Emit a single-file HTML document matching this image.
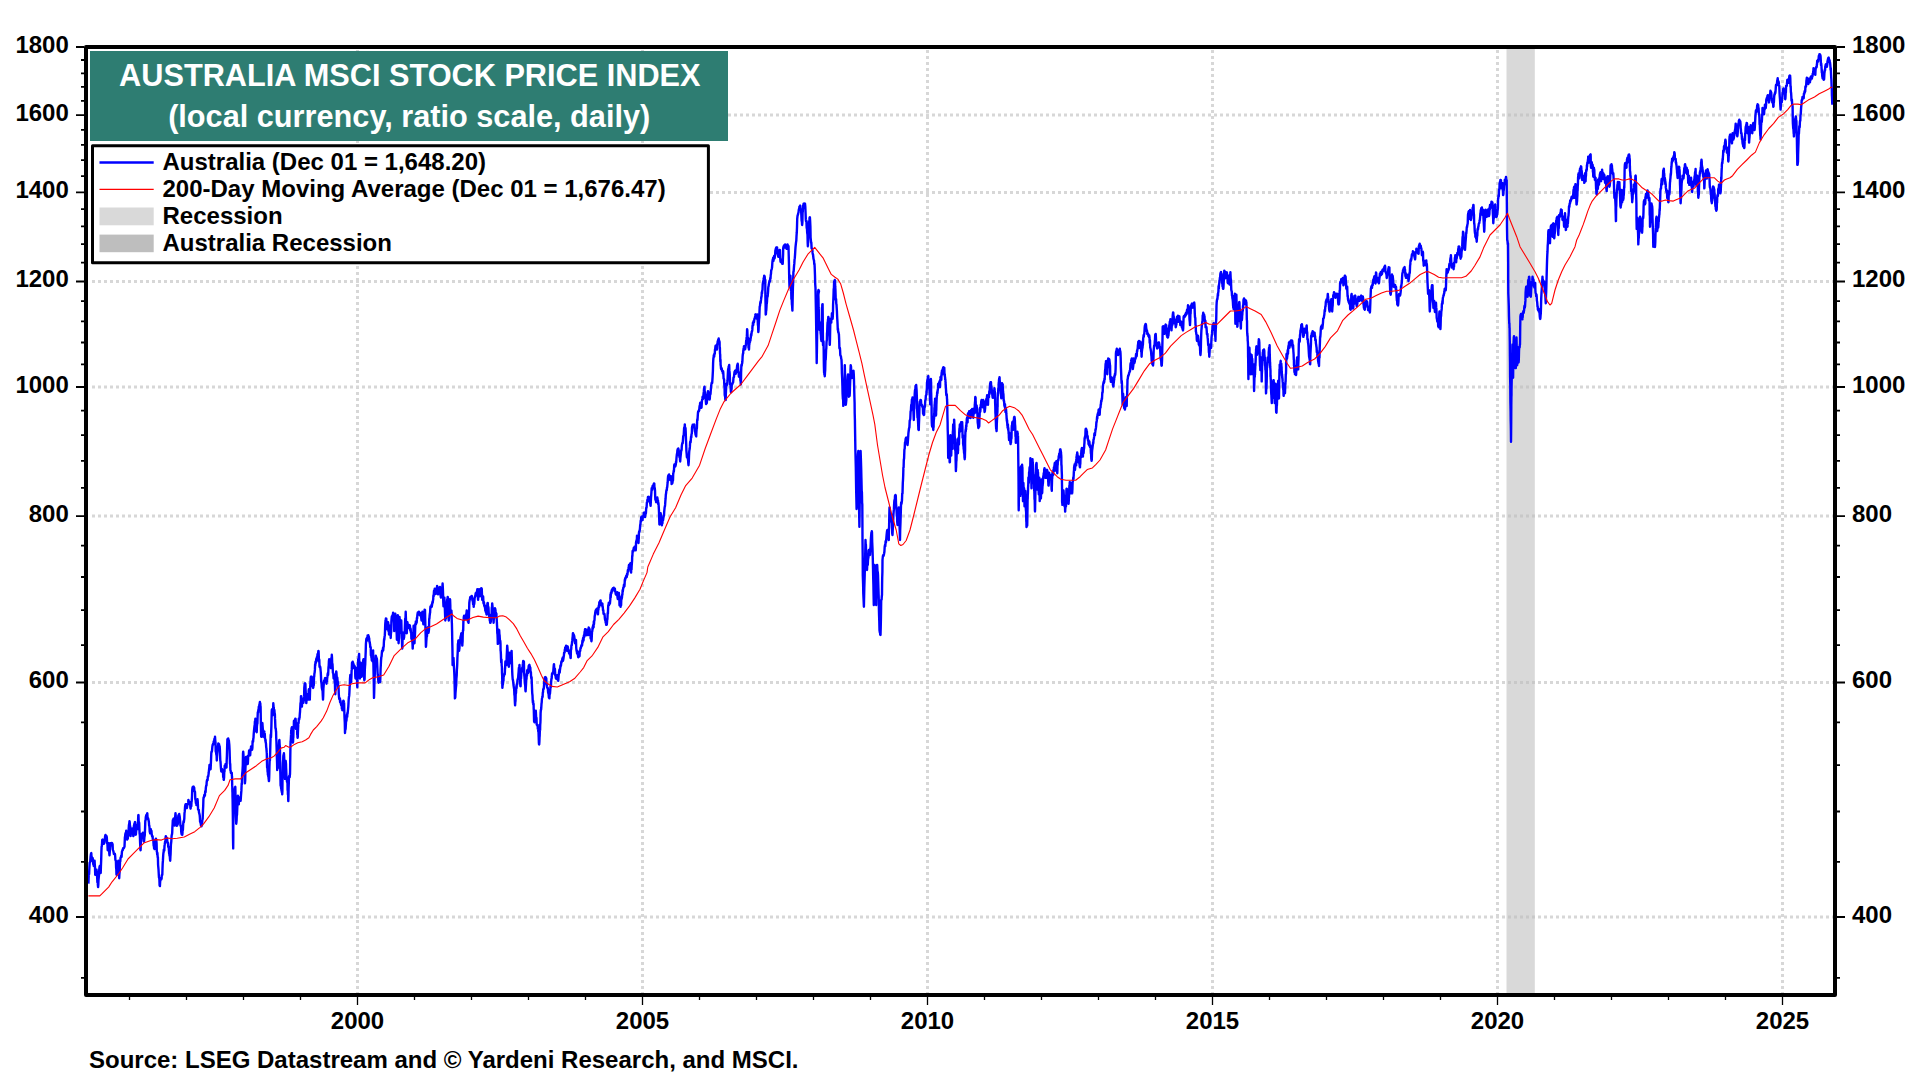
<!DOCTYPE html>
<html><head><meta charset="utf-8"><title>Australia MSCI Stock Price Index</title><style>html,body{margin:0;padding:0;background:#fff;}svg{display:block;}</style></head><body>
<svg width="1920" height="1080" viewBox="0 0 1920 1080">
<rect x="0" y="0" width="1920" height="1080" fill="#fff"/>
<rect x="1506.5" y="49" width="28.3" height="944" fill="#d9d9d9"/>
<path d="M92 115.1H1833 M92 192.4H1833 M92 281.5H1833 M92 387.0H1833 M92 516.1H1833 M92 682.5H1833 M92 917.0H1833 M357.5 50V993 M642.5 50V993 M927.5 50V993 M1212.5 50V993 M1497.5 50V993 M1782.5 50V993" stroke="#d7d7d7" stroke-width="3" stroke-dasharray="3 3" fill="none"/>
<clipPath id="bc"><rect x="1506.5" y="49" width="28.3" height="944"/></clipPath>
<path d="M92 115.1H1833 M92 192.4H1833 M92 281.5H1833 M92 387.0H1833 M92 516.1H1833 M92 682.5H1833 M92 917.0H1833 M357.5 50V993 M642.5 50V993 M927.5 50V993 M1212.5 50V993 M1497.5 50V993 M1782.5 50V993" stroke="#c8c8c8" stroke-width="3" stroke-dasharray="3 3" fill="none" clip-path="url(#bc)"/>
<path d="M88.4 883.6 L88.6 878.8 L88.8 874.1 L89.1 874.1 L89.3 869.5 L89.7 862.6 L90.2 861.9 L90.6 856.7 L91.0 853.7 L91.3 853.1 L91.5 857.2 L91.7 856.5 L91.9 860.7 L92.1 860.0 L92.4 858.2 L92.6 857.9 L92.8 859.0 L93.0 860.3 L93.2 864.2 L93.5 862.2 L93.7 866.0 L93.9 863.4 L94.1 864.0 L94.3 864.2 L94.6 860.7 L94.8 864.8 L95.0 867.0 L95.2 874.6 L95.4 874.8 L95.7 871.3 L95.9 873.9 L96.1 869.8 L96.3 869.5 L96.5 869.6 L96.8 871.7 L97.0 875.0 L97.2 878.3 L97.4 882.4 L97.6 880.8 L97.9 885.4 L98.1 887.1 L98.3 885.0 L98.5 880.1 L98.7 878.2 L99.0 874.8 L99.2 870.0 L99.4 867.8 L99.6 866.5 L99.8 866.0 L100.1 868.7 L100.3 869.1 L100.5 870.3 L100.7 873.0 L100.9 867.0 L101.2 859.5 L101.4 851.8 L101.6 846.6 L101.8 846.5 L102.0 844.2 L102.2 840.0 L102.5 839.6 L102.9 840.8 L103.3 841.5 L103.8 843.8 L104.2 843.1 L104.4 842.6 L104.7 838.5 L104.9 840.4 L105.1 836.1 L105.5 834.9 L105.8 835.8 L106.2 836.9 L106.5 836.1 L106.8 837.2 L107.1 843.1 L107.4 843.4 L107.7 850.2 L108.0 849.3 L108.2 848.1 L108.4 845.3 L108.6 843.1 L108.8 848.8 L109.1 848.0 L109.3 853.7 L109.5 855.4 L109.7 853.0 L109.9 849.8 L110.2 845.9 L110.4 843.1 L110.8 844.2 L111.3 844.6 L111.7 843.0 L112.1 843.1 L112.4 845.8 L112.6 844.3 L112.8 849.5 L113.0 850.2 L113.5 851.7 L113.9 854.0 L114.3 854.2 L114.8 853.7 L115.0 854.3 L115.2 856.6 L115.4 859.9 L115.7 860.7 L115.9 860.9 L116.1 867.5 L116.3 869.0 L116.5 874.8 L116.8 870.4 L117.0 867.8 L117.2 869.8 L117.4 866.0 L117.6 862.9 L117.9 862.2 L118.1 861.5 L118.3 860.7 L118.5 867.7 L118.7 866.6 L119.0 873.6 L119.2 878.3 L119.4 874.3 L119.6 872.2 L119.8 867.4 L120.1 860.7 L120.3 861.4 L120.5 858.0 L120.7 857.7 L120.9 857.2 L121.2 855.7 L121.4 857.1 L121.6 856.5 L121.8 853.7 L122.0 851.3 L122.3 850.5 L122.5 849.9 L122.7 850.2 L123.1 848.2 L123.6 848.3 L124.0 847.9 L124.5 846.6 L124.7 841.9 L124.9 837.1 L125.1 836.9 L125.3 834.3 L125.6 832.9 L125.8 832.9 L126.0 833.6 L126.2 830.8 L126.4 834.1 L126.7 835.3 L126.9 838.1 L127.1 839.6 L127.3 839.5 L127.5 836.0 L127.8 838.7 L128.0 836.1 L128.2 835.2 L128.4 833.2 L128.6 830.1 L128.9 825.5 L129.1 824.2 L129.3 823.4 L129.5 821.2 L129.7 822.0 L130.0 826.5 L130.2 826.0 L130.4 829.5 L130.6 836.1 L130.8 834.0 L131.1 832.9 L131.3 832.8 L131.5 832.6 L131.7 829.8 L131.9 828.7 L132.2 828.5 L132.4 829.1 L132.6 828.7 L132.8 831.9 L133.0 831.8 L133.3 836.1 L133.5 835.8 L133.7 831.5 L133.9 825.9 L134.1 825.5 L134.4 823.6 L134.6 823.1 L134.8 822.3 L135.0 822.0 L135.2 822.5 L135.5 830.6 L135.7 834.7 L135.9 834.3 L136.1 831.9 L136.3 829.8 L136.6 825.3 L136.8 825.5 L137.0 824.7 L137.2 826.6 L137.4 827.2 L137.6 829.1 L137.9 827.8 L138.1 819.7 L138.3 815.2 L138.5 815.0 L138.7 821.7 L139.0 822.2 L139.2 823.1 L139.4 829.1 L139.6 833.8 L139.8 834.5 L140.1 842.4 L140.3 846.6 L140.4 849.6 L140.5 850.0 L140.6 850.1 L140.6 850.2 L140.8 844.5 L140.9 841.3 L141.0 836.0 L141.2 834.3 L141.4 835.8 L141.6 835.3 L141.8 836.7 L142.0 836.1 L142.3 834.5 L142.5 833.2 L142.7 834.8 L142.9 832.6 L143.1 837.6 L143.4 839.0 L143.6 841.0 L143.8 841.4 L144.0 841.6 L144.2 839.9 L144.5 836.1 L144.7 836.1 L144.9 832.3 L145.1 827.2 L145.3 820.9 L145.6 820.3 L145.8 816.7 L146.0 816.6 L146.2 815.2 L146.4 815.0 L146.7 815.3 L146.9 815.8 L147.1 813.5 L147.3 813.2 L147.5 816.6 L147.8 818.2 L148.0 819.4 L148.2 818.5 L148.4 819.5 L148.6 820.5 L148.9 822.3 L149.1 825.5 L149.3 825.7 L149.5 827.5 L149.7 831.5 L150.0 832.6 L150.2 833.4 L150.4 832.3 L150.6 829.9 L150.8 829.1 L151.1 831.1 L151.3 833.1 L151.5 831.0 L151.7 834.3 L151.9 835.4 L152.2 836.7 L152.4 836.7 L152.6 836.1 L152.8 839.2 L153.0 839.5 L153.3 839.7 L153.5 843.1 L153.7 845.8 L153.9 845.0 L154.1 848.5 L154.4 848.4 L154.6 849.0 L154.8 843.4 L155.0 841.2 L155.2 839.6 L155.5 841.0 L155.7 840.3 L155.9 838.6 L156.1 839.6 L156.3 840.1 L156.6 843.4 L156.8 851.6 L157.0 851.9 L157.2 854.7 L157.4 852.9 L157.7 857.4 L157.9 857.2 L158.1 865.0 L158.3 867.1 L158.5 869.3 L158.8 874.8 L159.0 877.7 L159.2 877.7 L159.4 879.6 L159.6 885.3 L159.9 886.1 L160.1 882.6 L160.3 880.2 L160.5 878.3 L160.7 879.7 L161.0 878.1 L161.2 879.5 L161.4 878.3 L161.6 878.8 L161.8 875.3 L162.1 874.6 L162.3 874.8 L162.5 868.5 L162.7 863.3 L162.9 860.9 L163.2 855.4 L163.4 853.0 L163.6 852.4 L163.8 849.7 L164.0 850.2 L164.3 850.6 L164.5 845.9 L164.7 844.7 L164.9 843.1 L165.1 841.8 L165.4 841.8 L165.6 837.4 L165.8 836.1 L166.0 838.1 L166.2 837.0 L166.5 837.5 L166.7 837.9 L166.9 839.3 L167.1 838.2 L167.3 841.5 L167.6 843.1 L167.8 842.7 L168.0 842.8 L168.2 847.0 L168.4 846.6 L168.7 846.7 L168.9 850.0 L169.1 853.1 L169.3 853.7 L169.5 855.7 L169.8 856.3 L170.0 859.1 L170.2 860.7 L170.4 856.7 L170.6 853.9 L170.9 844.8 L171.1 843.1 L171.3 841.3 L171.5 837.3 L171.7 835.2 L172.0 834.3 L172.2 832.7 L172.4 827.4 L172.6 824.2 L172.8 820.3 L173.1 820.8 L173.3 820.9 L173.5 818.7 L173.7 818.5 L173.9 820.9 L174.1 822.1 L174.4 823.8 L174.6 825.5 L174.8 823.8 L175.0 819.1 L175.2 816.5 L175.5 813.2 L175.7 815.3 L175.9 820.2 L176.1 821.0 L176.3 822.0 L176.6 824.5 L176.8 825.7 L177.0 823.6 L177.2 825.5 L177.4 824.1 L177.7 824.4 L177.9 822.1 L178.1 818.5 L178.3 816.1 L178.5 815.1 L178.8 815.6 L179.0 815.0 L179.2 814.0 L179.4 815.6 L179.6 815.8 L179.9 818.5 L180.1 821.2 L180.3 823.5 L180.5 825.9 L180.7 825.5 L181.0 825.7 L181.2 831.2 L181.4 833.1 L181.6 834.3 L181.8 832.6 L182.1 834.9 L182.3 834.8 L182.5 832.6 L182.7 828.2 L182.9 830.2 L183.2 824.0 L183.4 822.0 L183.6 821.1 L183.8 822.3 L184.0 820.8 L184.3 818.5 L184.5 813.1 L184.7 811.9 L184.9 809.4 L185.1 806.2 L185.4 805.2 L185.6 804.2 L185.8 804.2 L186.0 804.4 L186.2 806.3 L186.5 804.1 L186.7 807.3 L186.9 808.0 L187.1 806.8 L187.3 804.1 L187.6 804.6 L187.8 804.4 L188.0 804.1 L188.2 802.7 L188.4 799.9 L188.7 800.9 L188.9 803.2 L189.1 802.9 L189.3 804.0 L189.5 802.7 L189.8 802.1 L190.0 804.2 L190.2 804.4 L190.4 808.0 L190.6 808.6 L190.9 806.2 L191.1 805.3 L191.3 806.2 L191.5 801.7 L191.7 801.2 L192.0 796.6 L192.2 790.4 L192.4 788.5 L192.6 787.1 L192.8 789.5 L193.1 786.8 L193.3 787.5 L193.5 788.5 L193.7 786.6 L193.9 788.6 L194.2 787.6 L194.4 791.2 L194.6 790.9 L194.8 792.1 L195.0 791.8 L195.3 799.1 L195.5 799.5 L195.7 800.9 L195.9 803.1 L196.1 800.9 L196.4 805.1 L196.6 804.4 L196.8 801.0 L197.0 803.5 L197.2 800.3 L197.5 799.2 L197.7 800.8 L197.9 804.8 L198.1 809.8 L198.3 809.7 L198.6 809.6 L198.8 809.9 L199.0 812.5 L199.2 813.2 L199.4 813.9 L199.7 815.3 L199.9 817.8 L200.1 822.0 L200.3 821.0 L200.5 822.5 L200.8 823.9 L201.0 825.5 L201.2 824.9 L201.4 826.4 L201.6 824.9 L201.9 825.5 L202.1 823.8 L202.3 820.3 L202.5 819.5 L202.7 818.5 L203.0 809.9 L203.2 806.2 L203.4 799.3 L203.6 797.4 L203.8 797.8 L204.1 796.7 L204.3 794.9 L204.5 795.6 L204.7 794.7 L204.9 795.7 L205.2 791.3 L205.4 792.1 L205.6 792.1 L205.8 788.2 L206.0 786.8 L206.3 785.1 L206.5 785.4 L206.7 781.9 L206.9 781.2 L207.1 779.8 L207.4 779.7 L207.6 780.1 L207.8 776.5 L208.0 776.3 L208.2 776.6 L208.5 774.6 L208.7 773.0 L208.9 771.0 L209.1 769.2 L209.3 767.6 L209.5 764.9 L209.8 765.7 L210.0 765.0 L210.2 765.7 L210.4 769.4 L210.6 769.3 L210.9 763.1 L211.1 758.1 L211.3 753.2 L211.5 751.7 L211.7 752.0 L212.0 750.8 L212.2 748.5 L212.4 746.4 L212.6 745.1 L212.8 744.5 L213.1 744.3 L213.3 744.6 L213.5 743.6 L213.7 741.4 L213.9 741.8 L214.2 741.1 L214.4 738.9 L214.6 741.0 L214.8 739.9 L215.0 736.7 L215.3 740.8 L215.5 742.4 L215.7 751.2 L215.9 751.7 L216.1 752.7 L216.4 755.2 L216.6 755.3 L216.8 760.5 L217.0 756.6 L217.2 754.1 L217.5 751.2 L217.7 748.1 L217.9 746.0 L218.1 746.4 L218.3 743.4 L218.6 744.6 L218.8 744.2 L219.0 744.0 L219.2 745.6 L219.4 746.4 L219.7 746.7 L219.9 750.1 L220.1 755.6 L220.3 760.5 L220.5 761.4 L220.8 766.3 L221.0 768.6 L221.2 771.0 L221.4 771.5 L221.6 770.7 L221.9 770.5 L222.1 769.3 L222.3 771.7 L222.5 770.5 L222.7 771.2 L223.0 772.8 L223.2 777.1 L223.4 774.4 L223.6 779.2 L223.8 779.8 L224.1 777.3 L224.3 769.6 L224.5 771.6 L224.7 765.7 L224.9 766.8 L225.2 765.3 L225.4 765.3 L225.6 764.0 L225.8 766.2 L226.0 764.2 L226.3 766.7 L226.5 767.5 L226.7 760.5 L226.9 755.8 L227.1 748.5 L227.4 739.3 L227.6 740.3 L227.8 739.2 L228.0 740.1 L228.2 738.5 L228.5 740.4 L228.7 741.5 L228.9 740.5 L229.1 742.9 L229.3 744.9 L229.6 750.9 L229.8 757.7 L230.0 764.0 L230.2 763.9 L230.4 770.3 L230.7 770.9 L230.9 772.8 L231.1 773.2 L231.3 773.2 L231.5 773.3 L231.8 772.8 L231.9 776.2 L232.0 776.3 L232.2 785.4 L232.3 786.8 L232.4 791.6 L232.5 793.0 L232.5 796.3 L232.6 799.2 L232.8 812.6 L232.9 820.7 L233.0 837.8 L233.2 848.4 L233.3 836.6 L233.3 825.2 L233.4 816.4 L233.5 808.0 L233.7 805.2 L234.0 797.1 L234.2 796.4 L234.4 790.4 L234.6 791.5 L234.8 788.6 L235.1 787.2 L235.3 786.8 L235.5 795.9 L235.7 806.6 L235.9 816.4 L236.2 823.8 L236.4 822.3 L236.6 820.2 L236.8 814.7 L237.0 815.0 L237.3 807.7 L237.5 803.6 L237.7 802.2 L237.9 795.6 L238.1 796.7 L238.4 800.4 L238.6 799.4 L238.8 804.4 L239.0 800.3 L239.2 799.7 L239.5 800.1 L239.7 797.4 L239.9 799.1 L240.1 799.9 L240.3 799.1 L240.6 800.9 L240.8 798.4 L241.0 795.4 L241.2 792.8 L241.4 790.4 L241.7 783.3 L241.9 784.3 L242.1 775.1 L242.3 772.8 L242.5 770.8 L242.8 765.3 L243.0 753.6 L243.2 751.7 L243.4 753.6 L243.6 757.9 L243.9 761.0 L244.1 760.5 L244.3 765.8 L244.5 770.3 L244.7 775.6 L244.9 783.3 L245.2 780.3 L245.4 769.0 L245.6 765.4 L245.8 758.7 L246.0 756.9 L246.3 757.9 L246.5 759.1 L246.7 756.9 L246.9 756.7 L247.1 762.2 L247.4 762.3 L247.6 764.0 L247.8 764.0 L248.0 760.8 L248.2 755.8 L248.5 755.2 L248.7 756.0 L248.9 753.4 L249.1 750.5 L249.3 751.7 L249.6 750.4 L249.8 753.4 L250.0 754.1 L250.2 755.2 L250.4 751.8 L250.7 748.7 L250.9 747.7 L251.1 746.4 L251.3 746.5 L251.5 749.6 L251.8 746.9 L252.0 749.9 L252.2 749.2 L252.4 747.5 L252.6 741.1 L252.9 741.1 L253.1 741.6 L253.3 738.7 L253.5 738.0 L253.7 734.1 L254.0 730.6 L254.2 728.9 L254.4 726.9 L254.6 725.3 L254.7 726.5 L254.8 723.6 L254.9 721.5 L255.0 721.1 L255.1 720.6 L255.3 719.8 L255.4 718.7 L255.6 720.0 L255.7 719.9 L255.8 726.4 L256.0 725.4 L256.1 728.9 L256.2 731.6 L256.4 729.5 L256.5 730.4 L256.7 732.2 L256.8 730.1 L256.9 726.0 L257.1 724.8 L257.2 723.3 L257.4 723.5 L257.5 720.3 L257.6 717.0 L257.8 712.2 L257.9 712.2 L258.1 712.7 L258.2 712.3 L258.3 710.0 L258.5 709.6 L258.6 709.7 L258.8 706.6 L258.9 707.8 L259.0 707.9 L259.2 705.9 L259.3 706.3 L259.4 704.4 L259.6 704.7 L259.7 703.1 L259.9 702.0 L260.0 703.3 L260.1 706.0 L260.3 703.4 L260.4 705.7 L260.6 706.7 L260.7 712.5 L260.8 719.1 L261.0 729.2 L261.1 734.4 L261.2 736.8 L261.4 734.6 L261.5 736.7 L261.7 736.7 L261.8 731.9 L261.9 730.4 L262.1 725.9 L262.2 723.3 L262.4 723.1 L262.5 724.5 L262.6 726.1 L262.8 728.9 L262.9 731.4 L263.1 730.5 L263.2 730.2 L263.3 732.2 L263.5 735.2 L263.6 736.7 L263.8 735.3 L263.9 736.7 L264.0 733.9 L264.2 733.1 L264.3 731.5 L264.4 732.2 L264.6 733.1 L264.7 733.4 L264.9 735.9 L265.0 738.9 L265.1 738.3 L265.3 739.7 L265.4 741.1 L265.6 740.0 L265.7 742.6 L265.8 742.4 L266.0 743.7 L266.1 745.6 L266.2 747.3 L266.4 748.2 L266.5 749.7 L266.7 752.2 L266.8 753.0 L266.9 758.4 L267.1 767.2 L267.2 767.8 L267.4 767.2 L267.5 770.0 L267.6 771.7 L267.8 772.2 L267.9 775.0 L268.1 773.2 L268.2 774.5 L268.3 776.7 L268.5 776.6 L268.6 778.4 L268.8 779.8 L268.9 781.1 L269.0 781.0 L269.2 776.9 L269.3 773.7 L269.4 767.8 L269.6 761.9 L269.7 759.2 L269.9 760.8 L270.0 756.7 L270.1 754.7 L270.3 747.0 L270.4 743.1 L270.6 737.8 L270.7 734.8 L270.8 735.7 L271.0 737.1 L271.1 734.4 L271.2 731.2 L271.4 725.8 L271.5 721.1 L271.7 712.2 L271.8 710.7 L271.9 709.6 L272.1 709.2 L272.2 710.0 L272.4 711.2 L272.5 713.0 L272.6 715.3 L272.8 714.4 L272.9 713.1 L273.1 709.9 L273.2 707.8 L273.3 703.3 L273.5 705.3 L273.6 708.1 L273.8 707.3 L273.9 712.2 L274.0 712.8 L274.2 710.1 L274.3 712.2 L274.4 710.0 L274.6 713.1 L274.7 713.3 L274.9 714.5 L275.0 718.9 L275.1 719.9 L275.3 724.7 L275.4 727.6 L275.6 728.9 L275.7 728.1 L275.8 728.8 L276.0 731.5 L276.1 732.2 L276.2 737.5 L276.4 740.9 L276.5 744.5 L276.7 751.1 L276.8 756.5 L276.9 757.1 L277.1 763.9 L277.2 770.0 L277.4 766.4 L277.5 766.5 L277.6 761.0 L277.8 756.7 L277.9 762.0 L278.1 762.1 L278.2 763.3 L278.3 767.8 L278.5 760.5 L278.6 759.9 L278.8 752.5 L278.9 745.6 L279.0 743.2 L279.2 740.5 L279.3 741.4 L279.4 740.0 L279.6 744.3 L279.7 745.6 L279.9 747.5 L280.0 752.2 L280.1 761.7 L280.3 771.9 L280.4 775.3 L280.6 785.6 L280.7 784.3 L280.8 786.0 L281.0 786.9 L281.1 787.8 L281.2 789.0 L281.4 787.7 L281.5 790.6 L281.7 790.0 L281.8 792.2 L281.9 792.2 L282.1 792.0 L282.2 794.4 L282.4 791.1 L282.5 779.8 L282.6 776.7 L282.8 767.8 L282.9 763.2 L283.1 760.4 L283.2 761.1 L283.3 756.7 L283.5 755.0 L283.6 756.9 L283.8 754.1 L283.9 753.3 L284.0 754.2 L284.2 757.5 L284.3 761.9 L284.4 765.6 L284.6 770.0 L284.7 775.4 L284.9 773.1 L285.0 778.9 L285.1 773.7 L285.3 768.0 L285.4 768.9 L285.6 761.1 L285.7 760.9 L285.8 762.1 L286.0 763.8 L286.1 767.8 L286.2 769.4 L286.4 774.6 L286.5 776.7 L286.7 776.7 L286.8 778.8 L286.9 781.1 L287.1 782.0 L287.2 781.1 L287.4 782.3 L287.5 783.7 L287.6 790.3 L287.8 790.0 L287.9 794.4 L288.1 792.5 L288.2 799.4 L288.3 801.1 L288.5 794.7 L288.6 789.1 L288.8 783.3 L288.9 778.9 L289.0 777.1 L289.2 775.9 L289.3 776.4 L289.4 776.7 L289.6 775.5 L289.7 777.3 L289.9 773.5 L290.0 774.4 L290.1 769.4 L290.3 755.7 L290.4 748.4 L290.6 741.1 L290.7 741.1 L290.8 739.5 L291.0 735.8 L291.1 734.4 L291.2 730.4 L291.4 731.0 L291.5 728.8 L291.7 727.8 L291.8 729.5 L291.9 727.2 L292.1 728.1 L292.2 728.9 L292.4 735.0 L292.5 732.3 L292.6 738.3 L292.8 742.2 L292.9 742.5 L293.1 741.2 L293.2 736.8 L293.3 737.8 L293.5 730.4 L293.6 726.4 L293.8 728.2 L293.9 721.1 L294.0 720.7 L294.2 723.2 L294.3 724.3 L294.4 723.3 L294.6 721.8 L294.7 720.7 L294.9 722.8 L295.0 720.0 L295.1 720.1 L295.3 718.6 L295.4 719.9 L295.6 718.9 L295.7 720.3 L295.8 722.5 L296.0 723.3 L296.1 728.9 L296.2 728.7 L296.4 728.1 L296.5 725.4 L296.7 723.3 L296.8 729.0 L296.9 725.8 L297.1 729.9 L297.2 734.4 L297.4 734.9 L297.5 737.3 L297.6 737.9 L297.8 736.7 L297.9 732.5 L298.1 728.3 L298.2 726.2 L298.3 723.3 L298.5 722.2 L298.6 723.1 L298.8 718.6 L298.9 718.9 L299.0 719.7 L299.2 719.2 L299.3 719.2 L299.4 717.8 L299.6 717.7 L299.7 715.5 L299.9 712.8 L300.0 712.2 L300.3 706.9 L300.5 703.2 L300.8 702.1 L301.0 696.1 L301.2 696.1 L301.5 699.4 L301.7 705.6 L301.9 706.6 L302.1 703.5 L302.3 700.8 L302.6 698.9 L302.8 699.6 L303.0 700.2 L303.2 699.8 L303.4 702.7 L303.6 701.4 L303.9 700.1 L304.1 696.9 L304.3 687.9 L304.5 685.5 L304.7 683.6 L305.0 683.2 L305.2 684.2 L305.4 683.8 L305.6 690.1 L305.8 693.1 L306.1 696.4 L306.3 703.1 L306.5 700.4 L306.7 699.4 L306.9 697.6 L307.2 694.3 L307.4 696.8 L307.6 698.6 L307.8 699.1 L308.0 699.6 L308.3 694.6 L308.5 696.5 L308.7 690.4 L308.9 689.1 L309.1 692.1 L309.4 693.5 L309.6 698.5 L309.8 699.6 L310.0 692.2 L310.2 687.3 L310.5 682.0 L310.7 678.5 L310.9 676.8 L311.1 679.1 L311.3 677.5 L311.6 676.7 L311.8 677.9 L312.0 680.5 L312.2 686.2 L312.4 685.5 L312.7 686.0 L312.9 685.4 L313.1 688.0 L313.3 687.3 L313.5 685.6 L313.8 685.1 L314.0 676.9 L314.2 676.7 L314.4 673.5 L314.6 672.8 L314.9 669.9 L315.1 664.4 L315.3 665.5 L315.5 661.8 L315.7 662.3 L316.0 662.7 L316.2 659.5 L316.4 658.6 L316.6 661.0 L316.8 657.4 L317.1 656.9 L317.3 657.5 L317.5 654.2 L317.7 653.9 L317.9 654.7 L318.2 652.4 L318.4 650.9 L318.6 651.2 L318.8 656.9 L319.0 661.8 L319.3 659.7 L319.5 666.2 L319.7 667.0 L319.9 667.5 L320.1 666.5 L320.4 668.0 L320.6 670.5 L320.8 672.5 L321.0 676.4 L321.2 682.0 L321.5 682.5 L321.7 686.1 L321.9 688.1 L322.1 689.1 L322.3 689.8 L322.6 691.2 L322.8 695.9 L323.0 699.6 L323.2 696.5 L323.4 688.6 L323.7 685.1 L323.9 682.0 L324.1 680.5 L324.3 682.2 L324.5 680.9 L324.8 680.3 L325.0 678.2 L325.2 677.9 L325.4 678.6 L325.6 678.5 L325.9 680.1 L326.1 681.8 L326.3 680.5 L326.5 683.8 L326.7 680.2 L327.0 681.3 L327.2 678.0 L327.4 676.7 L327.6 674.4 L327.8 673.2 L328.1 675.0 L328.3 671.5 L328.5 667.1 L328.7 665.8 L328.9 661.2 L329.2 659.2 L329.4 659.3 L329.6 661.4 L329.8 662.3 L330.0 660.9 L330.3 662.0 L330.5 662.8 L330.7 667.4 L330.9 668.0 L331.1 662.6 L331.4 657.9 L331.6 660.9 L331.8 654.8 L332.0 657.5 L332.2 663.6 L332.5 664.0 L332.7 668.0 L332.9 673.0 L333.1 673.0 L333.3 673.7 L333.6 678.5 L333.8 675.6 L334.0 677.0 L334.2 676.5 L334.4 675.0 L334.7 682.7 L334.9 681.8 L335.1 690.4 L335.3 694.3 L335.5 687.7 L335.8 682.9 L336.0 674.7 L336.2 671.5 L336.4 672.1 L336.6 675.1 L336.9 679.0 L337.1 678.5 L337.3 677.7 L337.5 680.2 L337.7 682.4 L338.0 682.0 L338.2 688.3 L338.4 686.1 L338.6 688.7 L338.8 694.3 L339.1 697.8 L339.3 699.2 L339.5 698.2 L339.7 699.6 L339.9 698.4 L340.1 702.1 L340.4 700.5 L340.6 701.4 L340.8 704.0 L341.0 703.6 L341.2 705.4 L341.5 704.9 L341.7 704.6 L341.9 708.9 L342.1 707.5 L342.3 710.2 L342.6 707.4 L342.8 707.8 L343.0 705.5 L343.2 701.4 L343.4 700.6 L343.7 701.2 L343.9 702.3 L344.1 703.1 L344.3 710.7 L344.5 717.3 L344.8 722.9 L345.0 733.0 L345.2 729.4 L345.4 729.9 L345.6 728.8 L345.9 724.2 L346.1 720.0 L346.3 721.1 L346.5 720.3 L346.7 717.2 L347.0 714.4 L347.2 716.9 L347.4 712.9 L347.6 713.7 L347.8 711.7 L348.1 708.7 L348.3 706.6 L348.5 703.1 L348.7 699.3 L348.9 697.3 L349.2 695.7 L349.4 692.6 L349.6 687.7 L349.8 684.9 L350.0 679.0 L350.3 675.0 L350.5 676.4 L350.7 676.0 L350.9 680.9 L351.1 682.0 L351.4 677.1 L351.6 670.5 L351.8 669.4 L352.0 662.7 L352.2 663.6 L352.5 662.5 L352.7 661.6 L352.9 662.7 L353.1 663.9 L353.3 663.4 L353.6 664.9 L353.8 668.0 L354.0 667.3 L354.2 665.5 L354.4 666.4 L354.7 666.2 L354.9 669.3 L355.1 669.2 L355.3 676.4 L355.5 678.5 L355.8 673.2 L356.0 674.7 L356.2 672.4 L356.4 668.0 L356.6 672.9 L356.9 674.5 L357.1 682.5 L357.3 687.3 L357.5 679.4 L357.7 676.4 L358.0 663.6 L358.2 659.2 L358.4 659.5 L358.6 658.9 L358.8 656.3 L359.1 653.9 L359.3 662.2 L359.5 664.0 L359.7 675.7 L359.9 678.5 L360.2 674.5 L360.4 673.8 L360.6 669.5 L360.8 662.7 L361.0 663.8 L361.3 671.7 L361.5 676.2 L361.7 676.7 L361.9 672.7 L362.1 672.4 L362.4 672.8 L362.6 669.7 L362.8 664.9 L363.0 667.0 L363.2 660.4 L363.5 659.2 L363.7 666.6 L363.9 667.2 L364.1 675.0 L364.3 680.3 L364.6 679.2 L364.8 670.3 L365.0 666.7 L365.2 664.4 L365.4 658.8 L365.7 651.7 L365.9 644.0 L366.1 641.6 L366.3 639.3 L366.5 638.4 L366.8 640.8 L367.0 638.0 L367.2 638.3 L367.4 638.6 L367.6 635.5 L367.9 636.3 L368.1 637.2 L368.3 635.1 L368.5 636.4 L368.7 636.3 L369.0 638.3 L369.2 638.3 L369.4 642.0 L369.6 641.6 L369.8 643.1 L370.1 644.6 L370.3 647.4 L370.5 646.8 L370.7 647.0 L370.9 655.3 L371.2 655.6 L371.4 657.4 L371.6 657.8 L371.8 660.4 L372.0 659.0 L372.3 660.9 L372.5 661.4 L372.7 656.1 L372.9 652.1 L373.1 650.4 L373.4 664.1 L373.6 673.7 L373.8 683.7 L374.0 697.9 L374.2 692.1 L374.5 679.7 L374.7 677.7 L374.9 668.0 L375.1 663.2 L375.3 662.8 L375.5 662.1 L375.8 655.6 L376.0 656.9 L376.2 658.1 L376.4 657.5 L376.6 659.2 L376.9 658.8 L377.1 662.1 L377.3 666.0 L377.5 671.5 L377.7 674.8 L378.0 676.3 L378.2 679.5 L378.4 682.0 L378.6 682.8 L378.8 678.7 L379.1 678.2 L379.3 678.5 L379.5 680.0 L379.7 678.2 L379.9 679.0 L380.2 682.0 L380.4 675.7 L380.6 668.7 L380.8 665.2 L381.0 660.9 L381.3 657.1 L381.5 657.0 L381.7 654.8 L381.9 652.1 L382.1 650.6 L382.4 651.7 L382.6 650.7 L382.8 650.4 L383.0 647.9 L383.2 650.5 L383.5 646.6 L383.7 646.8 L383.9 642.0 L384.1 639.0 L384.3 639.8 L384.6 636.3 L384.8 635.4 L385.0 631.2 L385.2 625.0 L385.4 622.2 L385.7 620.3 L385.9 618.4 L386.1 620.2 L386.3 618.7 L386.5 621.7 L386.8 623.0 L387.0 627.5 L387.2 629.3 L387.4 627.2 L387.6 628.1 L387.9 625.2 L388.1 622.2 L388.3 623.6 L388.5 631.2 L388.7 628.3 L389.0 634.5 L389.2 632.5 L389.4 629.6 L389.6 626.4 L389.8 625.7 L390.1 625.8 L390.3 633.8 L390.5 631.6 L390.7 638.0 L390.9 633.6 L391.2 631.5 L391.4 621.0 L391.6 618.7 L391.8 616.5 L392.0 617.4 L392.3 616.1 L392.5 615.2 L392.7 615.3 L392.9 615.5 L393.1 612.6 L393.4 613.4 L393.6 616.5 L393.8 620.8 L394.0 623.5 L394.2 631.0 L394.5 629.8 L394.7 625.1 L394.9 620.6 L395.1 615.2 L395.3 613.8 L395.6 617.3 L395.8 617.4 L396.0 616.9 L396.2 622.4 L396.4 630.1 L396.7 633.8 L396.9 639.8 L397.1 631.7 L397.3 624.7 L397.5 619.5 L397.8 615.2 L398.0 619.0 L398.2 628.1 L398.4 638.0 L398.6 643.3 L398.9 638.1 L399.1 632.5 L399.3 625.0 L399.5 616.9 L399.7 619.3 L400.0 625.2 L400.2 628.4 L400.4 632.8 L400.6 631.7 L400.8 626.8 L401.1 621.9 L401.3 620.5 L401.5 628.5 L401.7 637.8 L401.9 639.6 L402.2 648.6 L402.4 647.3 L402.6 637.3 L402.8 635.1 L403.0 632.8 L403.3 632.8 L403.5 636.6 L403.7 638.9 L403.9 638.0 L404.1 637.3 L404.4 632.6 L404.6 633.7 L404.8 629.3 L405.0 623.7 L405.2 618.6 L405.5 618.9 L405.7 611.7 L405.9 617.9 L406.1 623.6 L406.3 628.7 L406.6 632.8 L406.8 633.2 L407.0 627.3 L407.2 627.0 L407.4 622.2 L407.7 624.5 L407.9 626.6 L408.1 625.9 L408.3 627.5 L408.5 627.9 L408.8 626.9 L409.0 625.5 L409.2 625.7 L409.4 625.1 L409.6 627.1 L409.9 625.5 L410.1 627.5 L410.3 630.8 L410.5 628.4 L410.7 629.2 L410.9 632.8 L411.2 632.4 L411.4 638.6 L411.6 637.2 L411.8 639.8 L412.0 639.9 L412.3 641.5 L412.5 643.7 L412.7 648.6 L412.9 644.2 L413.1 638.1 L413.4 632.8 L413.6 625.7 L413.8 631.8 L414.0 631.5 L414.2 639.6 L414.5 643.3 L414.7 637.5 L414.9 635.9 L415.1 631.0 L415.3 624.0 L415.6 625.0 L415.8 621.5 L416.0 624.0 L416.2 622.2 L416.4 623.1 L416.7 622.3 L416.9 617.9 L417.1 618.7 L417.3 616.0 L417.5 614.2 L417.8 612.5 L418.0 613.4 L418.2 614.3 L418.4 613.7 L418.6 612.6 L418.9 611.7 L419.1 613.9 L419.3 614.0 L419.5 613.4 L419.7 615.2 L420.0 613.2 L420.2 612.8 L420.4 614.8 L420.6 613.4 L420.8 613.6 L421.1 616.0 L421.3 618.3 L421.5 620.5 L421.7 615.5 L421.9 614.6 L422.2 612.6 L422.4 611.7 L422.6 616.2 L422.8 616.9 L423.0 619.7 L423.3 624.0 L423.5 624.3 L423.7 618.7 L423.9 618.3 L424.1 613.4 L424.4 613.0 L424.6 609.7 L424.8 610.4 L425.0 609.9 L425.2 618.7 L425.5 630.3 L425.7 636.5 L425.9 646.8 L426.1 645.5 L426.3 641.8 L426.6 637.1 L426.8 636.3 L427.0 636.2 L427.2 629.5 L427.4 631.6 L427.7 627.5 L427.9 627.2 L428.1 627.7 L428.3 630.0 L428.5 632.8 L428.8 631.1 L429.0 629.1 L429.2 618.7 L429.4 618.7 L429.6 616.0 L429.9 613.4 L430.1 612.7 L430.3 608.1 L430.5 606.5 L430.7 607.2 L431.0 606.3 L431.2 606.4 L431.4 607.2 L431.6 604.6 L431.8 606.7 L432.1 604.6 L432.3 602.8 L432.5 601.7 L432.7 602.8 L432.9 601.1 L433.2 599.3 L433.4 595.5 L433.6 596.6 L433.8 594.1 L434.0 590.7 L434.3 592.8 L434.5 591.1 L434.7 588.8 L434.9 591.5 L435.1 592.0 L435.4 592.1 L435.6 594.1 L435.8 592.8 L436.0 591.9 L436.2 593.1 L436.5 590.6 L436.7 587.9 L436.9 590.4 L437.1 585.9 L437.3 587.0 L437.6 587.2 L437.8 589.3 L438.0 594.4 L438.2 594.1 L438.4 592.8 L438.7 590.9 L438.9 592.0 L439.1 588.8 L439.3 587.4 L439.5 587.8 L439.8 587.6 L440.0 587.0 L440.2 591.3 L440.4 593.9 L440.6 595.9 L440.9 597.6 L441.1 595.0 L441.3 593.2 L441.5 590.5 L441.7 590.6 L442.0 590.6 L442.2 587.9 L442.4 586.6 L442.6 583.5 L442.8 586.9 L443.1 594.5 L443.3 602.6 L443.5 606.4 L443.7 604.6 L443.9 599.8 L444.2 599.6 L444.4 597.6 L444.6 606.0 L444.8 607.2 L445.0 612.6 L445.3 620.5 L445.5 618.2 L445.7 618.8 L445.9 618.1 L446.1 615.2 L446.4 609.2 L446.6 605.7 L446.8 602.9 L447.0 601.1 L447.2 599.5 L447.4 599.4 L447.7 597.0 L447.9 597.6 L448.1 602.1 L448.3 606.8 L448.5 618.1 L448.8 620.5 L449.1 616.8 L449.4 607.1 L449.7 607.9 L450.0 599.3 L450.1 599.8 L450.3 605.0 L450.4 612.4 L450.5 612.2 L450.7 612.9 L451.0 612.2 L451.2 610.7 L451.4 610.5 L451.6 613.6 L451.8 622.0 L451.9 623.5 L452.1 631.6 L452.2 637.9 L452.4 647.5 L452.5 653.4 L452.6 665.0 L452.9 662.7 L453.1 663.0 L453.3 660.7 L453.5 658.0 L453.7 662.4 L454.0 667.7 L454.2 670.9 L454.4 675.5 L454.5 678.8 L454.7 687.7 L454.8 692.0 L454.9 698.4 L455.1 697.9 L455.3 697.1 L455.5 692.8 L455.6 691.4 L455.9 687.9 L456.2 685.2 L456.4 678.9 L456.7 675.5 L456.9 669.2 L457.0 668.3 L457.2 665.0 L457.4 658.0 L457.5 656.4 L457.7 652.3 L457.8 649.9 L457.9 643.9 L458.0 643.8 L458.2 642.7 L458.3 641.0 L458.4 640.4 L458.6 641.8 L458.8 646.5 L459.0 645.7 L459.1 650.9 L459.3 648.7 L459.4 648.9 L459.5 646.8 L459.7 643.9 L459.9 642.8 L460.1 639.0 L460.3 638.2 L460.6 636.8 L460.8 635.8 L461.0 635.6 L461.2 633.8 L461.4 633.3 L461.7 637.6 L461.9 642.4 L462.1 640.4 L462.3 645.6 L462.4 643.6 L462.6 641.4 L462.7 635.6 L462.8 633.3 L463.0 630.2 L463.2 630.4 L463.4 620.9 L463.5 621.0 L463.7 619.9 L463.8 616.8 L463.9 618.4 L464.1 615.7 L464.3 618.5 L464.5 617.6 L464.7 616.7 L465.0 619.3 L465.2 618.7 L465.4 617.7 L465.6 617.5 L465.8 615.7 L466.1 614.5 L466.3 613.8 L466.5 613.4 L466.7 610.5 L466.9 612.8 L467.2 614.3 L467.4 619.7 L467.6 619.3 L467.8 618.9 L468.0 621.8 L468.2 621.4 L468.5 622.8 L468.6 621.8 L468.7 615.1 L468.9 617.9 L469.0 612.2 L469.2 608.1 L469.3 603.0 L469.5 601.4 L469.7 599.9 L470.0 599.1 L470.2 597.2 L470.5 598.3 L470.8 598.1 L470.9 597.4 L471.1 598.0 L471.3 596.3 L471.5 596.4 L471.7 595.9 L471.9 596.2 L472.1 598.6 L472.3 598.1 L472.5 600.9 L472.6 600.0 L472.7 599.6 L472.9 601.7 L473.1 604.4 L473.3 603.8 L473.5 604.2 L473.7 606.9 L474.0 602.6 L474.2 604.2 L474.4 602.2 L474.6 598.1 L474.8 597.8 L475.1 596.3 L475.3 595.8 L475.5 594.6 L475.7 593.2 L475.9 595.5 L476.2 592.8 L476.4 592.9 L476.6 592.6 L476.8 592.5 L477.0 591.6 L477.3 589.3 L477.5 591.8 L477.7 593.3 L477.9 597.6 L478.1 599.9 L478.4 594.9 L478.6 596.8 L478.8 591.1 L479.0 589.3 L479.2 593.0 L479.5 591.6 L479.7 594.0 L479.9 596.4 L480.1 593.9 L480.3 593.4 L480.6 590.9 L480.8 591.1 L481.0 588.5 L481.2 590.7 L481.4 588.3 L481.7 588.5 L481.8 589.6 L481.9 592.9 L482.1 596.9 L482.2 599.9 L482.4 598.7 L482.6 598.7 L482.8 597.9 L483.1 596.4 L483.2 597.4 L483.4 602.2 L483.6 603.5 L483.8 603.4 L484.0 602.2 L484.2 605.5 L484.4 606.3 L484.7 605.2 L484.9 607.9 L485.1 606.1 L485.3 610.7 L485.5 610.5 L485.8 611.9 L486.0 610.2 L486.2 611.0 L486.4 614.0 L486.6 614.4 L486.9 610.5 L487.1 605.9 L487.3 605.2 L487.4 603.3 L487.6 603.0 L487.7 602.9 L487.8 603.4 L488.0 607.2 L488.3 606.9 L488.5 608.0 L488.7 612.2 L488.9 615.5 L489.1 616.2 L489.4 614.6 L489.6 617.5 L489.8 620.7 L490.0 620.7 L490.2 622.8 L490.5 622.8 L490.7 621.9 L490.9 621.3 L491.1 619.0 L491.3 615.7 L491.6 615.0 L491.8 607.5 L492.0 607.8 L492.2 603.4 L492.4 605.3 L492.7 608.2 L492.9 608.4 L493.1 610.5 L493.2 616.2 L493.4 617.0 L493.5 618.1 L493.6 622.8 L493.8 619.0 L494.0 616.3 L494.2 616.1 L494.3 614.0 L494.5 610.5 L494.8 611.2 L495.0 608.3 L495.2 608.7 L495.4 610.0 L495.6 611.3 L495.9 612.8 L496.1 614.0 L496.2 616.4 L496.4 613.6 L496.5 618.1 L496.6 617.5 L496.7 619.5 L496.9 622.3 L497.0 625.1 L497.1 626.3 L497.3 633.1 L497.5 634.2 L497.7 638.9 L497.8 643.9 L498.1 643.6 L498.3 633.9 L498.5 634.3 L498.7 629.8 L498.9 631.8 L499.2 630.2 L499.4 634.3 L499.6 635.1 L499.8 638.3 L500.0 642.0 L500.3 640.7 L500.5 643.9 L500.6 650.8 L500.7 651.0 L500.9 654.3 L501.0 658.0 L501.2 662.5 L501.5 659.6 L501.7 665.8 L501.9 666.7 L502.0 672.9 L502.2 676.2 L502.3 685.1 L502.4 687.9 L502.6 685.4 L502.9 684.2 L503.1 682.7 L503.3 680.8 L503.5 680.8 L503.6 676.8 L503.8 676.6 L504.0 675.5 L504.2 674.3 L504.4 674.0 L504.7 674.3 L504.9 672.0 L505.0 668.1 L505.1 668.8 L505.3 663.5 L505.4 661.5 L505.6 662.4 L505.8 662.3 L506.1 664.1 L506.3 665.0 L506.5 663.5 L506.7 656.4 L506.9 652.5 L507.2 645.6 L507.4 647.6 L507.6 650.5 L507.8 653.5 L508.0 658.0 L508.3 660.7 L508.5 663.1 L508.7 666.2 L508.9 666.7 L509.1 660.0 L509.4 661.3 L509.6 658.9 L509.8 652.7 L510.0 655.6 L510.2 655.1 L510.5 659.3 L510.7 663.2 L510.9 656.7 L511.1 654.9 L511.3 656.9 L511.6 650.9 L511.8 657.8 L512.0 664.3 L512.2 671.4 L512.4 675.5 L512.7 679.5 L512.9 679.7 L513.1 681.4 L513.3 682.6 L513.5 685.0 L513.8 687.1 L514.0 688.4 L514.2 689.6 L514.4 694.8 L514.6 695.5 L514.9 702.7 L515.1 705.4 L515.3 702.1 L515.5 701.1 L515.7 693.5 L516.0 693.1 L516.2 689.1 L516.4 686.0 L516.6 688.1 L516.8 684.3 L517.1 685.0 L517.3 682.4 L517.5 679.8 L517.7 679.1 L517.9 679.0 L518.2 677.1 L518.4 674.1 L518.6 672.0 L518.8 669.0 L519.0 667.5 L519.3 666.3 L519.5 665.0 L519.7 669.0 L519.9 675.1 L520.1 681.8 L520.4 686.1 L520.6 686.2 L520.8 678.0 L521.0 678.6 L521.2 675.5 L521.5 671.3 L521.7 670.0 L521.9 671.9 L522.1 668.5 L522.3 667.5 L522.6 667.9 L522.8 664.3 L523.0 663.2 L523.2 661.0 L523.4 661.9 L523.7 662.3 L523.9 661.5 L524.1 669.8 L524.3 675.4 L524.5 677.1 L524.8 682.6 L525.0 684.3 L525.2 684.7 L525.4 690.0 L525.6 691.4 L525.9 686.3 L526.1 682.8 L526.3 678.8 L526.5 679.1 L526.7 674.0 L527.0 675.7 L527.2 670.3 L527.4 670.3 L527.6 672.4 L527.8 669.6 L528.1 673.0 L528.3 672.0 L528.5 668.3 L528.7 665.9 L528.9 667.9 L529.2 665.0 L529.4 664.8 L529.6 667.7 L529.8 666.3 L530.0 668.5 L530.3 667.5 L530.5 671.4 L530.7 672.1 L530.9 672.0 L531.1 676.9 L531.4 678.8 L531.6 677.3 L531.8 682.6 L532.0 687.9 L532.2 692.8 L532.5 695.5 L532.7 700.2 L532.9 702.9 L533.1 700.9 L533.3 704.8 L533.6 703.7 L533.7 709.6 L533.8 709.1 L533.9 713.5 L534.1 721.3 L534.3 721.8 L534.5 722.3 L534.7 719.9 L535.0 721.3 L535.2 717.4 L535.4 717.5 L535.6 711.2 L535.8 710.7 L536.1 716.8 L536.3 717.7 L536.5 718.2 L536.7 724.8 L536.9 724.4 L537.1 725.0 L537.2 724.6 L537.4 724.8 L537.6 726.4 L537.7 725.0 L537.8 728.7 L538.0 728.3 L538.1 728.6 L538.2 730.7 L538.3 731.5 L538.5 731.8 L538.6 734.3 L538.7 737.2 L538.9 743.0 L539.0 744.1 L539.2 744.5 L539.4 741.4 L539.5 737.9 L539.7 735.3 L539.8 731.4 L540.0 727.3 L540.1 730.4 L540.2 724.8 L540.4 722.7 L540.5 720.0 L540.6 713.1 L540.8 710.7 L540.9 709.5 L541.1 709.7 L541.3 707.2 L541.5 703.7 L541.7 702.5 L541.9 699.2 L542.1 698.0 L542.3 696.6 L542.6 697.0 L542.8 692.5 L543.0 692.4 L543.2 689.6 L543.4 688.8 L543.7 688.9 L543.9 687.1 L544.1 684.3 L544.3 681.4 L544.5 678.2 L544.8 677.8 L545.0 677.3 L545.2 677.1 L545.4 677.6 L545.6 678.3 L545.9 677.3 L546.1 681.1 L546.3 678.4 L546.5 684.3 L546.7 684.3 L547.0 686.5 L547.2 687.7 L547.4 687.3 L547.6 687.9 L547.8 688.1 L548.1 692.2 L548.3 693.3 L548.5 693.1 L548.7 695.3 L548.9 697.7 L549.2 696.4 L549.4 698.4 L549.6 693.8 L549.8 694.3 L550.0 693.5 L550.3 689.6 L550.5 686.3 L550.7 687.4 L550.9 686.6 L551.1 682.6 L551.4 678.8 L551.6 678.8 L551.8 677.0 L552.0 673.8 L552.2 673.7 L552.5 672.8 L552.7 673.0 L552.9 673.8 L553.1 673.0 L553.3 671.1 L553.6 667.0 L553.8 665.0 L554.0 664.1 L554.2 668.1 L554.4 668.8 L554.7 668.5 L554.9 668.8 L555.1 672.4 L555.3 675.9 L555.5 675.5 L555.8 678.1 L556.0 677.4 L556.2 678.1 L556.4 679.1 L556.6 678.6 L556.9 676.0 L557.1 675.1 L557.3 675.5 L557.5 675.3 L557.7 679.1 L558.0 678.8 L558.2 680.8 L558.4 679.0 L558.6 675.9 L558.8 674.3 L559.1 672.0 L559.3 670.3 L559.5 669.4 L559.7 672.6 L559.9 670.3 L560.2 668.3 L560.4 665.7 L560.6 666.9 L560.8 665.0 L561.0 665.3 L561.3 661.8 L561.5 662.8 L561.7 661.5 L561.9 660.5 L562.1 660.7 L562.4 658.4 L562.6 659.7 L562.8 657.5 L563.0 660.7 L563.2 659.8 L563.5 658.0 L563.7 656.6 L563.9 655.6 L564.1 652.9 L564.3 652.7 L564.6 652.7 L564.8 649.7 L565.0 650.9 L565.2 647.4 L565.4 648.0 L565.7 647.7 L565.9 647.8 L566.1 645.6 L566.3 645.8 L566.5 646.1 L566.8 648.2 L567.0 650.9 L567.2 648.7 L567.4 647.4 L567.6 646.4 L567.9 647.4 L568.1 648.5 L568.3 650.7 L568.5 649.9 L568.7 650.9 L569.0 653.0 L569.2 653.3 L569.4 650.6 L569.6 652.7 L569.8 654.5 L570.1 654.8 L570.3 654.8 L570.5 658.0 L570.7 658.0 L570.9 650.1 L571.2 649.2 L571.4 645.6 L571.6 645.0 L571.8 645.2 L572.0 642.5 L572.3 640.4 L572.5 638.0 L572.7 636.6 L572.9 633.3 L573.1 633.3 L573.4 636.2 L573.6 637.2 L573.8 634.8 L574.0 636.8 L574.2 636.0 L574.5 638.3 L574.7 640.1 L574.9 642.1 L575.1 643.2 L575.3 642.7 L575.5 642.1 L575.8 640.4 L576.0 640.1 L576.2 647.5 L576.4 649.6 L576.6 650.9 L576.9 651.9 L577.1 653.6 L577.3 650.6 L577.5 652.7 L577.7 652.0 L578.0 655.5 L578.2 657.2 L578.4 656.2 L578.6 656.8 L578.8 655.5 L579.1 656.5 L579.3 656.2 L579.5 656.1 L579.7 651.7 L579.9 651.4 L580.2 650.9 L580.4 649.0 L580.6 647.6 L580.8 648.2 L581.0 647.4 L581.3 645.7 L581.5 645.5 L581.7 644.7 L581.9 645.6 L582.1 645.2 L582.4 640.7 L582.6 642.7 L582.8 640.4 L583.0 638.8 L583.2 637.8 L583.5 640.6 L583.7 638.6 L583.9 635.4 L584.1 637.4 L584.3 635.3 L584.6 631.6 L584.8 632.6 L585.0 629.3 L585.2 630.0 L585.4 629.8 L585.7 629.2 L585.9 634.5 L586.1 635.4 L586.3 635.1 L586.5 634.4 L586.8 632.2 L587.0 630.4 L587.2 629.8 L587.4 632.7 L587.6 632.3 L587.9 634.4 L588.1 635.1 L588.3 631.4 L588.5 630.1 L588.7 627.5 L589.0 628.0 L589.2 629.8 L589.4 630.0 L589.6 629.2 L589.8 631.6 L590.1 635.3 L590.3 633.8 L590.5 636.4 L590.7 638.6 L590.9 637.8 L591.2 638.6 L591.4 641.2 L591.6 640.4 L591.8 636.1 L592.0 631.9 L592.3 631.1 L592.5 628.0 L592.7 626.9 L592.9 628.7 L593.1 625.3 L593.4 626.3 L593.6 627.3 L593.8 621.5 L594.0 624.2 L594.2 621.0 L594.5 620.1 L594.7 616.0 L594.9 615.6 L595.1 614.0 L595.3 612.2 L595.6 611.2 L595.8 610.1 L596.0 610.5 L596.2 609.5 L596.4 611.4 L596.7 611.0 L596.9 608.7 L597.1 612.1 L597.3 609.4 L597.5 611.6 L597.8 614.0 L598.0 614.3 L598.2 608.1 L598.4 609.9 L598.6 606.9 L598.9 605.2 L599.1 607.2 L599.3 602.2 L599.5 603.4 L599.7 604.1 L600.0 601.9 L600.2 600.8 L600.4 601.7 L600.6 600.4 L600.8 604.8 L601.1 604.4 L601.3 605.2 L601.5 603.6 L601.7 604.1 L601.9 605.4 L602.2 603.4 L602.4 603.7 L602.6 607.3 L602.8 606.8 L603.0 610.5 L603.3 610.0 L603.5 613.4 L603.7 614.0 L603.9 614.0 L604.1 613.6 L604.4 613.9 L604.6 614.9 L604.8 617.5 L605.0 619.3 L605.2 620.1 L605.5 620.4 L605.7 622.8 L605.9 622.1 L606.1 624.1 L606.3 624.9 L606.6 624.5 L606.8 624.7 L607.0 622.3 L607.2 619.1 L607.4 619.3 L607.7 612.7 L607.9 613.8 L608.1 608.1 L608.3 605.2 L608.5 605.6 L608.8 602.6 L609.0 605.0 L609.2 603.4 L609.4 602.4 L609.6 603.8 L609.9 603.5 L610.1 601.7 L610.3 599.4 L610.5 594.4 L610.7 597.5 L610.9 592.9 L611.2 592.3 L611.4 593.4 L611.6 590.7 L611.8 591.1 L612.0 589.5 L612.3 591.5 L612.5 589.3 L612.7 589.3 L612.9 588.3 L613.1 588.9 L613.4 589.7 L613.6 589.3 L613.8 587.8 L614.0 589.4 L614.2 589.2 L614.5 589.3 L614.7 589.8 L614.9 588.8 L615.1 591.5 L615.3 591.1 L615.6 593.3 L615.8 594.4 L616.0 593.0 L616.2 594.6 L616.4 595.0 L616.7 593.3 L616.9 594.2 L617.1 592.9 L617.3 592.1 L617.5 597.3 L617.8 599.0 L618.0 598.1 L618.2 596.8 L618.4 595.6 L618.6 594.3 L618.9 592.9 L619.1 596.2 L619.3 595.7 L619.5 605.3 L619.7 605.2 L620.0 604.6 L620.2 604.9 L620.4 605.0 L620.6 606.9 L620.8 603.9 L621.1 605.1 L621.3 599.2 L621.5 599.9 L621.7 596.7 L621.9 598.2 L622.2 594.5 L622.4 594.6 L622.6 590.3 L622.8 591.6 L623.0 589.8 L623.3 587.6 L623.5 587.2 L623.7 587.5 L623.9 584.8 L624.1 585.8 L624.4 586.3 L624.6 584.2 L624.8 579.7 L625.0 580.6 L625.2 578.1 L625.5 578.8 L625.7 577.9 L625.9 577.0 L626.1 576.3 L626.3 575.8 L626.6 576.7 L626.8 577.0 L627.0 574.0 L627.2 574.8 L627.4 574.8 L627.7 571.8 L627.9 570.0 L628.1 571.2 L628.3 571.4 L628.5 570.0 L628.6 567.2 L628.7 569.1 L628.8 568.4 L628.9 565.2 L629.1 564.8 L629.3 564.9 L629.4 566.3 L629.6 565.2 L629.8 564.8 L630.0 563.9 L630.2 565.5 L630.4 563.3 L630.6 567.3 L630.7 567.0 L630.9 568.7 L631.1 572.6 L631.2 569.8 L631.4 568.5 L631.5 569.6 L631.7 565.2 L631.8 564.7 L631.9 563.0 L632.1 560.1 L632.2 555.9 L632.4 556.2 L632.6 551.0 L632.8 551.8 L633.0 550.4 L633.2 551.6 L633.4 551.1 L633.7 548.0 L633.9 548.5 L634.1 547.8 L634.4 548.1 L634.6 546.6 L634.8 546.7 L635.0 547.7 L635.3 546.7 L635.5 549.2 L635.7 550.4 L635.9 548.1 L636.0 542.9 L636.2 541.3 L636.3 541.1 L636.5 542.0 L636.7 539.7 L636.9 539.1 L637.0 535.6 L637.3 536.5 L637.5 537.6 L637.7 538.4 L638.0 537.4 L638.1 540.7 L638.2 537.9 L638.4 542.3 L638.5 543.0 L638.7 538.7 L638.8 538.6 L638.9 533.1 L639.1 531.9 L639.3 531.1 L639.5 531.8 L639.8 529.6 L640.0 528.1 L640.2 524.9 L640.4 524.6 L640.6 522.2 L640.7 520.7 L640.9 521.8 L641.1 518.0 L641.3 517.1 L641.5 517.0 L641.7 518.1 L641.9 516.5 L642.0 518.8 L642.2 518.9 L642.5 520.1 L642.7 518.0 L642.9 516.6 L643.1 517.0 L643.4 516.0 L643.6 515.3 L643.8 512.7 L644.1 513.3 L644.3 512.6 L644.5 513.6 L644.8 515.2 L645.0 517.0 L645.2 515.7 L645.5 514.3 L645.7 513.2 L645.9 513.3 L646.2 507.9 L646.4 508.1 L646.6 507.2 L646.9 502.2 L647.1 501.8 L647.3 500.7 L647.5 500.1 L647.8 498.5 L648.0 496.9 L648.2 498.4 L648.5 497.0 L648.7 496.7 L648.9 498.3 L649.2 500.0 L649.4 500.7 L649.6 502.2 L649.9 502.3 L650.1 503.0 L650.3 503.8 L650.6 505.9 L650.8 502.3 L651.0 497.7 L651.2 495.4 L651.5 491.1 L651.7 488.1 L651.9 488.6 L652.2 489.9 L652.4 487.4 L652.6 486.0 L652.9 486.7 L653.1 486.0 L653.3 485.6 L653.6 484.3 L653.8 486.5 L654.0 483.4 L654.3 483.7 L654.5 488.8 L654.7 487.8 L655.0 490.4 L655.2 496.7 L655.4 499.9 L655.6 499.2 L655.9 498.7 L656.1 502.2 L656.3 500.8 L656.6 500.1 L656.8 500.5 L657.0 498.5 L657.3 497.5 L657.5 498.4 L657.7 501.6 L658.0 500.4 L658.2 504.1 L658.4 502.9 L658.7 506.3 L658.9 509.6 L659.0 512.3 L659.2 518.3 L659.3 521.6 L659.4 524.4 L659.6 524.5 L659.8 522.5 L660.0 519.0 L660.2 517.0 L660.3 517.1 L660.5 516.2 L660.6 515.4 L660.7 513.3 L661.0 515.9 L661.2 520.8 L661.4 523.0 L661.7 524.4 L661.9 525.3 L662.1 521.0 L662.4 523.3 L662.6 520.7 L662.8 517.7 L663.1 520.0 L663.3 518.3 L663.5 517.0 L663.8 515.2 L664.0 515.8 L664.2 511.9 L664.4 509.6 L664.7 506.8 L664.9 506.7 L665.1 504.9 L665.4 500.4 L665.6 498.7 L665.8 495.0 L666.1 493.1 L666.3 491.1 L666.5 490.0 L666.8 490.2 L667.0 487.4 L667.2 487.4 L667.5 483.9 L667.7 482.2 L667.9 478.3 L668.1 476.3 L668.4 475.2 L668.6 476.4 L668.8 476.2 L669.1 474.4 L669.3 475.8 L669.5 476.9 L669.8 477.1 L670.0 480.0 L670.2 478.2 L670.5 476.6 L670.7 477.5 L670.9 476.3 L671.2 478.6 L671.4 477.8 L671.6 484.1 L671.9 483.7 L672.1 482.0 L672.3 483.3 L672.5 482.4 L672.8 480.0 L673.0 480.4 L673.2 473.6 L673.5 472.6 L673.7 470.7 L673.9 471.3 L674.2 465.6 L674.4 464.4 L674.6 465.2 L674.9 465.4 L675.1 465.2 L675.3 466.5 L675.6 465.2 L675.8 464.8 L676.0 461.7 L676.2 462.3 L676.5 457.8 L676.7 456.0 L676.9 454.2 L677.2 453.2 L677.4 450.4 L677.6 449.5 L677.9 448.9 L678.1 449.3 L678.3 448.5 L678.6 449.6 L678.8 454.7 L679.0 455.0 L679.3 455.9 L679.5 457.4 L679.7 456.8 L680.0 459.5 L680.2 461.5 L680.4 458.1 L680.6 456.3 L680.9 453.6 L681.1 450.4 L681.3 450.8 L681.6 449.9 L681.8 446.1 L682.0 444.8 L682.3 443.1 L682.5 442.6 L682.7 443.1 L683.0 439.3 L683.2 436.6 L683.4 435.7 L683.7 435.4 L683.9 431.9 L684.1 428.2 L684.4 427.2 L684.6 428.9 L684.8 424.4 L685.0 428.1 L685.3 428.2 L685.5 427.9 L685.7 431.9 L686.0 440.2 L686.2 444.3 L686.4 450.8 L686.7 454.1 L686.9 457.1 L687.1 457.6 L687.4 456.5 L687.6 457.8 L687.8 457.8 L688.1 460.3 L688.3 463.4 L688.5 465.2 L688.8 461.5 L689.0 455.6 L689.2 451.9 L689.4 450.4 L689.7 448.8 L689.9 446.4 L690.1 442.5 L690.4 441.1 L690.6 442.3 L690.8 439.8 L691.1 436.4 L691.3 437.4 L691.5 434.1 L691.8 433.7 L692.0 427.8 L692.2 426.3 L692.5 426.9 L692.7 424.7 L692.9 425.7 L693.1 426.3 L693.4 427.1 L693.6 425.7 L693.8 425.5 L694.1 424.4 L694.3 424.7 L694.5 428.1 L694.8 430.3 L695.0 431.9 L695.2 431.8 L695.5 434.3 L695.7 434.8 L695.9 435.6 L696.2 436.4 L696.4 432.3 L696.6 429.5 L696.9 428.1 L697.1 422.3 L697.3 419.3 L697.5 420.2 L697.8 415.2 L698.0 412.6 L698.2 411.6 L698.5 411.0 L698.7 411.5 L698.9 410.2 L699.2 410.3 L699.4 407.9 L699.6 405.9 L699.9 406.6 L700.1 403.4 L700.3 402.7 L700.6 404.1 L700.8 406.2 L701.0 405.2 L701.2 407.8 L701.5 407.8 L701.7 404.6 L701.9 401.2 L702.2 399.4 L702.4 398.5 L702.6 396.6 L702.9 399.1 L703.1 397.4 L703.3 396.7 L703.6 393.4 L703.8 391.7 L704.0 389.0 L704.3 387.4 L704.5 386.6 L704.7 392.1 L705.0 392.0 L705.2 393.0 L705.4 398.7 L705.6 398.1 L705.9 402.1 L706.1 404.1 L706.3 402.1 L706.6 400.3 L706.8 403.2 L707.0 400.4 L707.3 400.2 L707.5 394.6 L707.7 395.8 L708.0 391.1 L708.2 393.4 L708.4 392.1 L708.7 394.3 L708.9 394.8 L709.1 397.7 L709.4 396.6 L709.6 399.5 L709.8 398.5 L710.0 395.3 L710.3 394.2 L710.5 394.1 L710.7 391.1 L711.2 385.6 L711.7 382.6 L712.2 382.9 L712.6 376.7 L712.8 372.7 L712.9 371.0 L713.1 363.2 L713.2 361.2 L713.4 358.1 L713.6 357.5 L713.8 355.2 L714.0 355.3 L714.2 356.6 L714.4 353.6 L714.6 354.1 L714.8 353.4 L715.0 349.3 L715.2 349.7 L715.4 346.9 L715.6 345.6 L715.8 346.1 L716.0 345.6 L716.3 346.9 L716.5 349.5 L716.8 349.6 L717.0 345.8 L717.3 343.8 L717.5 343.6 L717.7 341.3 L718.0 340.8 L718.2 339.6 L718.5 339.8 L718.7 338.5 L719.0 341.4 L719.2 340.6 L719.4 341.7 L719.6 342.3 L719.7 348.9 L719.9 347.7 L720.0 353.4 L720.2 354.7 L720.3 361.5 L720.5 359.6 L720.6 365.0 L720.8 365.8 L721.0 368.5 L721.2 369.3 L721.4 368.9 L721.6 368.1 L721.9 369.3 L722.1 371.2 L722.4 370.9 L722.6 370.9 L722.9 373.6 L723.1 371.2 L723.3 372.8 L723.6 378.8 L723.8 378.7 L724.1 379.7 L724.3 384.5 L724.5 387.1 L724.6 387.9 L724.7 394.6 L724.9 396.2 L725.1 396.1 L725.3 399.8 L725.5 399.5 L725.7 400.0 L725.8 395.2 L726.0 390.5 L726.1 389.1 L726.3 384.5 L726.5 383.6 L726.7 385.7 L727.0 383.3 L727.2 384.5 L727.5 380.7 L727.7 377.0 L728.0 371.2 L728.2 368.9 L728.4 369.1 L728.7 366.5 L728.9 366.7 L729.2 365.0 L729.4 370.4 L729.7 373.4 L729.9 378.9 L730.1 384.5 L730.4 384.1 L730.6 386.6 L730.9 392.3 L731.1 392.3 L731.4 389.3 L731.6 389.3 L731.8 384.3 L732.1 384.5 L732.3 384.2 L732.6 383.0 L732.8 383.0 L733.1 382.5 L733.3 380.1 L733.5 377.5 L733.8 377.2 L734.0 376.7 L734.3 373.9 L734.5 371.9 L734.8 373.4 L735.0 370.9 L735.3 370.5 L735.5 371.5 L735.7 373.9 L736.0 372.8 L736.2 372.7 L736.5 371.8 L736.7 370.2 L737.0 367.0 L737.2 365.1 L737.4 365.2 L737.7 363.7 L737.9 365.0 L738.2 369.2 L738.4 372.0 L738.7 372.8 L738.9 376.7 L739.1 375.4 L739.4 375.5 L739.6 374.7 L739.9 372.8 L740.1 374.1 L740.4 381.0 L740.6 380.6 L740.8 384.5 L741.0 380.5 L741.1 372.5 L741.3 367.2 L741.4 365.0 L741.7 365.9 L741.9 364.1 L742.2 363.1 L742.4 361.2 L742.6 356.7 L742.8 354.7 L743.0 353.4 L743.2 353.4 L743.3 350.4 L743.5 349.5 L743.6 348.4 L743.8 347.5 L744.0 346.3 L744.2 347.8 L744.5 349.5 L744.7 349.5 L745.0 347.1 L745.2 349.0 L745.5 346.9 L745.7 345.6 L745.9 344.8 L746.2 340.3 L746.4 339.4 L746.7 337.8 L746.8 336.9 L747.0 333.1 L747.1 329.2 L747.3 330.0 L747.5 335.2 L747.6 337.7 L747.8 337.4 L748.0 341.7 L748.3 341.1 L748.5 347.6 L748.8 348.1 L749.0 349.5 L749.2 345.0 L749.4 344.2 L749.6 341.5 L749.8 341.7 L750.0 342.0 L750.2 338.5 L750.4 340.6 L750.6 337.8 L750.8 337.9 L751.1 334.1 L751.3 335.7 L751.5 333.9 L751.8 331.4 L752.0 331.4 L752.3 329.9 L752.5 326.1 L752.8 324.2 L753.0 322.4 L753.2 325.2 L753.5 322.3 L753.7 320.9 L754.0 322.2 L754.2 320.2 L754.5 318.4 L754.7 318.4 L754.9 317.9 L755.2 316.0 L755.4 314.5 L755.7 315.2 L755.9 314.5 L756.2 318.3 L756.4 318.4 L756.6 317.1 L756.9 316.5 L757.1 317.3 L757.4 314.5 L757.6 316.2 L757.9 325.1 L758.1 324.4 L758.3 332.0 L758.5 330.8 L758.6 329.0 L758.8 323.2 L758.9 322.3 L759.1 318.7 L759.3 317.8 L759.5 311.5 L759.7 306.7 L760.0 305.9 L760.2 303.7 L760.4 301.9 L760.7 302.8 L760.9 300.6 L761.1 299.4 L761.3 296.9 L761.5 297.0 L761.7 294.6 L761.8 292.3 L762.0 293.6 L762.2 291.1 L762.5 289.7 L762.7 284.7 L763.0 282.3 L763.2 281.4 L763.5 280.0 L763.7 278.2 L763.9 279.2 L764.2 275.6 L764.4 275.9 L764.7 276.6 L764.9 280.2 L765.2 279.5 L765.3 285.7 L765.4 297.4 L765.6 304.6 L765.7 314.5 L765.9 314.3 L766.1 310.9 L766.3 310.1 L766.5 306.7 L766.7 302.9 L766.8 303.7 L767.0 301.4 L767.1 298.9 L767.3 296.8 L767.6 296.5 L767.8 294.9 L768.1 291.1 L768.3 287.1 L768.6 286.1 L768.8 284.5 L769.0 283.4 L769.3 281.8 L769.5 280.7 L769.8 281.1 L770.0 281.4 L770.3 277.8 L770.5 278.6 L770.7 275.3 L771.0 273.6 L771.2 270.3 L771.5 269.8 L771.7 269.1 L772.0 267.8 L772.2 265.1 L772.4 262.1 L772.7 259.6 L772.9 260.0 L773.2 257.7 L773.4 260.9 L773.7 259.5 L773.9 258.1 L774.1 256.0 L774.4 257.9 L774.6 258.4 L774.9 256.1 L775.1 254.5 L775.4 250.1 L775.6 250.2 L775.9 248.3 L776.1 248.1 L776.3 247.4 L776.6 248.5 L776.8 248.3 L777.1 247.4 L777.3 253.3 L777.6 253.4 L777.8 254.2 L778.0 255.2 L778.3 256.8 L778.5 256.2 L778.8 256.1 L779.0 253.4 L779.3 252.0 L779.5 250.0 L779.7 250.3 L780.0 250.0 L780.2 258.0 L780.5 261.3 L780.7 262.0 L781.0 260.7 L781.2 259.8 L781.4 261.0 L781.7 260.0 L781.9 262.5 L782.2 263.8 L782.4 261.5 L782.7 263.9 L782.8 262.0 L782.9 258.4 L783.1 253.9 L783.2 248.3 L783.4 247.2 L783.6 246.2 L783.8 248.1 L784.0 246.4 L784.3 245.2 L784.5 244.9 L784.7 245.1 L785.0 244.5 L785.1 244.4 L785.3 246.7 L785.4 244.9 L785.6 246.4 L785.8 245.2 L786.1 247.6 L786.3 248.3 L786.5 248.3 L786.8 248.8 L787.0 247.3 L787.3 247.2 L787.5 244.5 L787.8 246.6 L788.0 245.4 L788.2 245.9 L788.5 246.4 L788.7 254.2 L789.0 265.4 L789.2 277.6 L789.5 287.2 L789.7 281.5 L790.0 282.7 L790.2 276.2 L790.4 275.6 L790.7 281.0 L790.9 290.5 L791.2 290.2 L791.4 298.9 L791.7 298.7 L791.9 304.3 L792.1 305.6 L792.4 310.6 L792.6 302.4 L792.9 287.7 L793.1 283.8 L793.4 271.7 L793.6 271.7 L793.8 269.4 L794.1 265.4 L794.3 263.9 L794.6 259.0 L794.8 258.2 L795.1 253.8 L795.3 250.3 L795.5 247.4 L795.8 244.4 L796.0 242.6 L796.3 240.6 L796.5 236.4 L796.8 232.2 L797.0 227.3 L797.2 219.2 L797.5 216.1 L797.7 215.2 L798.0 214.5 L798.2 213.3 L798.5 212.6 L798.7 210.7 L798.9 209.1 L799.2 209.4 L799.4 206.7 L799.7 206.7 L799.9 206.4 L800.2 205.6 L800.4 208.6 L800.6 209.3 L800.9 210.1 L801.1 209.4 L801.4 216.7 L801.6 220.5 L801.9 222.0 L802.1 225.0 L802.4 222.3 L802.6 212.2 L802.8 211.7 L803.1 205.6 L803.3 205.5 L803.6 203.8 L803.8 204.4 L804.1 203.6 L804.3 205.1 L804.5 203.6 L804.8 204.1 L805.0 203.6 L805.3 206.6 L805.5 211.3 L805.8 219.4 L806.0 221.1 L806.2 220.5 L806.5 223.3 L806.7 227.9 L807.0 228.9 L807.2 232.9 L807.5 234.7 L807.7 243.1 L807.9 246.4 L808.2 239.2 L808.4 234.3 L808.7 226.9 L808.9 221.1 L809.2 220.3 L809.4 219.5 L809.6 217.7 L809.9 217.2 L810.1 220.4 L810.4 226.7 L810.6 237.5 L810.9 240.6 L811.1 242.8 L811.3 242.3 L811.6 248.4 L811.8 248.3 L812.1 248.6 L812.3 249.3 L812.6 252.9 L812.8 254.2 L813.0 254.4 L813.3 257.0 L813.5 258.8 L813.8 260.0 L814.0 260.4 L814.3 264.3 L814.5 263.7 L814.7 267.8 L815.0 275.7 L815.2 284.0 L815.5 288.2 L815.7 298.9 L816.0 314.3 L816.2 328.0 L816.5 346.6 L816.7 363.1 L816.8 356.4 L817.0 345.0 L817.1 336.9 L817.3 326.1 L817.5 319.2 L817.7 305.9 L817.9 303.3 L818.1 291.1 L818.3 291.8 L818.5 289.9 L818.8 292.2 L819.0 291.1 L818.9 291.2 L818.7 290.8 L818.5 294.2 L818.3 293.0 L818.5 299.9 L818.6 307.9 L818.8 309.9 L818.9 318.9 L819.1 323.5 L819.3 321.6 L819.4 325.5 L819.6 330.0 L819.8 327.5 L819.9 323.7 L820.0 325.0 L820.2 322.6 L820.3 323.5 L820.5 326.8 L820.6 332.3 L820.7 333.7 L820.9 335.2 L821.1 339.5 L821.3 339.9 L821.5 341.1 L821.6 335.4 L821.8 324.9 L821.9 319.0 L822.0 307.8 L822.2 308.5 L822.3 304.5 L822.5 306.1 L822.6 304.1 L822.7 313.1 L822.8 326.3 L822.9 335.9 L823.0 344.8 L823.1 345.3 L823.2 341.3 L823.4 341.5 L823.5 341.1 L823.7 350.6 L823.8 360.0 L823.9 366.3 L824.1 372.6 L824.3 371.6 L824.4 374.9 L824.6 373.6 L824.8 376.3 L825.0 372.5 L825.2 370.1 L825.4 361.1 L825.6 359.6 L825.7 359.6 L825.9 355.2 L826.1 349.7 L826.3 348.5 L826.5 342.7 L826.7 340.7 L826.9 339.8 L827.0 333.7 L827.2 331.5 L827.4 325.6 L827.6 322.2 L827.8 322.6 L828.0 319.3 L828.1 321.3 L828.3 316.9 L828.5 317.0 L828.7 321.6 L828.9 323.9 L829.1 330.8 L829.3 333.7 L829.4 335.7 L829.5 336.9 L829.7 344.5 L829.8 344.8 L830.0 338.6 L830.1 333.2 L830.2 327.5 L830.4 318.9 L830.6 321.7 L830.8 318.6 L831.1 321.0 L831.3 322.6 L831.4 318.2 L831.6 318.0 L831.7 317.9 L831.9 313.3 L832.0 316.2 L832.2 313.9 L832.4 316.0 L832.6 318.9 L832.8 316.5 L833.0 310.9 L833.1 304.2 L833.3 300.4 L833.5 295.6 L833.7 288.7 L833.9 288.9 L834.1 281.9 L834.3 281.0 L834.4 282.3 L834.6 280.9 L834.8 280.0 L835.0 280.7 L835.2 286.2 L835.4 289.1 L835.6 294.8 L835.7 299.5 L835.9 300.0 L836.1 299.0 L836.3 304.1 L836.5 304.4 L836.7 307.9 L836.9 310.8 L837.0 313.3 L837.2 318.0 L837.4 320.9 L837.6 324.8 L837.8 330.0 L838.0 328.8 L838.2 332.2 L838.5 332.1 L838.7 333.7 L838.9 334.1 L839.2 340.8 L839.4 348.2 L839.6 348.5 L839.9 347.9 L840.1 350.3 L840.3 355.0 L840.6 355.9 L840.8 355.9 L841.0 356.8 L841.2 358.7 L841.5 359.6 L841.7 364.4 L841.9 373.1 L842.2 379.3 L842.4 385.6 L842.6 393.8 L842.9 399.2 L843.1 397.6 L843.3 405.9 L843.6 404.0 L843.8 402.9 L844.0 401.2 L844.3 396.7 L844.4 390.7 L844.5 381.9 L844.7 374.0 L844.8 365.2 L845.0 373.9 L845.2 383.1 L845.4 396.4 L845.6 404.1 L845.7 404.8 L845.9 404.1 L846.1 402.1 L846.3 400.4 L846.5 395.3 L846.7 394.8 L846.9 390.9 L847.0 385.6 L847.3 382.8 L847.5 380.9 L847.7 376.2 L848.0 374.4 L848.2 380.4 L848.4 384.9 L848.7 388.0 L848.9 396.7 L849.1 395.0 L849.4 394.1 L849.6 396.0 L849.8 393.0 L850.0 385.9 L850.3 378.1 L850.5 370.3 L850.7 365.2 L851.0 366.6 L851.2 370.6 L851.4 372.4 L851.7 378.1 L851.9 375.1 L852.1 377.9 L852.4 375.2 L852.6 374.4 L852.8 373.3 L853.1 372.9 L853.3 370.8 L853.5 370.7 L853.8 374.9 L854.0 380.7 L854.2 388.8 L854.4 396.7 L854.6 402.8 L854.7 413.3 L854.9 419.6 L855.0 426.8 L855.4 450.4 L855.8 466.8 L856.2 491.4 L856.6 509.0 L856.8 499.6 L856.9 486.1 L857.1 476.8 L857.2 469.0 L857.5 465.1 L857.8 463.4 L858.0 454.5 L858.3 451.0 L858.6 471.9 L858.8 488.4 L859.1 510.4 L859.4 526.8 L859.7 504.8 L860.0 488.8 L860.3 472.7 L860.6 451.0 L860.9 459.4 L861.2 469.3 L861.4 477.7 L861.7 491.0 L861.9 492.0 L862.0 496.1 L862.1 502.6 L862.3 504.5 L862.4 520.3 L862.5 539.3 L862.7 555.7 L862.8 575.5 L863.1 584.0 L863.3 593.7 L863.6 600.0 L863.9 606.8 L864.3 587.9 L864.7 575.0 L865.1 559.9 L865.5 540.0 L865.7 544.5 L865.9 544.6 L866.1 553.4 L866.2 555.0 L866.4 561.4 L866.6 561.4 L866.8 563.7 L867.0 570.0 L867.2 565.6 L867.5 565.2 L867.8 564.8 L868.0 560.0 L868.2 558.4 L868.4 557.6 L868.6 550.7 L868.8 550.0 L869.1 550.4 L869.4 553.7 L869.7 554.4 L870.0 555.0 L870.3 549.3 L870.6 546.3 L870.9 538.9 L871.2 535.0 L871.4 532.6 L871.6 533.4 L871.8 531.3 L872.0 532.5 L872.2 542.1 L872.5 548.8 L872.8 558.7 L873.0 567.5 L873.2 577.6 L873.4 584.5 L873.6 595.4 L873.8 605.0 L873.9 591.6 L874.1 588.0 L874.3 575.4 L874.5 565.0 L874.8 568.5 L875.0 565.4 L875.2 569.3 L875.5 570.0 L875.7 580.3 L875.9 586.3 L876.1 593.4 L876.2 605.0 L876.4 592.6 L876.6 582.5 L876.8 576.9 L877.0 565.0 L877.2 565.0 L877.5 571.9 L877.8 572.0 L878.0 575.0 L878.2 581.5 L878.4 588.1 L878.6 594.1 L878.8 600.0 L878.9 608.6 L879.1 615.7 L879.3 621.3 L879.5 630.0 L879.8 632.4 L880.0 631.4 L880.2 634.7 L880.5 635.0 L880.7 628.1 L880.9 619.4 L881.1 607.4 L881.2 600.0 L881.4 600.0 L881.6 599.7 L881.8 596.0 L882.0 595.0 L882.1 584.7 L882.2 577.7 L882.4 571.8 L882.5 560.0 L882.8 557.0 L883.1 555.2 L883.4 556.1 L883.8 555.0 L884.1 553.5 L884.4 551.7 L884.7 546.6 L885.0 545.0 L885.3 546.1 L885.6 541.2 L885.9 542.5 L886.2 540.0 L886.6 535.0 L886.9 532.1 L887.2 530.2 L887.5 530.0 L887.8 529.8 L888.1 535.0 L888.4 537.8 L888.8 540.0 L888.9 529.6 L889.1 526.8 L889.3 514.7 L889.5 507.5 L889.8 508.2 L890.0 511.5 L890.2 518.5 L890.5 520.0 L890.7 520.7 L890.9 515.9 L891.1 514.0 L891.2 515.0 L891.6 521.9 L891.9 523.2 L892.2 533.4 L892.5 535.0 L892.8 528.7 L893.1 523.5 L893.4 515.2 L893.8 510.0 L893.9 509.4 L894.1 504.8 L894.3 501.4 L894.5 500.0 L894.8 500.6 L895.0 495.7 L895.2 497.3 L895.5 495.0 L895.8 495.7 L896.0 503.5 L896.2 505.6 L896.5 510.0 L896.8 516.3 L897.0 514.4 L897.2 521.7 L897.5 525.0 L897.8 520.0 L898.1 519.2 L898.4 515.0 L898.8 507.5 L899.1 516.5 L899.4 521.8 L899.7 530.1 L900.0 540.0 L900.2 529.6 L900.5 522.0 L900.8 511.9 L901.0 505.0 L901.2 502.4 L901.5 503.7 L901.8 501.9 L902.0 500.0 L902.2 493.6 L902.5 493.5 L902.8 483.0 L903.0 480.0 L903.2 475.5 L903.4 467.6 L903.6 467.5 L903.8 460.0 L904.1 458.2 L904.4 449.6 L904.7 448.6 L905.0 442.5 L905.3 442.8 L905.6 439.0 L905.9 438.0 L906.2 437.5 L906.6 439.3 L906.9 443.4 L907.2 441.3 L907.5 445.0 L907.8 442.5 L908.1 438.2 L908.4 433.4 L908.8 430.0 L909.1 428.0 L909.4 427.4 L909.7 420.7 L910.0 420.0 L910.3 418.9 L910.6 411.5 L910.9 410.7 L911.2 405.0 L911.6 405.1 L911.9 399.5 L912.2 401.4 L912.5 397.5 L912.8 406.6 L913.1 407.3 L913.4 411.0 L913.8 420.0 L914.1 409.8 L914.4 408.3 L914.7 394.1 L915.0 390.0 L915.3 390.7 L915.6 385.9 L915.9 387.4 L916.2 385.0 L916.6 390.3 L916.9 398.9 L917.2 410.7 L917.5 417.5 L917.8 417.8 L918.1 422.6 L918.4 429.8 L918.8 430.0 L918.9 425.3 L919.1 420.2 L919.3 414.6 L919.5 405.0 L919.8 401.6 L920.0 401.3 L920.2 402.6 L920.5 400.0 L920.8 402.1 L921.0 400.3 L921.2 403.8 L921.5 405.0 L921.8 404.6 L922.0 406.0 L922.2 405.3 L922.5 407.5 L922.8 406.8 L923.1 413.9 L923.4 412.1 L923.8 415.0 L924.1 414.8 L924.4 407.6 L924.7 407.4 L925.0 405.0 L925.3 400.2 L925.6 399.6 L925.9 395.5 L926.2 395.0 L926.4 394.7 L926.5 391.1 L926.6 392.7 L926.7 390.5 L926.9 387.8 L927.0 382.7 L927.2 381.6 L927.4 379.9 L927.6 379.0 L927.7 379.9 L927.9 376.6 L928.1 376.4 L928.3 376.1 L928.4 380.1 L928.6 380.7 L928.8 379.9 L929.2 387.7 L929.5 390.6 L929.9 396.1 L930.2 404.4 L930.3 398.6 L930.4 393.1 L930.5 388.7 L930.6 387.8 L930.6 385.6 L930.7 382.8 L930.8 381.4 L930.9 378.9 L931.0 381.5 L931.1 382.7 L931.1 391.0 L931.2 393.3 L931.3 397.7 L931.4 400.3 L931.5 403.7 L931.6 406.7 L931.6 412.4 L931.7 418.9 L931.8 422.6 L931.9 424.4 L932.0 425.8 L932.1 425.2 L932.1 425.4 L932.2 426.7 L932.3 424.0 L932.4 425.0 L932.5 419.3 L932.6 417.8 L932.6 418.4 L932.7 419.6 L932.8 419.5 L932.9 422.2 L933.0 426.5 L933.1 423.0 L933.1 427.8 L933.2 428.9 L933.3 430.0 L933.4 426.8 L933.5 427.7 L933.6 426.7 L933.6 424.4 L933.7 422.0 L933.8 420.1 L933.9 420.0 L934.0 416.3 L934.1 418.5 L934.1 416.5 L934.2 413.3 L934.3 413.8 L934.4 407.7 L934.5 409.3 L934.6 406.7 L934.6 404.8 L934.7 405.1 L934.8 403.6 L934.9 402.2 L935.0 401.0 L935.1 402.9 L935.1 398.6 L935.2 400.0 L935.3 402.2 L935.4 403.8 L935.5 403.4 L935.6 404.4 L935.6 407.8 L935.7 413.2 L935.8 411.0 L935.9 415.6 L936.0 415.0 L936.1 414.4 L936.1 411.7 L936.2 411.1 L936.3 409.7 L936.4 404.9 L936.5 402.9 L936.6 400.0 L936.6 399.4 L936.7 398.6 L936.8 395.9 L936.9 395.6 L937.0 395.5 L937.1 394.6 L937.1 392.8 L937.2 393.3 L937.3 393.2 L937.4 391.3 L937.5 393.2 L937.6 391.1 L937.6 390.5 L937.7 390.9 L937.8 389.5 L937.9 388.9 L938.0 387.7 L938.1 385.4 L938.1 383.9 L938.2 384.4 L938.3 386.7 L938.4 385.7 L938.5 386.2 L938.6 386.7 L938.6 386.2 L938.7 386.8 L938.8 384.0 L938.9 384.4 L939.0 382.6 L939.1 384.6 L939.1 382.6 L939.2 382.2 L939.3 382.4 L939.4 382.8 L939.5 382.8 L939.6 381.1 L939.6 384.3 L939.7 381.7 L939.8 384.7 L939.9 386.7 L940.0 387.1 L940.1 385.9 L940.1 381.6 L940.2 382.2 L940.3 379.5 L940.4 378.9 L940.5 377.1 L940.6 377.8 L940.6 377.0 L940.7 378.3 L940.8 377.0 L940.9 376.7 L941.0 377.0 L941.1 376.2 L941.1 377.9 L941.2 378.9 L941.3 379.9 L941.4 377.1 L941.5 374.5 L941.6 373.3 L941.6 372.7 L941.7 373.4 L941.8 372.7 L941.9 371.1 L942.0 370.5 L942.1 373.5 L942.1 373.1 L942.2 374.4 L942.3 374.2 L942.4 373.0 L942.5 373.2 L942.6 373.3 L942.6 371.8 L942.7 371.2 L942.8 368.8 L942.9 370.0 L943.0 368.7 L943.1 369.7 L943.1 367.6 L943.2 368.9 L943.3 367.5 L943.4 369.1 L943.5 367.3 L943.6 367.8 L943.6 367.9 L943.7 368.4 L943.8 371.7 L943.9 371.1 L944.0 368.6 L944.1 370.0 L944.1 370.1 L944.2 367.8 L944.3 367.9 L944.4 370.7 L944.5 374.3 L944.6 374.4 L944.6 375.5 L944.7 375.1 L944.8 374.3 L944.9 376.7 L945.0 377.0 L945.1 377.3 L945.1 379.2 L945.2 378.9 L945.3 378.9 L945.4 380.2 L945.5 382.0 L945.6 382.2 L945.6 385.1 L945.7 384.3 L945.8 385.8 L945.9 387.8 L946.0 389.5 L946.1 392.6 L946.1 390.4 L946.2 393.3 L946.3 395.3 L946.4 394.6 L946.5 393.7 L946.6 394.4 L946.6 395.6 L946.7 394.9 L946.8 394.5 L946.9 396.7 L947.0 399.3 L947.1 398.9 L947.1 401.0 L947.2 402.2 L947.3 407.2 L947.4 415.0 L947.5 419.0 L947.6 422.2 L947.6 422.2 L947.7 429.5 L947.8 432.0 L947.9 435.6 L948.0 440.8 L948.1 449.0 L948.1 451.6 L948.2 457.8 L948.3 452.6 L948.4 450.5 L948.5 442.4 L948.6 437.8 L948.6 441.1 L948.7 444.5 L948.8 450.1 L948.9 451.1 L949.0 451.2 L949.1 450.9 L949.1 449.1 L949.2 448.9 L949.3 448.7 L949.4 455.6 L949.5 457.6 L949.6 460.0 L949.6 461.6 L949.7 462.2 L949.8 460.2 L949.9 462.2 L950.0 454.2 L950.1 447.0 L950.1 446.1 L950.2 437.8 L950.3 435.7 L950.4 435.1 L950.5 437.1 L950.6 435.6 L950.6 438.8 L950.7 438.2 L950.8 445.1 L950.9 446.7 L951.0 450.1 L951.1 451.0 L951.1 450.7 L951.2 455.6 L951.3 453.0 L951.4 447.2 L951.5 444.5 L951.6 440.0 L951.6 441.1 L951.7 439.2 L951.8 438.4 L951.9 435.6 L952.0 435.7 L952.1 439.0 L952.1 442.3 L952.2 444.4 L952.3 443.3 L952.4 448.9 L952.5 446.8 L952.6 448.9 L952.6 442.8 L952.7 438.7 L952.8 433.8 L952.9 431.1 L953.0 431.3 L953.1 428.1 L953.1 426.2 L953.2 424.4 L953.3 426.7 L953.4 427.1 L953.5 431.5 L953.6 435.6 L953.6 435.8 L953.7 433.8 L953.8 432.4 L953.9 428.9 L954.0 425.2 L954.1 422.7 L954.1 419.6 L954.2 420.0 L954.3 423.0 L954.4 424.7 L954.5 428.1 L954.6 431.1 L954.6 433.3 L954.7 436.0 L954.8 437.0 L954.9 440.0 L955.0 444.0 L955.1 442.7 L955.1 449.1 L955.2 448.9 L955.3 450.8 L955.4 449.9 L955.5 452.9 L955.6 455.6 L955.6 459.7 L955.7 462.7 L955.8 467.7 L955.9 471.1 L956.0 468.5 L956.1 466.6 L956.1 467.7 L956.2 464.4 L956.3 461.0 L956.4 461.2 L956.5 459.6 L956.6 455.6 L956.6 454.4 L956.7 452.0 L956.8 452.8 L956.9 448.9 L957.0 448.1 L957.1 449.2 L957.1 445.5 L957.2 446.7 L957.3 444.7 L957.4 444.1 L957.5 439.3 L957.6 440.0 L957.6 445.9 L957.7 443.7 L957.8 450.7 L957.9 453.3 L958.0 448.5 L958.1 450.5 L958.1 445.4 L958.2 442.2 L958.3 442.5 L958.4 440.0 L958.5 439.7 L958.6 437.8 L958.6 440.4 L958.7 440.0 L958.8 441.3 L958.9 444.4 L959.0 443.9 L959.1 436.6 L959.1 438.8 L959.2 433.3 L959.3 430.9 L959.4 429.3 L959.5 428.2 L959.6 428.9 L959.6 429.1 L959.7 428.7 L959.8 425.2 L959.9 424.4 L960.0 426.9 L960.1 426.5 L960.1 431.6 L960.2 431.1 L960.3 430.8 L960.4 427.3 L960.5 425.8 L960.6 426.7 L960.6 426.9 L960.7 423.8 L960.8 426.3 L960.9 424.4 L961.0 423.1 L961.1 422.3 L961.1 423.1 L961.2 422.2 L961.3 422.5 L961.4 424.7 L961.5 424.0 L961.6 426.7 L961.6 428.8 L961.7 427.1 L961.8 429.7 L961.9 428.9 L962.0 425.4 L962.1 427.1 L962.1 426.4 L962.2 422.2 L962.3 425.4 L962.4 426.7 L962.5 433.0 L962.6 437.8 L962.6 437.8 L962.7 435.6 L962.8 436.3 L962.9 435.6 L963.0 435.4 L963.1 439.8 L963.1 443.6 L963.2 444.4 L963.3 444.7 L963.4 446.2 L963.5 444.6 L963.6 446.7 L963.6 448.5 L963.7 446.3 L963.8 450.0 L963.9 448.9 L964.0 452.2 L964.1 453.1 L964.1 452.3 L964.2 453.3 L964.3 453.5 L964.4 454.9 L964.5 457.8 L964.6 457.8 L964.6 457.8 L964.7 459.2 L964.8 456.5 L964.9 457.8 L965.0 452.7 L965.1 450.3 L965.1 443.5 L965.2 437.8 L965.3 436.3 L965.4 432.3 L965.5 430.9 L965.6 431.1 L965.6 429.7 L965.7 431.5 L965.8 430.8 L965.9 428.9 L966.0 427.3 L966.1 429.4 L966.1 425.4 L966.2 426.7 L966.3 426.0 L966.4 426.6 L966.5 422.6 L966.6 422.2 L966.6 423.4 L966.7 421.7 L966.8 418.8 L966.9 420.0 L967.0 418.8 L967.1 418.7 L967.1 417.4 L967.2 417.8 L967.3 420.0 L967.4 418.5 L967.5 422.4 L967.6 422.2 L967.6 419.5 L967.7 416.6 L967.8 417.5 L967.9 415.6 L968.0 413.4 L968.1 414.6 L968.1 415.0 L968.2 413.3 L968.3 414.9 L968.4 415.4 L968.5 414.6 L968.6 417.8 L968.6 417.3 L968.7 415.1 L968.8 416.7 L968.9 415.6 L969.0 412.8 L969.1 413.7 L969.1 411.6 L969.2 411.1 L969.3 411.2 L969.4 412.9 L969.5 411.5 L969.6 413.3 L969.6 412.6 L969.7 416.2 L969.8 414.3 L969.9 415.6 L970.0 416.0 L970.1 415.0 L970.1 412.1 L970.2 411.1 L970.3 411.0 L970.4 412.3 L970.5 418.1 L970.6 417.8 L970.6 414.1 L970.7 414.4 L970.8 413.0 L970.9 411.1 L971.0 410.2 L971.1 412.1 L971.1 411.5 L971.2 413.3 L971.3 412.9 L971.4 412.2 L971.5 411.2 L971.6 411.1 L971.6 410.9 L971.7 412.9 L971.8 413.1 L971.9 415.6 L972.0 411.9 L972.1 410.9 L972.1 412.5 L972.2 408.9 L972.3 410.0 L972.4 412.9 L972.5 410.0 L972.6 413.3 L972.6 414.5 L972.7 412.2 L972.8 412.8 L972.9 411.1 L973.0 413.1 L973.1 415.4 L973.1 414.7 L973.2 417.8 L973.3 417.8 L973.4 414.0 L973.5 413.4 L973.6 413.3 L973.6 410.1 L973.7 410.6 L973.8 410.1 L973.9 408.9 L974.0 408.6 L974.1 411.5 L974.1 408.9 L974.2 411.1 L974.3 412.0 L974.4 411.2 L974.5 413.1 L974.6 413.3 L974.6 412.8 L974.7 410.1 L974.8 404.1 L974.9 404.4 L975.0 401.8 L975.1 402.1 L975.1 402.6 L975.2 398.9 L975.3 397.0 L975.4 398.8 L975.5 398.7 L975.6 397.8 L975.6 401.8 L975.7 401.3 L975.8 406.3 L975.9 406.7 L976.0 407.6 L976.1 410.8 L976.1 407.8 L976.2 411.1 L976.3 412.0 L976.4 408.5 L976.5 407.4 L976.6 406.7 L976.6 405.5 L976.7 406.3 L976.8 408.3 L976.9 407.8 L977.0 410.0 L977.1 408.9 L977.1 411.2 L977.2 413.3 L977.3 412.8 L977.4 414.2 L977.5 415.4 L977.6 417.8 L977.6 418.1 L977.7 422.2 L977.8 423.4 L977.9 422.2 L978.0 424.7 L978.1 424.4 L978.1 425.5 L978.2 426.7 L978.3 427.6 L978.4 428.0 L978.5 427.5 L978.6 426.7 L978.6 426.2 L978.7 423.1 L978.8 423.9 L978.9 422.2 L979.0 424.9 L979.1 425.7 L979.1 423.7 L979.2 426.7 L979.3 425.3 L979.4 420.1 L979.5 416.1 L979.6 415.6 L979.6 416.3 L979.7 413.1 L979.8 411.8 L979.9 408.9 L980.0 408.0 L980.1 411.3 L980.1 412.2 L980.2 411.1 L980.3 411.8 L980.4 410.0 L980.5 409.3 L980.6 406.7 L980.6 407.3 L980.7 405.9 L980.8 404.7 L980.9 404.4 L981.0 405.1 L981.1 404.4 L981.1 404.2 L981.2 402.2 L981.3 400.9 L981.4 402.9 L981.5 400.7 L981.6 400.0 L981.6 403.1 L981.7 400.5 L981.8 405.5 L981.9 404.4 L982.0 404.8 L982.1 401.7 L982.1 403.4 L982.2 401.1 L982.3 400.4 L982.4 400.6 L982.5 401.8 L982.6 402.2 L982.6 402.1 L982.7 404.4 L982.8 407.4 L982.9 406.7 L983.0 406.0 L983.1 404.4 L983.1 401.1 L983.2 400.0 L983.3 402.4 L983.4 403.6 L983.5 404.2 L983.6 404.4 L983.6 405.6 L983.7 404.6 L983.8 402.4 L983.9 402.2 L984.0 401.5 L984.1 405.1 L984.1 407.1 L984.2 406.7 L984.3 407.1 L984.4 409.3 L984.5 411.5 L984.6 411.1 L984.6 412.0 L984.7 409.5 L984.8 411.1 L984.9 411.1 L985.0 407.8 L985.1 407.1 L985.1 409.2 L985.2 406.7 L985.3 405.2 L985.4 404.9 L985.5 403.1 L985.6 402.2 L985.6 402.1 L985.7 402.2 L985.8 403.3 L985.9 404.4 L986.0 404.9 L986.1 402.8 L986.1 400.2 L986.2 400.0 L986.3 399.0 L986.4 400.2 L986.5 402.4 L986.6 402.2 L986.6 400.8 L986.7 400.7 L986.8 400.3 L986.9 397.8 L987.0 396.2 L987.1 397.9 L987.1 395.3 L987.2 396.7 L987.3 398.9 L987.4 397.0 L987.5 398.2 L987.6 400.0 L987.6 403.2 L987.7 401.6 L987.8 402.1 L987.9 404.4 L988.0 404.8 L988.1 401.7 L988.1 401.5 L988.2 397.8 L988.3 396.8 L988.4 396.7 L988.5 397.9 L988.6 395.6 L988.6 395.9 L988.7 397.8 L988.8 395.3 L988.9 396.7 L989.0 397.2 L989.1 393.6 L989.1 394.3 L989.2 393.3 L989.3 391.3 L989.4 391.6 L989.5 394.1 L989.6 392.2 L989.6 390.9 L989.7 391.4 L989.8 387.8 L989.9 387.8 L990.0 386.0 L990.1 383.7 L990.1 384.7 L990.2 383.3 L990.3 384.3 L990.4 382.8 L990.5 382.1 L990.6 382.2 L990.6 384.0 L990.7 384.2 L990.8 383.6 L990.9 383.3 L991.0 382.2 L991.1 384.9 L991.1 384.8 L991.2 385.6 L991.3 387.9 L991.4 386.1 L991.5 387.8 L991.6 387.8 L991.6 389.2 L991.7 388.9 L991.8 390.4 L991.9 391.1 L992.0 392.3 L992.1 393.8 L992.1 392.8 L992.2 393.3 L992.3 393.4 L992.4 396.3 L992.5 393.3 L992.6 395.6 L992.6 397.4 L992.7 397.4 L992.8 397.4 L992.9 397.8 L993.0 396.4 L993.1 396.7 L993.1 396.2 L993.2 393.3 L993.3 394.8 L993.4 395.4 L993.5 393.2 L993.6 395.6 L993.6 394.0 L993.7 392.4 L993.8 395.0 L993.9 392.2 L994.0 393.3 L994.1 390.4 L994.1 391.7 L994.2 391.1 L994.3 390.9 L994.4 388.2 L994.5 389.0 L994.6 388.9 L994.6 391.1 L994.7 391.8 L994.8 391.2 L994.9 393.3 L995.0 397.8 L995.1 397.5 L995.1 402.0 L995.2 404.4 L995.3 406.7 L995.4 413.1 L995.5 413.7 L995.6 415.6 L995.6 418.8 L995.7 419.8 L995.8 419.9 L995.9 422.2 L996.0 426.3 L996.1 426.6 L996.1 428.2 L996.2 428.9 L996.3 428.6 L996.4 428.7 L996.5 430.8 L996.6 431.1 L996.6 430.8 L996.7 428.4 L996.8 423.5 L996.9 422.2 L997.0 418.7 L997.1 419.0 L997.1 419.2 L997.2 415.6 L997.3 411.4 L997.4 412.5 L997.5 407.0 L997.6 406.7 L997.6 402.0 L997.7 396.9 L997.8 395.3 L997.9 393.3 L998.0 392.3 L998.1 394.0 L998.1 393.5 L998.2 391.1 L998.3 388.6 L998.4 388.0 L998.5 389.8 L998.6 386.7 L998.6 384.2 L998.7 383.6 L998.8 383.1 L998.9 382.2 L999.0 379.7 L999.1 379.5 L999.1 379.3 L999.2 378.9 L999.3 378.2 L999.4 380.0 L999.5 377.2 L999.6 377.8 L999.6 377.5 L999.7 381.9 L999.8 380.9 L999.9 382.2 L1000.0 384.1 L1000.1 383.9 L1000.1 385.0 L1000.2 384.4 L1000.3 384.7 L1000.4 385.1 L1000.5 388.9 L1000.6 388.9 L1000.6 389.9 L1000.7 391.4 L1000.8 393.0 L1000.9 393.3 L1001.0 395.6 L1001.1 394.5 L1001.1 396.0 L1001.2 397.8 L1001.3 398.3 L1001.4 394.6 L1001.5 391.7 L1001.6 391.1 L1001.6 390.1 L1001.7 386.5 L1001.8 387.5 L1001.9 384.4 L1002.0 383.1 L1002.1 386.2 L1002.1 385.5 L1002.2 385.6 L1002.3 384.8 L1002.4 386.6 L1002.5 383.9 L1002.6 384.4 L1002.6 384.4 L1002.7 384.7 L1002.8 388.0 L1002.9 388.9 L1003.0 391.2 L1003.1 391.9 L1003.1 391.8 L1003.2 393.3 L1003.3 395.8 L1003.4 393.8 L1003.5 395.8 L1003.6 397.8 L1003.6 398.9 L1003.7 400.7 L1003.8 400.0 L1003.9 400.0 L1004.0 401.3 L1004.1 402.2 L1004.1 401.3 L1004.2 402.2 L1004.3 405.3 L1004.4 405.5 L1004.5 404.8 L1004.6 406.7 L1004.6 405.7 L1004.7 406.7 L1004.8 404.4 L1004.9 404.4 L1005.0 404.1 L1005.1 408.4 L1005.1 407.9 L1005.2 408.9 L1005.3 409.5 L1005.4 410.7 L1005.5 412.1 L1005.6 411.1 L1005.6 409.1 L1005.7 409.4 L1005.8 407.8 L1005.9 408.9 L1006.0 409.1 L1006.1 410.0 L1006.1 411.9 L1006.2 411.1 L1006.3 413.7 L1006.4 414.8 L1006.5 415.6 L1006.6 417.8 L1006.6 418.6 L1006.7 418.0 L1006.8 420.8 L1006.9 420.0 L1007.0 421.7 L1007.1 422.4 L1007.1 420.3 L1007.2 422.2 L1007.3 424.1 L1007.4 425.6 L1007.5 425.6 L1007.6 426.7 L1007.6 427.7 L1007.7 427.1 L1007.8 425.9 L1007.9 424.4 L1008.0 427.0 L1008.1 427.3 L1008.1 429.5 L1008.2 428.9 L1008.3 428.0 L1008.4 430.8 L1008.5 431.3 L1008.6 431.1 L1008.6 433.4 L1008.7 433.3 L1008.8 433.9 L1008.9 437.8 L1009.0 438.7 L1009.1 440.1 L1009.1 438.6 L1009.2 440.0 L1009.4 437.0 L1009.6 435.5 L1009.8 433.2 L1010.0 433.7 L1010.2 437.4 L1010.3 441.9 L1010.5 443.4 L1010.6 444.1 L1010.8 442.1 L1011.0 442.4 L1011.1 438.2 L1011.3 438.9 L1011.5 438.0 L1011.6 431.2 L1011.8 425.7 L1011.9 425.9 L1012.1 425.5 L1012.3 422.4 L1012.4 422.0 L1012.6 422.0 L1012.8 421.5 L1012.9 425.6 L1013.1 428.2 L1013.2 429.8 L1013.4 429.2 L1013.6 421.7 L1013.7 424.1 L1013.9 419.4 L1014.1 417.3 L1014.2 417.1 L1014.4 418.0 L1014.5 416.9 L1014.7 418.2 L1014.9 420.4 L1015.0 424.1 L1015.2 425.9 L1015.3 428.2 L1015.5 436.4 L1015.7 436.5 L1015.8 442.8 L1016.0 442.5 L1016.2 440.1 L1016.3 436.2 L1016.5 433.7 L1016.6 432.8 L1016.8 437.6 L1017.0 435.4 L1017.1 438.9 L1017.2 437.3 L1017.3 435.3 L1017.4 431.8 L1017.5 432.4 L1017.6 434.0 L1017.8 435.3 L1017.9 435.7 L1018.0 436.3 L1018.1 443.4 L1018.2 451.9 L1018.3 460.3 L1018.4 467.4 L1018.5 476.2 L1018.6 491.4 L1018.6 503.0 L1018.7 510.2 L1018.8 504.2 L1018.9 497.2 L1019.0 484.7 L1019.1 477.8 L1019.2 478.3 L1019.3 469.9 L1019.4 469.9 L1019.5 467.4 L1019.6 470.7 L1019.7 478.8 L1019.8 486.2 L1019.9 490.8 L1020.0 493.0 L1020.1 493.1 L1020.2 493.9 L1020.4 495.9 L1020.5 487.9 L1020.6 483.6 L1020.7 476.9 L1020.8 472.6 L1020.9 469.4 L1021.0 470.6 L1021.1 467.8 L1021.2 466.1 L1021.3 468.6 L1021.4 469.9 L1021.5 476.2 L1021.7 477.8 L1021.8 472.4 L1021.9 469.7 L1022.0 468.5 L1022.1 464.8 L1022.2 466.3 L1022.3 468.0 L1022.4 467.8 L1022.4 467.4 L1022.5 476.4 L1022.6 482.0 L1022.6 486.5 L1022.7 490.8 L1022.8 494.7 L1022.8 493.2 L1022.9 496.7 L1023.0 501.1 L1023.1 493.2 L1023.2 494.6 L1023.3 489.1 L1023.4 483.0 L1023.5 485.6 L1023.5 485.6 L1023.6 488.0 L1023.7 490.8 L1023.8 488.8 L1023.9 490.0 L1024.0 490.8 L1024.1 488.2 L1024.2 491.3 L1024.3 494.1 L1024.4 499.5 L1024.5 506.3 L1024.6 504.3 L1024.7 505.6 L1024.8 503.9 L1024.9 501.1 L1025.0 498.3 L1025.1 493.4 L1025.2 490.9 L1025.3 490.8 L1025.4 491.6 L1025.5 499.2 L1025.6 500.3 L1025.7 503.7 L1025.8 508.4 L1025.9 509.9 L1026.0 511.2 L1026.1 511.5 L1026.2 515.2 L1026.3 521.5 L1026.4 520.6 L1026.5 527.1 L1026.6 520.1 L1026.7 519.1 L1026.8 514.5 L1026.9 510.2 L1027.0 512.1 L1027.1 516.3 L1027.1 518.5 L1027.2 525.8 L1027.3 521.8 L1027.4 513.6 L1027.5 508.5 L1027.6 498.5 L1027.7 499.3 L1027.8 494.3 L1027.9 494.0 L1028.0 490.8 L1028.1 486.7 L1028.2 486.5 L1028.3 483.4 L1028.4 477.8 L1028.5 477.4 L1028.6 478.1 L1028.7 480.3 L1028.8 483.0 L1028.9 480.9 L1029.0 477.0 L1029.1 472.1 L1029.2 472.6 L1029.3 472.9 L1029.4 471.4 L1029.5 468.5 L1029.6 467.4 L1029.7 467.1 L1029.8 475.1 L1029.9 475.4 L1030.0 477.8 L1030.1 469.9 L1030.2 466.8 L1030.3 464.1 L1030.4 458.3 L1030.5 460.1 L1030.6 458.9 L1030.6 459.8 L1030.7 459.6 L1030.8 460.0 L1030.9 462.1 L1031.0 467.7 L1031.1 467.4 L1031.2 471.8 L1031.3 475.0 L1031.4 483.6 L1031.5 488.2 L1031.6 481.7 L1031.7 478.3 L1031.8 476.2 L1031.9 472.6 L1032.0 470.0 L1032.1 467.1 L1032.2 464.3 L1032.3 459.6 L1032.4 460.1 L1032.5 459.2 L1032.6 462.5 L1032.7 462.2 L1032.8 462.0 L1032.9 467.2 L1033.0 469.4 L1033.1 472.6 L1033.2 476.3 L1033.3 479.1 L1033.4 478.7 L1033.5 483.0 L1033.6 481.9 L1033.7 480.2 L1033.8 477.0 L1033.9 475.2 L1034.0 476.6 L1034.1 485.8 L1034.1 487.6 L1034.2 490.8 L1034.3 490.3 L1034.4 493.2 L1034.5 499.3 L1034.6 498.5 L1034.7 499.9 L1034.8 504.3 L1034.9 510.3 L1035.0 511.5 L1035.1 508.6 L1035.2 502.1 L1035.3 497.6 L1035.4 490.8 L1035.5 483.0 L1035.6 478.8 L1035.7 480.5 L1035.8 472.6 L1035.9 472.3 L1036.0 466.2 L1036.1 464.3 L1036.2 464.8 L1036.3 463.6 L1036.4 465.7 L1036.5 462.9 L1036.6 463.5 L1036.7 466.8 L1036.8 470.6 L1036.9 471.2 L1037.0 472.6 L1037.1 479.8 L1037.2 479.4 L1037.3 482.8 L1037.4 489.5 L1037.5 481.2 L1037.6 481.5 L1037.6 472.1 L1037.7 470.0 L1037.8 473.6 L1037.9 473.6 L1038.0 472.4 L1038.1 475.2 L1038.2 481.2 L1038.3 480.6 L1038.4 487.0 L1038.5 490.8 L1038.6 489.8 L1038.7 493.2 L1038.8 494.3 L1038.9 493.4 L1039.0 492.4 L1039.1 482.1 L1039.2 484.1 L1039.3 477.8 L1039.4 484.0 L1039.5 491.7 L1039.6 495.3 L1039.7 501.1 L1039.8 499.3 L1039.9 496.5 L1040.0 495.2 L1040.1 490.8 L1040.2 488.4 L1040.3 487.7 L1040.4 489.0 L1040.5 488.2 L1040.6 489.4 L1040.7 492.7 L1040.8 492.8 L1040.9 498.5 L1041.0 496.4 L1041.1 487.4 L1041.2 489.2 L1041.2 483.0 L1041.3 483.6 L1041.4 481.5 L1041.5 479.5 L1041.6 480.4 L1041.7 484.7 L1041.8 484.8 L1041.9 489.6 L1042.0 493.4 L1042.1 490.2 L1042.2 493.0 L1042.3 489.7 L1042.4 488.2 L1042.5 486.2 L1042.6 483.6 L1042.7 485.4 L1042.8 483.0 L1042.9 483.3 L1043.0 482.0 L1043.1 477.2 L1043.2 477.8 L1043.3 476.6 L1043.4 475.7 L1043.5 476.9 L1043.6 475.2 L1043.7 473.2 L1043.8 474.3 L1043.9 475.2 L1044.0 472.6 L1044.1 473.0 L1044.2 469.4 L1044.3 469.0 L1044.4 470.0 L1044.5 468.3 L1044.6 470.1 L1044.7 469.4 L1044.7 468.7 L1044.8 471.1 L1044.9 473.0 L1045.0 475.0 L1045.1 477.8 L1045.2 477.0 L1045.3 475.9 L1045.4 475.9 L1045.5 472.6 L1045.6 472.9 L1045.7 472.5 L1045.8 472.3 L1045.9 470.0 L1046.0 473.8 L1046.1 475.1 L1046.2 473.3 L1046.3 477.8 L1046.4 477.4 L1046.5 476.9 L1046.6 473.6 L1046.7 472.6 L1046.8 473.5 L1046.9 470.0 L1047.0 472.4 L1047.1 470.0 L1047.2 470.4 L1047.3 472.1 L1047.4 471.0 L1047.5 472.6 L1047.6 472.5 L1047.7 473.3 L1047.8 473.9 L1047.9 475.2 L1048.0 474.6 L1048.1 477.5 L1048.2 481.4 L1048.2 480.4 L1048.3 482.4 L1048.4 485.0 L1048.5 485.5 L1048.6 485.6 L1048.7 484.7 L1048.8 482.6 L1048.9 477.6 L1049.0 472.6 L1049.1 472.8 L1049.2 474.0 L1049.3 476.1 L1049.4 477.8 L1049.5 475.2 L1049.6 475.4 L1049.7 477.4 L1049.8 475.2 L1049.9 477.0 L1050.0 475.2 L1050.1 477.1 L1050.2 476.5 L1050.3 477.8 L1050.4 478.5 L1050.5 478.5 L1050.6 477.8 L1050.7 477.3 L1050.8 474.9 L1050.9 477.1 L1051.0 475.2 L1051.1 476.1 L1051.2 479.8 L1051.3 480.3 L1051.4 483.0 L1051.5 485.1 L1051.6 489.4 L1051.7 486.9 L1051.8 490.8 L1051.8 487.7 L1051.9 485.3 L1052.0 481.3 L1052.1 477.8 L1052.2 478.6 L1052.3 474.8 L1052.4 475.9 L1052.5 472.6 L1052.6 474.0 L1052.7 475.8 L1052.8 472.9 L1052.9 475.2 L1053.0 473.4 L1053.1 473.1 L1053.2 474.9 L1053.3 472.6 L1053.4 470.0 L1053.5 470.4 L1053.6 471.5 L1053.7 470.0 L1053.8 471.3 L1053.9 467.4 L1054.0 467.8 L1054.1 467.4 L1054.2 467.5 L1054.3 466.9 L1054.4 466.5 L1054.5 464.8 L1054.6 465.4 L1054.7 463.3 L1054.8 463.0 L1054.9 463.5 L1055.0 462.7 L1055.1 467.8 L1055.2 466.9 L1055.3 470.0 L1055.3 468.4 L1055.4 470.6 L1055.5 468.6 L1055.6 467.4 L1055.7 467.1 L1055.8 466.7 L1055.9 465.9 L1056.0 464.8 L1056.1 465.0 L1056.2 462.8 L1056.3 461.2 L1056.4 462.2 L1056.5 461.5 L1056.6 462.5 L1056.7 465.5 L1056.8 467.4 L1056.9 467.0 L1057.0 468.2 L1057.1 471.3 L1057.2 472.6 L1057.3 473.3 L1057.4 469.8 L1057.5 465.5 L1057.6 464.8 L1057.7 465.0 L1057.8 461.5 L1057.9 460.2 L1058.0 460.9 L1058.1 459.9 L1058.2 460.0 L1058.3 460.6 L1058.4 459.6 L1058.5 458.8 L1058.6 459.3 L1058.7 456.1 L1058.8 457.1 L1058.8 458.3 L1058.9 455.8 L1059.0 457.3 L1059.1 455.8 L1059.2 453.7 L1059.3 456.3 L1059.4 453.8 L1059.5 454.5 L1059.6 455.2 L1059.7 454.4 L1059.8 453.2 L1059.9 451.9 L1060.0 450.7 L1060.1 449.5 L1060.2 449.8 L1060.3 450.6 L1060.4 451.9 L1060.5 449.5 L1060.6 451.1 L1060.7 450.6 L1060.8 451.9 L1060.9 453.2 L1061.0 452.1 L1061.1 454.5 L1061.2 454.8 L1061.3 457.1 L1061.4 465.3 L1061.5 464.8 L1061.6 466.7 L1061.7 471.0 L1061.8 473.0 L1061.9 475.2 L1061.9 479.7 L1062.0 485.1 L1062.1 491.3 L1062.1 501.1 L1062.2 503.2 L1062.3 501.0 L1062.4 504.9 L1062.5 503.7 L1062.6 501.8 L1062.7 502.2 L1062.8 498.1 L1062.9 498.5 L1063.0 498.2 L1063.1 493.3 L1063.2 492.0 L1063.3 490.8 L1063.4 491.5 L1063.5 490.5 L1063.6 491.7 L1063.7 493.4 L1063.8 496.1 L1063.9 494.9 L1064.0 496.7 L1064.1 498.5 L1064.2 502.0 L1064.3 500.9 L1064.4 502.7 L1064.5 506.3 L1064.6 503.7 L1064.7 503.2 L1064.7 501.8 L1064.8 501.1 L1064.9 504.6 L1065.0 506.1 L1065.1 511.2 L1065.2 511.5 L1065.3 507.1 L1065.4 508.5 L1065.5 507.5 L1065.6 503.7 L1065.7 503.3 L1065.8 503.2 L1065.9 505.4 L1066.0 506.3 L1066.1 499.7 L1066.2 498.3 L1066.3 496.1 L1066.4 490.8 L1066.5 489.0 L1066.6 488.7 L1066.7 489.7 L1066.8 489.5 L1066.9 489.0 L1067.0 490.2 L1067.1 492.1 L1067.2 493.4 L1067.3 492.7 L1067.4 493.4 L1067.5 495.7 L1067.6 497.2 L1067.7 495.5 L1067.8 496.2 L1067.9 492.7 L1068.0 490.8 L1068.1 491.0 L1068.2 495.3 L1068.2 502.2 L1068.3 503.7 L1068.4 503.3 L1068.5 503.9 L1068.6 503.6 L1068.7 501.1 L1068.8 501.2 L1068.9 495.1 L1069.0 497.8 L1069.1 493.4 L1069.2 491.5 L1069.3 488.0 L1069.4 485.7 L1069.5 485.6 L1069.6 486.4 L1069.7 483.1 L1069.8 482.0 L1069.9 483.0 L1070.0 483.2 L1070.1 487.6 L1070.2 486.7 L1070.3 488.2 L1070.4 489.7 L1070.5 487.8 L1070.6 489.9 L1070.7 490.8 L1070.8 490.7 L1070.9 490.9 L1071.0 493.4 L1071.1 493.4 L1071.2 489.9 L1071.3 485.8 L1071.4 488.6 L1071.5 483.0 L1071.6 484.8 L1071.7 485.1 L1071.8 486.1 L1071.8 490.8 L1071.9 492.0 L1072.0 492.1 L1072.1 490.8 L1072.2 493.4 L1072.3 490.6 L1072.4 489.7 L1072.5 485.8 L1072.6 483.0 L1072.7 481.3 L1072.8 481.7 L1072.9 481.5 L1073.0 480.4 L1073.1 480.3 L1073.2 477.7 L1073.3 479.7 L1073.4 477.8 L1073.5 478.6 L1073.6 476.3 L1073.7 475.6 L1073.8 472.6 L1073.9 470.7 L1074.0 471.9 L1074.1 467.2 L1074.2 467.4 L1074.3 465.7 L1074.4 466.5 L1074.5 467.1 L1074.6 464.8 L1074.7 464.1 L1074.8 466.1 L1074.9 466.5 L1075.0 470.0 L1075.1 468.4 L1075.2 465.7 L1075.3 464.7 L1075.3 464.8 L1075.4 465.2 L1075.5 463.9 L1075.6 464.6 L1075.7 462.2 L1075.8 462.5 L1075.9 464.2 L1076.0 462.2 L1076.1 464.8 L1076.2 465.4 L1076.3 459.5 L1076.4 458.9 L1076.5 457.1 L1076.6 456.4 L1076.7 457.5 L1076.8 455.1 L1076.9 454.5 L1077.0 455.9 L1077.1 454.2 L1077.2 452.5 L1077.3 453.2 L1077.4 455.6 L1077.5 453.8 L1077.6 458.3 L1077.7 457.1 L1077.8 457.8 L1077.9 457.8 L1078.0 462.0 L1078.1 460.9 L1078.2 459.2 L1078.3 458.6 L1078.4 457.3 L1078.5 457.1 L1078.6 458.4 L1078.7 456.4 L1078.8 458.5 L1078.8 459.6 L1078.9 458.9 L1079.0 462.2 L1079.1 459.6 L1079.2 462.2 L1079.3 463.3 L1079.4 462.6 L1079.5 464.0 L1079.6 464.8 L1079.7 465.7 L1079.8 467.0 L1079.9 465.3 L1080.0 467.4 L1080.1 464.0 L1080.2 461.4 L1080.3 464.1 L1080.4 459.6 L1080.5 457.6 L1080.6 456.9 L1080.7 457.8 L1080.8 457.1 L1080.9 456.7 L1081.0 457.3 L1081.1 453.3 L1081.2 454.5 L1081.3 451.9 L1081.4 450.3 L1081.5 451.0 L1081.6 449.3 L1081.7 448.8 L1081.8 448.3 L1081.9 449.7 L1082.0 448.0 L1082.1 449.7 L1082.2 451.5 L1082.3 452.9 L1082.4 451.9 L1082.4 451.8 L1082.5 455.7 L1082.6 454.4 L1082.7 455.8 L1082.8 453.8 L1082.9 456.6 L1083.0 453.4 L1083.1 454.5 L1083.2 451.9 L1083.3 452.3 L1083.4 451.7 L1083.5 451.9 L1083.6 453.1 L1083.7 452.0 L1083.8 449.6 L1083.9 449.3 L1084.0 448.1 L1084.1 448.3 L1084.2 446.8 L1084.3 444.1 L1084.4 443.5 L1084.5 441.6 L1084.6 438.4 L1084.7 438.9 L1084.8 437.2 L1084.9 438.2 L1085.0 437.3 L1085.1 436.3 L1085.2 436.4 L1085.3 435.6 L1085.4 434.6 L1085.5 431.1 L1085.6 429.7 L1085.7 428.9 L1085.8 431.6 L1085.9 429.8 L1085.9 430.0 L1086.0 428.8 L1086.1 430.4 L1086.2 429.8 L1086.3 429.3 L1086.4 429.5 L1086.5 430.3 L1086.6 431.1 L1086.7 431.9 L1086.8 433.1 L1086.9 431.4 L1087.0 433.7 L1087.1 435.3 L1087.2 435.5 L1087.3 435.5 L1087.4 436.3 L1087.5 437.6 L1087.6 438.8 L1087.7 436.3 L1087.8 438.9 L1087.9 439.1 L1088.0 440.2 L1088.1 440.6 L1088.2 440.2 L1088.3 441.4 L1088.4 440.2 L1088.5 444.0 L1088.6 442.8 L1088.7 444.1 L1088.8 442.5 L1088.9 443.5 L1089.0 444.1 L1089.1 445.3 L1089.2 441.6 L1089.3 441.8 L1089.4 441.5 L1089.7 445.7 L1090.0 447.1 L1090.3 445.4 L1090.7 448.5 L1090.9 453.2 L1091.1 453.7 L1091.3 458.9 L1091.6 460.9 L1091.8 459.6 L1092.0 452.1 L1092.2 449.7 L1092.4 448.5 L1092.7 445.9 L1092.9 444.8 L1093.1 442.4 L1093.3 443.3 L1093.5 439.6 L1093.8 439.2 L1094.0 437.6 L1094.2 436.2 L1094.4 433.5 L1094.6 434.8 L1094.9 435.5 L1095.1 432.7 L1095.3 431.7 L1095.5 429.4 L1095.7 429.7 L1096.0 427.4 L1096.2 425.3 L1096.4 422.2 L1096.6 422.0 L1096.8 420.4 L1097.1 416.8 L1097.3 418.6 L1097.5 414.8 L1097.7 415.1 L1097.9 413.2 L1098.2 414.7 L1098.4 412.4 L1098.6 409.8 L1098.7 410.9 L1098.7 410.1 L1098.8 410.0 L1098.9 409.5 L1099.0 411.8 L1099.2 414.4 L1099.4 412.0 L1099.6 414.8 L1099.7 414.4 L1099.9 410.2 L1100.1 408.2 L1100.3 407.8 L1100.5 407.7 L1100.7 404.8 L1100.9 404.3 L1101.2 400.7 L1101.4 401.7 L1101.6 400.2 L1101.8 398.3 L1102.0 399.0 L1102.3 392.5 L1102.5 393.0 L1102.7 391.3 L1102.9 386.6 L1103.1 384.8 L1103.4 383.1 L1103.6 381.9 L1103.8 383.1 L1104.0 380.9 L1104.2 382.2 L1104.5 378.4 L1104.7 379.6 L1104.9 373.8 L1105.1 370.1 L1105.3 369.2 L1105.6 363.8 L1105.8 365.2 L1106.0 361.1 L1106.2 361.0 L1106.4 362.0 L1106.7 368.1 L1106.9 371.4 L1107.1 368.8 L1107.3 374.3 L1107.5 369.2 L1107.8 366.6 L1108.0 361.2 L1108.2 358.5 L1108.4 358.6 L1108.6 359.3 L1108.9 358.9 L1109.1 360.3 L1109.3 359.5 L1109.5 360.9 L1109.7 362.6 L1110.0 365.5 L1110.1 366.2 L1110.2 373.4 L1110.3 377.5 L1110.5 379.6 L1110.7 379.2 L1110.8 381.6 L1111.0 381.8 L1111.2 381.4 L1111.4 379.8 L1111.5 379.6 L1111.7 377.4 L1111.9 377.9 L1112.1 380.6 L1112.2 379.9 L1112.4 378.6 L1112.6 381.4 L1112.8 381.0 L1112.9 384.9 L1113.1 384.8 L1113.3 386.6 L1113.5 386.0 L1113.6 381.7 L1113.8 383.0 L1114.0 379.6 L1114.2 380.0 L1114.3 376.1 L1114.5 377.3 L1114.7 376.1 L1114.9 373.9 L1115.1 375.2 L1115.2 374.8 L1115.4 372.6 L1115.6 369.3 L1115.8 360.1 L1115.9 353.9 L1116.1 351.5 L1116.3 351.6 L1116.5 350.8 L1116.8 348.8 L1117.0 349.7 L1117.2 349.6 L1117.4 352.7 L1117.6 351.8 L1117.9 355.0 L1118.1 355.0 L1118.3 353.1 L1118.5 352.8 L1118.7 353.2 L1119.0 352.0 L1119.2 351.6 L1119.4 351.5 L1119.6 349.7 L1119.8 348.6 L1120.1 352.4 L1120.3 351.2 L1120.5 353.2 L1120.7 358.4 L1120.9 367.4 L1121.2 374.4 L1121.4 379.6 L1121.5 381.0 L1121.6 383.1 L1121.8 381.0 L1121.9 383.1 L1122.1 387.1 L1122.3 394.8 L1122.4 397.3 L1122.6 404.2 L1122.7 399.4 L1122.9 397.2 L1123.0 398.1 L1123.1 393.7 L1123.4 399.0 L1123.6 401.3 L1123.8 406.1 L1124.0 406.0 L1124.2 408.1 L1124.5 406.9 L1124.7 407.9 L1124.9 409.5 L1125.1 408.0 L1125.3 400.3 L1125.6 401.0 L1125.8 397.2 L1126.0 397.0 L1126.2 399.0 L1126.4 403.9 L1126.7 406.0 L1126.9 397.0 L1127.1 395.8 L1127.3 388.9 L1127.5 379.6 L1127.8 378.6 L1128.0 376.6 L1128.2 375.4 L1128.4 376.1 L1128.6 375.2 L1128.9 374.4 L1129.1 372.9 L1129.3 372.6 L1129.5 372.6 L1129.7 370.9 L1130.0 371.1 L1130.2 369.1 L1130.4 365.2 L1130.6 363.3 L1130.8 363.2 L1131.1 362.0 L1131.3 361.1 L1131.5 359.2 L1131.7 360.1 L1131.9 358.5 L1132.2 359.4 L1132.4 362.6 L1132.6 366.3 L1132.8 369.1 L1133.0 367.8 L1133.3 365.5 L1133.5 360.3 L1133.7 358.5 L1133.9 359.2 L1134.1 362.1 L1134.4 363.0 L1134.6 362.0 L1134.8 361.6 L1135.0 358.6 L1135.2 359.2 L1135.5 358.5 L1135.7 358.2 L1135.9 355.8 L1136.1 353.9 L1136.3 355.0 L1136.6 356.2 L1136.8 355.0 L1137.0 350.8 L1137.2 351.5 L1137.4 349.5 L1137.7 348.6 L1137.9 345.1 L1138.1 344.4 L1138.3 341.7 L1138.5 343.7 L1138.8 342.9 L1139.0 340.9 L1139.2 342.3 L1139.4 342.2 L1139.6 345.6 L1139.9 348.0 L1140.1 344.7 L1140.3 347.5 L1140.5 341.8 L1140.7 342.7 L1141.0 344.7 L1141.2 351.6 L1141.4 350.7 L1141.6 356.7 L1141.8 352.2 L1142.1 349.8 L1142.3 348.2 L1142.5 348.0 L1142.7 345.5 L1142.9 344.8 L1143.2 337.9 L1143.4 337.4 L1143.6 335.1 L1143.8 336.8 L1144.0 334.4 L1144.3 333.9 L1144.5 330.7 L1144.7 327.3 L1144.9 325.8 L1145.1 325.1 L1145.4 326.6 L1145.6 323.9 L1145.8 324.3 L1146.0 325.1 L1146.2 327.6 L1146.5 329.6 L1146.7 331.0 L1146.9 330.4 L1147.1 331.1 L1147.3 334.1 L1147.6 333.4 L1147.8 333.9 L1148.0 333.5 L1148.2 334.6 L1148.4 336.0 L1148.6 335.6 L1148.9 336.9 L1149.1 335.1 L1149.3 335.8 L1149.5 337.4 L1149.7 343.0 L1150.0 340.2 L1150.2 347.3 L1150.4 348.0 L1150.6 348.9 L1150.8 350.1 L1151.1 351.9 L1151.3 355.0 L1151.5 356.6 L1151.7 361.1 L1151.9 358.4 L1152.2 362.0 L1152.4 364.4 L1152.6 363.0 L1152.8 363.3 L1153.0 365.5 L1153.3 362.9 L1153.5 355.6 L1153.7 350.2 L1153.9 348.0 L1154.1 345.8 L1154.4 346.1 L1154.6 344.6 L1154.8 340.9 L1155.0 339.6 L1155.2 334.8 L1155.5 337.0 L1155.7 333.9 L1155.9 337.2 L1156.1 341.7 L1156.3 344.7 L1156.6 344.4 L1156.8 344.6 L1157.0 347.7 L1157.2 348.4 L1157.4 348.0 L1157.7 345.5 L1157.9 344.7 L1158.1 343.4 L1158.3 342.7 L1158.5 342.6 L1158.8 343.1 L1159.0 342.5 L1159.2 344.4 L1159.4 344.2 L1159.6 347.9 L1159.9 346.7 L1160.1 348.0 L1160.3 352.0 L1160.5 356.8 L1160.7 358.9 L1161.0 360.3 L1161.2 360.4 L1161.4 364.9 L1161.6 365.7 L1161.8 365.5 L1162.1 359.3 L1162.3 347.8 L1162.5 338.3 L1162.7 326.8 L1162.9 327.8 L1163.2 326.1 L1163.4 327.3 L1163.6 326.8 L1163.8 328.0 L1164.0 332.2 L1164.3 330.2 L1164.5 333.9 L1164.7 331.9 L1164.9 328.5 L1165.1 329.2 L1165.4 325.1 L1165.6 324.6 L1165.8 326.2 L1166.0 326.2 L1166.2 325.1 L1166.5 330.1 L1166.7 328.1 L1166.9 335.8 L1167.1 335.6 L1167.3 337.0 L1167.6 337.2 L1167.8 337.5 L1168.0 337.4 L1168.2 333.2 L1168.4 335.8 L1168.7 332.4 L1168.9 330.4 L1169.1 327.9 L1169.3 325.0 L1169.5 325.4 L1169.8 321.6 L1170.0 322.2 L1170.2 322.1 L1170.4 319.2 L1170.6 319.8 L1170.9 321.4 L1171.1 323.5 L1171.3 325.2 L1171.5 330.4 L1171.7 327.2 L1172.0 323.2 L1172.2 325.5 L1172.4 321.6 L1172.6 317.8 L1172.8 314.7 L1173.1 312.4 L1173.3 312.8 L1173.5 316.9 L1173.7 316.1 L1173.9 320.4 L1174.2 323.3 L1174.4 322.0 L1174.6 322.9 L1174.8 322.6 L1175.0 319.8 L1175.3 320.6 L1175.5 324.0 L1175.7 327.2 L1175.9 326.8 L1176.1 324.5 L1176.4 324.8 L1176.6 321.6 L1176.8 318.0 L1177.0 316.9 L1177.2 318.6 L1177.5 317.0 L1177.7 316.3 L1177.9 315.7 L1178.1 319.3 L1178.3 321.8 L1178.6 321.6 L1178.8 320.3 L1179.0 318.9 L1179.2 317.2 L1179.4 316.3 L1179.7 320.7 L1179.9 321.7 L1180.1 321.2 L1180.3 325.1 L1180.5 323.6 L1180.8 322.7 L1181.0 324.4 L1181.2 321.6 L1181.4 323.8 L1181.6 322.4 L1181.9 327.5 L1182.1 326.8 L1182.3 325.7 L1182.5 329.0 L1182.7 329.2 L1183.0 330.4 L1183.2 328.4 L1183.4 322.8 L1183.6 317.0 L1183.8 316.3 L1184.1 316.4 L1184.3 317.3 L1184.5 317.2 L1184.7 316.3 L1184.9 315.3 L1185.1 314.4 L1185.4 315.9 L1185.6 314.5 L1185.8 315.2 L1186.0 312.6 L1186.2 314.6 L1186.5 312.8 L1186.7 314.0 L1186.9 310.7 L1187.1 309.6 L1187.3 309.3 L1187.6 309.3 L1187.8 309.3 L1188.0 305.3 L1188.2 305.7 L1188.4 306.4 L1188.7 308.3 L1188.9 312.2 L1189.1 312.8 L1189.3 313.7 L1189.5 319.3 L1189.8 322.0 L1190.0 325.1 L1190.2 321.4 L1190.4 312.9 L1190.6 313.8 L1190.9 305.7 L1191.1 307.2 L1191.3 305.1 L1191.5 305.5 L1191.7 304.0 L1192.0 303.5 L1192.2 307.5 L1192.4 306.8 L1192.6 307.5 L1192.8 307.7 L1193.1 307.3 L1193.3 304.3 L1193.5 304.0 L1193.7 305.3 L1193.9 303.0 L1194.2 302.5 L1194.4 304.0 L1194.6 307.5 L1194.8 313.8 L1195.0 317.3 L1195.3 318.0 L1195.5 324.8 L1195.7 325.2 L1195.9 331.6 L1196.1 332.1 L1196.4 334.7 L1196.6 334.4 L1196.8 339.5 L1197.0 340.9 L1197.2 341.0 L1197.5 337.9 L1197.7 337.4 L1197.9 335.6 L1198.1 336.4 L1198.3 338.7 L1198.6 341.8 L1198.8 344.4 L1199.0 344.9 L1199.2 345.2 L1199.4 344.2 L1199.7 346.2 L1199.9 345.5 L1200.1 349.7 L1200.3 354.1 L1200.5 355.0 L1200.8 350.6 L1201.0 340.8 L1201.2 334.8 L1201.4 330.4 L1201.6 328.3 L1201.9 324.1 L1202.1 324.4 L1202.3 321.6 L1202.5 321.7 L1202.7 315.4 L1203.0 315.5 L1203.2 312.8 L1203.4 314.0 L1203.6 314.6 L1203.8 314.9 L1204.1 314.5 L1204.3 316.9 L1204.5 316.1 L1204.7 320.1 L1204.9 319.8 L1205.2 323.8 L1205.4 320.9 L1205.6 327.4 L1205.8 326.8 L1206.0 327.5 L1206.3 326.8 L1206.5 327.6 L1206.7 330.4 L1206.9 333.7 L1207.1 334.8 L1207.4 333.7 L1207.6 337.4 L1207.8 338.9 L1208.0 341.7 L1208.2 345.3 L1208.5 344.4 L1208.7 346.4 L1208.9 352.4 L1209.1 351.9 L1209.3 356.7 L1209.6 351.6 L1209.8 348.3 L1210.0 346.9 L1210.2 344.4 L1210.4 345.8 L1210.7 345.4 L1210.9 345.6 L1211.1 348.0 L1211.3 342.5 L1211.5 338.0 L1211.8 335.2 L1212.0 333.9 L1212.2 330.6 L1212.4 329.5 L1212.6 325.4 L1212.9 325.1 L1213.1 324.6 L1213.3 324.0 L1213.5 325.5 L1213.7 323.3 L1214.0 325.0 L1214.2 329.2 L1214.4 328.4 L1214.6 330.4 L1214.8 331.1 L1215.1 336.2 L1215.3 336.0 L1215.5 340.9 L1215.6 333.8 L1215.8 328.3 L1215.9 327.8 L1216.0 321.6 L1216.2 320.0 L1216.4 311.2 L1216.5 306.0 L1216.7 302.2 L1216.9 300.5 L1217.2 298.9 L1217.4 299.2 L1217.6 296.9 L1217.7 295.6 L1217.9 293.7 L1218.0 295.9 L1218.1 293.4 L1218.4 291.6 L1218.6 286.1 L1218.8 288.9 L1219.0 284.6 L1219.2 284.1 L1219.5 280.3 L1219.7 280.0 L1219.9 277.6 L1220.1 278.3 L1220.3 274.5 L1220.5 273.3 L1220.8 272.3 L1221.0 272.0 L1221.2 273.4 L1221.4 274.2 L1221.6 274.1 L1221.9 278.8 L1222.1 283.3 L1222.3 280.9 L1222.5 286.4 L1222.7 286.3 L1223.0 288.6 L1223.2 288.8 L1223.4 288.1 L1223.6 284.4 L1223.8 280.6 L1224.1 273.8 L1224.3 270.6 L1224.5 272.7 L1224.7 271.6 L1224.9 271.5 L1225.2 272.3 L1225.4 272.1 L1225.6 273.1 L1225.8 278.2 L1226.0 277.6 L1226.3 277.7 L1226.5 272.7 L1226.7 272.8 L1226.9 272.3 L1227.1 274.8 L1227.4 277.6 L1227.6 279.4 L1227.8 282.9 L1228.0 283.2 L1228.2 278.6 L1228.5 277.8 L1228.7 275.8 L1228.9 280.5 L1229.1 281.0 L1229.3 282.3 L1229.6 284.6 L1229.8 280.4 L1230.0 277.7 L1230.2 276.1 L1230.4 272.3 L1230.7 278.7 L1230.9 279.4 L1231.1 284.6 L1231.3 289.9 L1231.5 290.7 L1231.8 291.9 L1232.0 295.8 L1232.2 295.2 L1232.4 298.1 L1232.6 299.0 L1232.9 302.0 L1233.1 305.7 L1233.3 308.0 L1233.5 306.0 L1233.7 309.2 L1234.0 309.3 L1234.2 302.4 L1234.4 300.1 L1234.6 295.6 L1234.8 295.2 L1234.9 296.1 L1234.9 293.8 L1235.0 294.0 L1235.0 294.8 L1235.1 298.9 L1235.2 307.6 L1235.3 318.1 L1235.4 323.7 L1235.5 322.6 L1235.5 321.4 L1235.6 319.2 L1235.7 314.1 L1235.8 312.0 L1235.9 311.8 L1236.0 304.3 L1236.1 304.4 L1236.2 304.6 L1236.3 299.2 L1236.4 295.3 L1236.4 294.8 L1236.5 299.9 L1236.6 303.9 L1236.7 303.9 L1236.8 308.0 L1236.9 309.1 L1237.0 318.5 L1237.1 321.5 L1237.2 323.7 L1237.3 324.7 L1237.3 326.7 L1237.4 323.7 L1237.5 326.1 L1237.6 321.4 L1237.7 319.7 L1237.8 317.0 L1237.9 317.7 L1238.0 319.5 L1238.1 320.0 L1238.2 318.7 L1238.2 321.3 L1238.3 317.7 L1238.4 316.0 L1238.5 316.4 L1238.6 314.1 L1238.7 312.7 L1238.8 312.1 L1238.9 306.0 L1239.0 304.4 L1239.1 305.7 L1239.1 303.0 L1239.2 302.2 L1239.3 302.0 L1239.4 302.3 L1239.5 303.7 L1239.6 308.9 L1239.7 308.0 L1239.8 312.0 L1239.9 312.1 L1240.0 310.9 L1240.1 314.1 L1240.1 314.0 L1240.2 315.3 L1240.3 317.8 L1240.4 320.1 L1240.5 323.5 L1240.6 321.8 L1240.7 326.6 L1240.8 328.5 L1240.9 327.7 L1241.0 322.4 L1241.0 322.8 L1241.1 321.3 L1241.2 321.0 L1241.3 318.1 L1241.4 315.6 L1241.5 314.1 L1241.6 317.5 L1241.7 317.6 L1241.8 317.7 L1241.9 320.1 L1241.9 318.0 L1242.0 319.3 L1242.1 317.4 L1242.2 314.1 L1242.3 315.1 L1242.4 313.1 L1242.5 310.8 L1242.6 311.6 L1242.7 309.8 L1242.8 310.0 L1242.8 310.6 L1242.9 309.2 L1243.0 305.7 L1243.1 308.2 L1243.2 307.0 L1243.3 304.4 L1243.4 303.3 L1243.5 299.7 L1243.6 302.2 L1243.7 299.6 L1243.8 299.0 L1243.8 299.6 L1243.9 299.0 L1244.0 298.4 L1244.1 299.9 L1244.2 299.3 L1244.3 302.0 L1244.4 300.8 L1244.5 302.1 L1244.6 301.8 L1244.7 300.3 L1244.7 299.6 L1244.8 299.5 L1244.9 300.3 L1245.0 300.5 L1245.1 302.0 L1245.2 303.8 L1245.3 303.7 L1245.4 304.0 L1245.5 303.2 L1245.6 303.9 L1245.6 304.0 L1245.7 302.2 L1245.8 300.8 L1245.9 300.5 L1246.0 302.3 L1246.1 300.9 L1246.2 302.0 L1246.3 303.4 L1246.4 302.4 L1246.5 306.3 L1246.5 305.6 L1246.6 309.2 L1246.7 311.3 L1246.8 319.4 L1246.9 320.1 L1247.0 320.8 L1247.1 330.3 L1247.2 332.7 L1247.3 334.5 L1247.4 333.6 L1247.4 336.0 L1247.5 335.7 L1247.6 335.7 L1247.7 340.6 L1247.8 341.0 L1247.9 342.5 L1248.0 345.3 L1248.1 356.8 L1248.2 359.3 L1248.3 372.5 L1248.4 379.0 L1248.4 376.0 L1248.5 375.6 L1248.6 373.6 L1248.7 374.2 L1248.8 372.0 L1248.9 364.2 L1249.0 361.3 L1249.1 354.9 L1249.2 351.8 L1249.3 352.6 L1249.3 350.3 L1249.4 347.7 L1249.5 349.1 L1249.6 356.1 L1249.7 361.9 L1249.8 364.6 L1249.9 360.0 L1250.0 360.2 L1250.1 355.0 L1250.2 353.7 L1250.2 354.1 L1250.3 357.3 L1250.4 358.3 L1250.5 357.4 L1250.6 365.0 L1250.7 365.3 L1250.8 370.5 L1250.9 374.2 L1251.0 373.7 L1251.1 371.0 L1251.1 366.7 L1251.2 364.6 L1251.3 364.4 L1251.4 359.2 L1251.5 360.1 L1251.6 354.9 L1251.7 356.6 L1251.8 356.5 L1251.9 361.7 L1252.0 362.2 L1252.0 360.2 L1252.1 361.7 L1252.2 358.6 L1252.3 359.8 L1252.4 364.2 L1252.5 363.6 L1252.6 366.5 L1252.7 367.0 L1252.8 366.8 L1252.9 371.3 L1253.0 371.7 L1253.0 374.2 L1253.1 370.3 L1253.2 371.3 L1253.3 364.1 L1253.4 364.6 L1253.5 366.3 L1253.6 366.0 L1253.7 371.9 L1253.8 371.8 L1253.9 379.4 L1253.9 378.1 L1254.0 386.0 L1254.1 391.0 L1254.2 386.6 L1254.3 384.1 L1254.4 380.0 L1254.5 374.2 L1254.6 374.2 L1254.7 377.1 L1254.8 374.8 L1254.8 376.6 L1254.9 372.8 L1255.0 374.7 L1255.1 369.1 L1255.2 369.4 L1255.3 365.9 L1255.4 365.8 L1255.5 363.1 L1255.6 362.2 L1255.7 357.7 L1255.7 360.0 L1255.8 354.8 L1255.9 352.5 L1256.0 352.7 L1256.1 349.0 L1256.2 350.9 L1256.3 347.7 L1256.4 346.4 L1256.5 348.6 L1256.6 347.2 L1256.6 346.5 L1256.7 351.3 L1256.8 352.3 L1256.9 353.6 L1257.0 354.9 L1257.1 353.9 L1257.2 354.2 L1257.3 351.1 L1257.4 350.1 L1257.5 348.0 L1257.6 350.6 L1257.6 349.5 L1257.7 347.7 L1257.8 349.8 L1257.9 351.3 L1258.0 350.1 L1258.1 352.5 L1258.2 351.2 L1258.3 351.6 L1258.4 351.1 L1258.5 347.7 L1258.5 348.1 L1258.6 341.6 L1258.7 342.5 L1258.8 339.3 L1258.9 340.1 L1259.0 340.1 L1259.1 339.8 L1259.2 341.7 L1259.3 341.7 L1259.4 345.8 L1259.4 348.0 L1259.5 350.1 L1259.6 351.6 L1259.7 355.3 L1259.8 359.5 L1259.9 362.2 L1260.0 365.4 L1260.1 366.3 L1260.2 365.8 L1260.3 369.4 L1260.3 370.0 L1260.4 366.4 L1260.5 367.9 L1260.6 364.6 L1260.7 365.4 L1260.8 359.0 L1260.9 359.6 L1261.0 357.4 L1261.1 360.7 L1261.2 359.2 L1261.2 361.2 L1261.3 362.2 L1261.4 365.7 L1261.5 368.5 L1261.6 374.5 L1261.7 381.4 L1261.8 375.2 L1261.9 372.7 L1262.0 371.5 L1262.1 367.0 L1262.2 365.5 L1262.2 365.8 L1262.3 362.6 L1262.4 359.8 L1262.5 357.2 L1262.6 358.6 L1262.7 355.1 L1262.8 352.5 L1262.9 352.1 L1263.0 352.8 L1263.1 351.4 L1263.1 350.1 L1263.2 351.2 L1263.3 354.3 L1263.4 354.5 L1263.5 357.4 L1263.6 358.3 L1263.7 353.8 L1263.8 355.9 L1263.9 352.5 L1264.0 350.2 L1264.0 349.4 L1264.1 350.9 L1264.2 350.1 L1264.3 350.8 L1264.4 355.0 L1264.5 355.0 L1264.6 359.8 L1264.7 360.5 L1264.8 359.2 L1264.9 358.7 L1264.9 357.4 L1265.0 362.4 L1265.1 365.2 L1265.2 365.7 L1265.3 367.0 L1265.4 369.9 L1265.5 367.9 L1265.6 370.0 L1265.7 374.2 L1265.8 378.5 L1265.9 387.1 L1265.9 387.3 L1266.0 393.4 L1266.1 392.6 L1266.2 388.8 L1266.3 389.4 L1266.4 388.6 L1266.5 388.4 L1266.6 383.2 L1266.7 381.8 L1266.8 376.6 L1266.8 371.2 L1266.9 370.0 L1267.0 367.4 L1267.1 367.0 L1267.2 367.3 L1267.3 362.7 L1267.4 365.4 L1267.5 362.2 L1267.6 359.9 L1267.7 361.5 L1267.7 358.6 L1267.8 357.4 L1267.9 357.7 L1268.0 361.9 L1268.1 360.5 L1268.2 362.2 L1268.3 361.9 L1268.4 357.8 L1268.5 360.1 L1268.6 357.4 L1268.6 358.1 L1268.7 351.7 L1268.8 353.3 L1268.9 350.1 L1269.0 348.6 L1269.1 347.6 L1269.2 347.8 L1269.3 347.7 L1269.4 347.8 L1269.5 348.3 L1269.5 347.9 L1269.6 345.3 L1269.7 353.0 L1269.8 354.6 L1269.9 359.0 L1270.0 362.2 L1270.1 362.2 L1270.2 367.0 L1270.3 367.9 L1270.4 369.4 L1270.5 370.9 L1270.5 376.6 L1270.6 375.1 L1270.7 379.0 L1270.8 379.6 L1270.9 382.7 L1271.0 385.6 L1271.1 391.0 L1271.2 392.6 L1271.3 394.8 L1271.4 393.1 L1271.4 395.8 L1271.5 397.7 L1271.6 399.8 L1271.7 401.6 L1271.8 403.1 L1271.9 398.8 L1272.0 396.1 L1272.1 388.8 L1272.2 388.6 L1272.3 388.3 L1272.3 393.0 L1272.4 394.2 L1272.5 398.2 L1272.6 397.0 L1272.7 390.5 L1272.8 391.4 L1272.9 386.2 L1273.0 383.8 L1273.1 381.9 L1273.2 382.5 L1273.2 381.4 L1273.3 380.7 L1273.4 380.2 L1273.5 381.5 L1273.6 380.2 L1273.7 380.3 L1273.8 384.1 L1273.9 386.4 L1274.0 386.2 L1274.1 387.8 L1274.1 389.8 L1274.2 393.9 L1274.3 393.4 L1274.4 396.5 L1274.5 396.3 L1274.6 398.0 L1274.7 403.1 L1274.8 399.9 L1274.9 399.9 L1275.0 397.5 L1275.1 398.2 L1275.1 395.7 L1275.2 390.5 L1275.3 386.1 L1275.4 383.8 L1275.5 385.1 L1275.6 388.2 L1275.7 386.2 L1275.8 388.6 L1275.9 391.6 L1276.0 398.1 L1276.0 403.6 L1276.1 410.3 L1276.2 412.5 L1276.3 412.3 L1276.4 411.8 L1276.5 412.7 L1276.6 409.1 L1276.7 406.6 L1276.8 405.2 L1276.9 405.5 L1276.9 405.5 L1277.0 402.6 L1277.1 398.2 L1277.2 398.2 L1277.3 396.1 L1277.4 389.2 L1277.5 389.3 L1277.6 386.2 L1277.7 385.0 L1277.8 383.5 L1277.8 385.4 L1277.9 383.8 L1278.0 384.1 L1278.1 382.7 L1278.2 380.7 L1278.3 381.4 L1278.4 386.2 L1278.5 388.2 L1278.6 393.4 L1278.7 395.8 L1278.8 394.8 L1278.8 398.6 L1278.9 395.7 L1279.0 398.2 L1279.1 390.3 L1279.2 385.5 L1279.3 378.1 L1279.4 374.2 L1279.5 369.3 L1279.6 370.5 L1279.7 370.0 L1279.7 364.6 L1279.8 364.5 L1279.9 364.9 L1280.0 367.0 L1280.1 367.0 L1280.2 364.5 L1280.3 364.1 L1280.4 364.2 L1280.5 362.2 L1280.6 361.9 L1280.6 361.1 L1280.7 360.8 L1280.8 362.2 L1280.9 362.9 L1281.0 365.3 L1281.1 365.6 L1281.2 364.6 L1281.3 363.6 L1281.4 365.8 L1281.5 366.3 L1281.5 367.0 L1281.6 367.1 L1281.7 371.5 L1281.8 372.4 L1281.9 374.2 L1282.0 376.0 L1282.1 374.6 L1282.2 377.7 L1282.3 376.6 L1282.4 379.3 L1282.4 378.9 L1282.5 378.5 L1282.6 381.4 L1282.7 382.5 L1282.8 382.1 L1282.9 385.9 L1283.0 386.2 L1283.1 387.6 L1283.2 387.7 L1283.3 389.9 L1283.4 388.6 L1283.4 388.0 L1283.5 393.4 L1283.6 395.7 L1283.7 395.8 L1283.8 393.7 L1283.9 393.9 L1284.0 392.3 L1284.1 393.4 L1284.2 392.1 L1284.3 391.0 L1284.3 387.2 L1284.4 386.2 L1284.5 389.1 L1284.6 389.1 L1284.7 392.8 L1284.8 393.4 L1284.9 391.2 L1285.0 393.3 L1285.1 389.5 L1285.2 388.6 L1285.2 384.2 L1285.3 382.8 L1285.4 384.4 L1285.5 381.4 L1285.6 381.6 L1285.7 378.5 L1285.8 374.1 L1285.9 374.2 L1286.0 373.7 L1286.1 369.7 L1286.1 362.6 L1286.2 362.2 L1286.3 359.7 L1286.4 359.5 L1286.5 354.1 L1286.6 354.9 L1286.7 353.8 L1286.8 355.6 L1286.9 358.2 L1287.0 357.4 L1287.0 358.7 L1287.1 355.4 L1287.2 357.2 L1287.3 354.9 L1287.4 355.1 L1287.5 354.2 L1287.6 351.7 L1287.7 350.1 L1287.8 352.6 L1287.9 351.9 L1288.0 353.7 L1288.0 352.5 L1288.1 351.4 L1288.2 348.0 L1288.3 348.1 L1288.4 346.5 L1288.5 346.2 L1288.6 345.3 L1288.7 345.2 L1288.8 345.3 L1288.9 344.8 L1288.9 344.5 L1289.0 342.4 L1289.1 342.9 L1289.2 343.1 L1289.3 345.3 L1289.4 346.5 L1289.5 347.7 L1289.6 345.8 L1289.7 345.5 L1289.8 341.6 L1289.8 341.7 L1289.9 342.8 L1290.0 342.6 L1290.1 345.6 L1290.2 345.3 L1290.3 345.5 L1290.4 345.2 L1290.5 343.6 L1290.6 342.9 L1290.7 341.3 L1290.7 343.4 L1290.8 341.2 L1290.9 340.5 L1291.0 340.4 L1291.1 340.4 L1291.2 341.1 L1291.3 341.7 L1291.4 343.5 L1291.5 344.9 L1291.6 344.3 L1291.6 345.3 L1291.7 345.2 L1291.8 341.6 L1291.9 341.5 L1292.0 340.5 L1292.1 340.6 L1292.2 341.0 L1292.3 341.8 L1292.4 342.9 L1292.5 345.3 L1292.6 346.4 L1292.6 345.2 L1292.7 347.7 L1292.8 346.1 L1292.9 347.6 L1293.0 346.5 L1293.1 345.3 L1293.2 348.1 L1293.3 349.7 L1293.4 351.8 L1293.5 352.5 L1293.5 353.1 L1293.6 353.8 L1293.7 357.2 L1293.8 359.8 L1293.9 359.1 L1294.0 365.8 L1294.1 365.3 L1294.2 367.0 L1294.3 369.0 L1294.4 371.5 L1294.4 372.0 L1294.5 371.8 L1294.6 371.3 L1294.7 372.4 L1294.8 372.1 L1294.9 374.2 L1295.0 374.0 L1295.1 371.9 L1295.2 368.7 L1295.3 367.0 L1295.3 367.1 L1295.4 367.3 L1295.5 368.7 L1295.6 369.4 L1295.7 371.6 L1295.8 373.6 L1295.9 374.6 L1296.0 374.2 L1296.1 375.0 L1296.2 372.8 L1296.2 372.1 L1296.3 371.8 L1296.4 369.0 L1296.5 370.7 L1296.6 364.7 L1296.7 364.6 L1296.8 360.9 L1296.9 359.8 L1297.0 361.4 L1297.1 357.4 L1297.2 360.2 L1297.2 359.0 L1297.3 362.6 L1297.4 362.2 L1297.5 365.2 L1297.6 364.2 L1297.7 364.3 L1297.8 367.0 L1297.9 368.6 L1298.0 367.7 L1298.1 367.3 L1298.1 369.4 L1298.2 369.4 L1298.3 364.2 L1298.4 361.5 L1298.5 359.8 L1298.6 356.2 L1298.7 349.6 L1298.8 343.8 L1298.9 342.9 L1299.0 341.9 L1299.0 341.2 L1299.1 339.2 L1299.2 340.5 L1299.3 340.4 L1299.4 342.0 L1299.5 340.8 L1299.6 341.7 L1299.7 341.6 L1299.8 340.4 L1299.9 337.7 L1299.9 338.1 L1300.0 334.7 L1300.1 336.5 L1300.2 335.0 L1300.3 333.3 L1300.4 331.5 L1300.5 330.2 L1300.6 332.1 L1300.7 329.7 L1300.8 330.8 L1300.9 328.1 L1300.9 329.1 L1301.0 328.5 L1301.1 328.2 L1301.2 326.6 L1301.3 324.9 L1301.4 326.1 L1301.5 325.2 L1301.6 326.0 L1301.7 325.5 L1301.8 324.9 L1301.8 325.2 L1301.9 324.1 L1302.0 324.8 L1302.1 326.1 L1302.4 327.4 L1302.7 330.6 L1302.9 332.7 L1303.2 336.1 L1303.4 336.9 L1303.6 332.7 L1303.9 335.5 L1304.1 332.6 L1304.3 330.6 L1304.5 332.3 L1304.7 328.8 L1305.0 329.1 L1305.2 330.3 L1305.4 330.3 L1305.6 329.7 L1305.8 332.6 L1306.1 332.4 L1306.3 330.7 L1306.5 326.1 L1306.7 325.5 L1306.9 331.0 L1307.2 332.4 L1307.4 339.5 L1307.6 339.6 L1307.8 339.0 L1308.0 342.5 L1308.2 343.4 L1308.5 346.6 L1308.7 350.1 L1308.9 353.7 L1309.1 356.7 L1309.3 357.2 L1309.6 359.2 L1309.8 360.1 L1310.0 364.1 L1310.2 364.2 L1310.4 354.4 L1310.7 348.5 L1310.9 344.9 L1311.1 336.1 L1311.3 335.4 L1311.5 337.1 L1311.8 333.3 L1312.0 334.3 L1312.2 333.8 L1312.4 332.4 L1312.6 331.2 L1312.9 332.6 L1313.1 331.7 L1313.3 332.6 L1313.5 334.7 L1313.7 336.1 L1314.0 334.9 L1314.2 334.4 L1314.4 332.6 L1314.6 332.6 L1314.8 335.4 L1315.1 336.2 L1315.3 340.4 L1315.5 339.6 L1315.7 339.6 L1315.9 343.2 L1316.2 344.9 L1316.4 346.6 L1316.6 347.7 L1316.8 352.1 L1317.0 350.4 L1317.3 353.7 L1317.5 357.4 L1317.7 356.4 L1317.9 358.1 L1318.1 360.7 L1318.4 362.6 L1318.6 363.7 L1318.8 363.6 L1319.0 366.0 L1319.2 357.4 L1319.5 357.8 L1319.7 347.9 L1319.9 343.1 L1320.1 336.9 L1320.3 337.2 L1320.6 332.8 L1320.8 329.1 L1321.0 327.4 L1321.2 326.6 L1321.4 327.9 L1321.7 325.5 L1321.9 325.4 L1322.1 326.1 L1322.3 328.6 L1322.5 327.3 L1322.8 324.3 L1323.0 322.3 L1323.2 318.7 L1323.4 318.5 L1323.6 318.3 L1323.9 317.4 L1324.1 315.6 L1324.3 315.0 L1324.5 312.7 L1324.7 310.0 L1325.0 311.2 L1325.2 308.0 L1325.4 306.0 L1325.6 306.2 L1325.8 302.0 L1326.1 300.9 L1326.3 301.7 L1326.5 299.4 L1326.7 300.0 L1326.9 300.9 L1327.2 301.6 L1327.4 298.4 L1327.6 296.6 L1327.8 293.9 L1328.0 296.5 L1328.3 299.0 L1328.5 299.9 L1328.7 304.4 L1328.9 304.5 L1329.1 308.7 L1329.4 310.7 L1329.6 311.5 L1329.8 309.6 L1330.0 310.3 L1330.2 307.3 L1330.5 308.0 L1330.7 306.4 L1330.9 301.6 L1331.1 301.4 L1331.3 299.2 L1331.6 301.0 L1331.8 305.7 L1332.0 305.9 L1332.2 311.5 L1332.4 307.8 L1332.7 305.2 L1332.9 298.4 L1333.1 297.4 L1333.3 295.2 L1333.5 295.6 L1333.8 293.7 L1334.0 292.1 L1334.2 293.0 L1334.4 294.0 L1334.6 293.7 L1334.9 293.9 L1335.1 293.6 L1335.3 295.4 L1335.5 297.9 L1335.7 297.4 L1336.0 296.8 L1336.2 296.7 L1336.4 294.2 L1336.6 293.9 L1336.8 293.7 L1337.1 295.4 L1337.3 294.9 L1337.5 293.9 L1337.7 297.5 L1337.9 296.7 L1338.2 302.5 L1338.4 304.4 L1338.6 301.6 L1338.8 304.5 L1339.0 303.8 L1339.3 300.9 L1339.5 298.1 L1339.7 290.5 L1339.9 290.1 L1340.1 283.3 L1340.4 281.7 L1340.6 283.7 L1340.8 282.1 L1341.0 281.6 L1341.2 279.3 L1341.5 282.1 L1341.7 280.0 L1341.9 279.8 L1342.1 280.6 L1342.3 279.6 L1342.6 278.6 L1342.8 278.0 L1343.0 281.7 L1343.2 280.0 L1343.4 285.4 L1343.6 285.1 L1343.9 282.5 L1344.1 279.0 L1344.3 278.9 L1344.5 278.0 L1344.7 276.0 L1345.0 275.6 L1345.2 277.2 L1345.4 276.3 L1345.6 276.8 L1345.8 280.1 L1346.1 284.1 L1346.3 288.6 L1346.5 287.3 L1346.7 289.3 L1346.9 288.8 L1347.2 286.8 L1347.4 292.5 L1347.6 296.4 L1347.8 295.7 L1348.0 299.2 L1348.3 300.7 L1348.5 299.2 L1348.7 302.1 L1348.9 300.9 L1349.1 303.1 L1349.4 303.7 L1349.6 302.4 L1349.8 304.4 L1350.0 303.8 L1350.2 309.1 L1350.5 308.6 L1350.7 309.7 L1350.9 306.5 L1351.1 304.3 L1351.3 295.3 L1351.6 293.9 L1351.8 296.7 L1352.0 297.2 L1352.2 300.7 L1352.4 300.9 L1352.7 302.4 L1352.9 302.8 L1353.1 308.6 L1353.3 308.0 L1353.5 303.9 L1353.8 304.2 L1354.0 302.1 L1354.2 297.4 L1354.4 296.0 L1354.6 297.2 L1354.9 295.7 L1355.1 295.6 L1355.3 295.9 L1355.5 297.7 L1355.7 303.3 L1356.0 302.7 L1356.2 303.0 L1356.4 304.5 L1356.6 305.3 L1356.8 306.2 L1357.1 301.9 L1357.3 304.0 L1357.5 302.2 L1357.7 299.2 L1357.9 300.1 L1358.2 297.7 L1358.4 296.8 L1358.6 297.4 L1358.8 297.6 L1359.0 300.1 L1359.3 300.7 L1359.5 300.9 L1359.7 299.6 L1359.9 299.3 L1360.1 296.8 L1360.4 297.4 L1360.6 298.5 L1360.8 296.4 L1361.0 296.1 L1361.2 295.6 L1361.5 298.3 L1361.7 296.8 L1361.9 300.7 L1362.1 300.9 L1362.3 299.4 L1362.6 300.5 L1362.8 296.5 L1363.0 297.4 L1363.2 298.6 L1363.4 303.5 L1363.7 305.2 L1363.9 308.0 L1364.1 307.9 L1364.3 309.1 L1364.5 308.2 L1364.8 309.7 L1365.0 307.6 L1365.2 303.5 L1365.4 306.0 L1365.6 302.7 L1365.9 301.3 L1366.1 303.0 L1366.3 301.5 L1366.5 300.9 L1366.7 302.2 L1367.0 303.2 L1367.2 302.0 L1367.4 304.4 L1367.6 307.1 L1367.8 306.1 L1368.1 310.1 L1368.3 309.7 L1368.5 310.3 L1368.7 309.5 L1368.9 309.6 L1369.2 308.0 L1369.4 308.6 L1369.6 310.4 L1369.8 312.5 L1370.0 311.5 L1370.3 303.6 L1370.5 297.2 L1370.7 293.7 L1370.9 288.6 L1371.1 288.2 L1371.4 286.4 L1371.6 286.2 L1371.8 286.8 L1372.0 287.8 L1372.2 285.5 L1372.5 284.2 L1372.7 285.1 L1372.9 282.2 L1373.1 282.8 L1373.3 279.6 L1373.6 279.8 L1373.8 278.8 L1374.0 278.2 L1374.2 276.9 L1374.4 276.3 L1374.7 278.1 L1374.9 281.6 L1375.1 279.0 L1375.3 283.3 L1375.5 283.4 L1375.8 276.1 L1376.0 272.5 L1376.2 272.8 L1376.4 276.5 L1376.6 277.6 L1376.9 279.6 L1377.1 281.6 L1377.3 279.5 L1377.5 281.0 L1377.7 278.1 L1378.0 278.0 L1378.2 280.5 L1378.4 279.4 L1378.6 282.4 L1378.8 283.3 L1379.1 282.4 L1379.3 279.1 L1379.5 277.9 L1379.7 276.3 L1379.9 273.6 L1380.1 275.1 L1380.4 274.5 L1380.6 272.8 L1380.8 271.9 L1381.0 273.8 L1381.2 275.0 L1381.5 274.5 L1381.7 272.0 L1381.9 274.2 L1382.1 273.5 L1382.3 271.0 L1382.6 269.6 L1382.8 270.2 L1383.0 269.7 L1383.2 271.0 L1383.4 269.6 L1383.7 268.6 L1383.9 269.7 L1384.1 269.3 L1384.3 267.3 L1384.5 266.6 L1384.8 266.5 L1385.0 265.7 L1385.2 266.8 L1385.4 270.8 L1385.6 272.2 L1385.9 272.8 L1386.1 272.2 L1386.3 274.1 L1386.5 274.4 L1386.7 278.0 L1387.0 275.9 L1387.2 273.5 L1387.4 275.0 L1387.6 272.8 L1387.8 273.1 L1388.1 273.1 L1388.3 268.9 L1388.5 269.3 L1388.7 267.1 L1388.9 269.3 L1389.2 267.6 L1389.4 267.5 L1389.6 277.1 L1389.8 279.9 L1390.0 286.0 L1390.3 293.9 L1390.5 291.8 L1390.7 294.7 L1390.9 292.6 L1391.1 292.1 L1391.4 287.3 L1391.6 282.9 L1391.8 280.8 L1392.0 274.5 L1392.2 276.8 L1392.5 276.2 L1392.7 275.8 L1392.9 278.0 L1393.1 279.7 L1393.3 284.7 L1393.6 284.1 L1393.8 286.8 L1394.0 287.0 L1394.2 286.2 L1394.4 285.4 L1394.7 285.1 L1394.9 285.8 L1395.1 285.0 L1395.3 286.6 L1395.5 286.8 L1395.8 289.3 L1396.0 286.8 L1396.2 288.9 L1396.4 290.4 L1396.6 296.5 L1396.9 300.7 L1397.1 297.5 L1397.3 304.4 L1397.5 304.8 L1397.7 304.9 L1398.0 305.5 L1398.2 304.4 L1398.4 301.6 L1398.6 296.8 L1398.8 295.2 L1399.1 293.9 L1399.3 295.1 L1399.5 295.6 L1399.7 294.1 L1399.9 295.6 L1400.2 295.0 L1400.4 293.7 L1400.6 292.4 L1400.8 290.4 L1401.0 286.1 L1401.3 286.5 L1401.5 284.2 L1401.7 283.3 L1401.9 281.3 L1402.1 277.0 L1402.4 273.0 L1402.6 272.8 L1402.8 272.6 L1403.0 270.1 L1403.2 271.4 L1403.5 269.3 L1403.7 268.1 L1403.9 268.5 L1404.1 269.1 L1404.3 267.5 L1404.6 267.0 L1404.8 271.2 L1405.0 269.4 L1405.2 272.8 L1405.4 276.2 L1405.7 273.1 L1405.9 277.8 L1406.1 278.0 L1406.3 276.6 L1406.5 274.9 L1406.8 275.0 L1407.0 274.5 L1407.2 275.4 L1407.4 275.9 L1407.6 275.6 L1407.9 278.0 L1408.1 278.6 L1408.3 278.2 L1408.5 281.1 L1408.7 279.8 L1409.0 277.4 L1409.2 275.9 L1409.4 273.1 L1409.6 272.8 L1409.8 272.9 L1410.1 265.4 L1410.3 264.5 L1410.5 260.5 L1410.7 261.3 L1410.9 259.2 L1411.2 260.1 L1411.4 258.7 L1411.6 256.9 L1411.8 255.3 L1412.0 254.1 L1412.3 255.2 L1412.5 254.1 L1412.7 255.0 L1412.9 251.3 L1413.1 251.7 L1413.4 252.3 L1413.6 254.5 L1413.8 253.3 L1414.0 255.2 L1414.2 254.6 L1414.5 257.0 L1414.7 257.5 L1414.9 258.7 L1415.1 259.3 L1415.3 257.3 L1415.5 252.0 L1415.8 251.7 L1416.0 251.4 L1416.2 250.5 L1416.4 248.6 L1416.6 249.9 L1416.9 250.1 L1417.1 252.3 L1417.3 250.5 L1417.5 251.7 L1417.7 252.4 L1418.0 253.3 L1418.2 251.4 L1418.4 253.4 L1418.6 253.7 L1418.8 246.7 L1419.1 245.7 L1419.3 244.6 L1419.5 245.9 L1419.7 243.7 L1419.9 245.5 L1420.2 246.4 L1420.4 245.4 L1420.6 247.2 L1420.8 245.9 L1421.0 248.1 L1421.3 248.1 L1421.5 250.2 L1421.7 251.2 L1421.9 255.2 L1422.1 252.6 L1422.4 252.1 L1422.6 252.6 L1422.8 251.7 L1423.0 252.6 L1423.2 260.9 L1423.5 261.6 L1423.7 265.7 L1423.9 263.8 L1424.1 262.9 L1424.3 264.5 L1424.6 262.2 L1424.8 261.0 L1425.0 264.0 L1425.2 262.0 L1425.4 264.0 L1425.7 265.0 L1425.9 261.8 L1426.1 261.8 L1426.3 260.5 L1426.5 266.0 L1426.8 263.9 L1427.0 266.7 L1427.2 272.8 L1427.4 279.4 L1427.6 283.9 L1427.9 290.1 L1428.1 293.9 L1428.3 292.1 L1428.5 292.1 L1428.7 289.9 L1429.0 290.4 L1429.2 295.2 L1429.4 299.4 L1429.6 306.8 L1429.8 311.5 L1430.1 306.5 L1430.3 302.9 L1430.5 301.9 L1430.7 297.4 L1430.9 292.8 L1431.2 294.8 L1431.4 290.8 L1431.6 288.6 L1431.8 286.6 L1432.0 285.2 L1432.3 286.0 L1432.5 285.1 L1432.7 290.8 L1432.9 298.1 L1433.1 301.4 L1433.4 308.0 L1433.6 305.7 L1433.8 306.5 L1434.0 301.5 L1434.2 300.9 L1434.5 306.6 L1434.7 308.7 L1434.9 312.0 L1435.1 311.5 L1435.3 311.9 L1435.6 305.7 L1435.8 306.7 L1436.0 302.7 L1436.2 307.4 L1436.4 308.5 L1436.7 318.0 L1436.9 318.5 L1437.1 320.0 L1437.3 321.6 L1437.5 321.4 L1437.8 322.0 L1438.0 321.3 L1438.2 326.4 L1438.4 324.4 L1438.6 327.3 L1438.9 321.7 L1439.1 320.2 L1439.3 313.3 L1439.5 311.5 L1439.7 315.6 L1440.0 321.8 L1440.2 321.8 L1440.4 329.1 L1440.6 325.8 L1440.8 317.5 L1441.1 315.7 L1441.3 311.5 L1441.5 310.5 L1441.7 308.9 L1441.9 303.8 L1442.2 304.4 L1442.4 301.0 L1442.6 303.4 L1442.8 298.6 L1443.0 297.4 L1443.3 296.2 L1443.5 295.1 L1443.7 295.6 L1443.9 293.9 L1444.1 293.7 L1444.4 292.0 L1444.6 289.5 L1444.8 288.6 L1445.0 289.3 L1445.2 289.5 L1445.5 288.8 L1445.7 290.4 L1445.9 288.2 L1446.1 283.1 L1446.3 276.5 L1446.6 269.3 L1446.8 272.2 L1447.0 270.9 L1447.2 273.3 L1447.4 272.8 L1447.7 270.8 L1447.9 272.0 L1448.1 271.0 L1448.3 269.3 L1448.5 270.2 L1448.8 268.9 L1449.0 268.2 L1449.2 265.7 L1449.4 263.9 L1449.6 265.2 L1449.9 263.0 L1450.1 262.2 L1450.3 259.5 L1450.5 258.0 L1450.7 258.5 L1450.9 255.2 L1451.2 260.6 L1451.4 263.7 L1451.6 265.6 L1451.8 267.5 L1452.0 265.2 L1452.3 264.3 L1452.5 265.1 L1452.7 264.0 L1452.9 263.9 L1453.1 265.8 L1453.4 266.0 L1453.6 269.3 L1453.8 265.7 L1454.0 266.9 L1454.2 262.5 L1454.5 262.2 L1454.7 262.3 L1454.9 257.8 L1455.1 258.8 L1455.3 255.2 L1455.6 255.9 L1455.8 257.5 L1456.0 259.9 L1456.2 262.2 L1456.4 257.9 L1456.7 258.4 L1456.9 256.3 L1457.1 255.2 L1457.3 252.9 L1457.5 255.6 L1457.8 253.4 L1458.0 253.4 L1458.2 249.0 L1458.4 252.3 L1458.6 246.7 L1458.9 246.4 L1459.1 246.5 L1459.3 246.7 L1459.5 248.4 L1459.7 251.7 L1460.0 254.5 L1460.2 255.6 L1460.4 257.0 L1460.6 258.7 L1460.8 256.2 L1461.1 255.0 L1461.3 257.0 L1461.5 253.4 L1461.7 249.5 L1461.9 250.6 L1462.2 246.9 L1462.4 241.1 L1462.6 236.7 L1462.8 238.7 L1463.0 231.7 L1463.3 232.3 L1463.5 237.3 L1463.7 241.5 L1463.9 244.2 L1464.1 246.4 L1464.4 247.5 L1464.6 249.5 L1464.8 247.6 L1465.0 249.9 L1465.2 247.1 L1465.5 242.1 L1465.7 240.0 L1465.9 237.6 L1466.1 233.0 L1466.3 233.6 L1466.6 230.1 L1466.8 227.0 L1467.0 227.3 L1467.2 225.8 L1467.4 224.8 L1467.7 223.5 L1467.7 223.8 L1467.8 221.1 L1467.9 217.5 L1468.0 215.0 L1468.2 213.4 L1468.3 215.1 L1468.5 212.0 L1468.7 211.7 L1468.8 211.3 L1469.0 214.1 L1469.2 217.7 L1469.3 218.3 L1469.5 218.7 L1469.7 215.0 L1469.8 213.0 L1470.0 210.0 L1470.2 215.2 L1470.4 216.7 L1470.6 217.2 L1470.8 220.0 L1471.0 218.6 L1471.2 218.7 L1471.5 215.4 L1471.7 215.0 L1471.9 211.9 L1472.1 213.1 L1472.3 212.7 L1472.5 210.0 L1472.7 207.6 L1472.9 208.4 L1473.1 208.1 L1473.3 205.0 L1473.5 205.0 L1473.6 207.1 L1473.7 211.2 L1473.8 213.3 L1474.0 214.8 L1474.1 221.1 L1474.2 223.9 L1474.3 223.3 L1474.5 225.5 L1474.7 230.2 L1474.8 231.6 L1475.0 233.3 L1475.2 232.8 L1475.4 237.0 L1475.6 234.5 L1475.8 236.7 L1476.0 235.9 L1476.2 238.9 L1476.5 238.2 L1476.7 241.7 L1476.9 238.6 L1477.1 235.2 L1477.3 236.0 L1477.5 230.0 L1477.7 228.8 L1477.9 229.8 L1478.1 228.7 L1478.3 226.7 L1478.5 226.2 L1478.8 223.9 L1479.0 223.3 L1479.2 223.3 L1479.4 222.0 L1479.6 220.3 L1479.8 220.3 L1480.0 218.3 L1480.2 216.3 L1480.4 213.2 L1480.6 212.7 L1480.8 210.0 L1481.0 211.4 L1481.2 208.1 L1481.5 208.1 L1481.7 208.3 L1481.9 207.5 L1482.1 209.6 L1482.3 211.0 L1482.5 215.0 L1482.7 213.4 L1482.9 214.1 L1483.1 212.2 L1483.3 210.0 L1483.5 218.7 L1483.8 223.2 L1484.0 226.9 L1484.2 231.7 L1484.4 228.9 L1484.6 221.6 L1484.8 220.9 L1485.0 218.3 L1485.2 214.9 L1485.4 214.9 L1485.6 209.6 L1485.8 210.0 L1486.0 211.9 L1486.2 212.7 L1486.5 215.0 L1486.7 216.7 L1486.9 215.9 L1487.1 214.4 L1487.3 216.3 L1487.5 215.0 L1487.7 215.2 L1487.9 213.0 L1488.1 209.4 L1488.3 210.0 L1488.5 211.7 L1488.8 214.2 L1489.0 216.0 L1489.2 215.0 L1489.4 214.1 L1489.6 207.2 L1489.8 209.8 L1490.0 205.0 L1490.2 206.0 L1490.4 205.0 L1490.6 207.8 L1490.8 206.7 L1491.0 206.9 L1491.2 206.0 L1491.5 201.7 L1491.7 201.7 L1491.9 202.4 L1492.1 202.1 L1492.3 202.2 L1492.5 203.3 L1492.7 210.2 L1492.9 214.1 L1493.1 217.2 L1493.3 223.3 L1493.5 219.5 L1493.8 218.0 L1494.0 211.3 L1494.2 206.7 L1494.4 207.8 L1494.6 206.1 L1494.8 207.2 L1495.0 205.0 L1495.2 204.4 L1495.4 208.9 L1495.6 211.5 L1495.8 213.3 L1496.0 215.1 L1496.2 217.0 L1496.5 216.4 L1496.7 216.7 L1496.9 215.3 L1497.1 214.8 L1497.3 213.1 L1497.5 211.7 L1497.7 209.8 L1497.9 208.1 L1498.1 198.3 L1498.3 198.3 L1498.5 195.2 L1498.8 196.3 L1499.0 189.6 L1499.2 190.0 L1499.4 189.6 L1499.6 183.2 L1499.8 184.6 L1500.0 181.7 L1500.2 182.4 L1500.4 179.9 L1500.6 180.0 L1500.8 180.0 L1501.0 180.5 L1501.2 185.3 L1501.5 186.4 L1501.7 188.3 L1501.9 187.6 L1502.1 185.0 L1502.3 185.0 L1502.5 183.3 L1502.7 189.3 L1502.9 191.0 L1503.1 195.1 L1503.3 195.0 L1503.5 190.9 L1503.8 190.1 L1504.0 186.8 L1504.2 185.0 L1504.4 183.0 L1504.6 183.9 L1504.8 179.7 L1505.0 180.0 L1505.2 179.8 L1505.4 180.2 L1505.6 180.4 L1505.8 178.3 L1506.0 177.0 L1506.2 178.3 L1506.5 179.6 L1506.7 180.0 L1506.8 198.1 L1506.9 207.6 L1507.0 227.4 L1507.2 240.0 L1507.4 240.4 L1507.6 241.9 L1507.8 244.3 L1508.0 243.3 L1508.1 252.8 L1508.2 267.1 L1508.2 278.4 L1508.3 293.3 L1508.5 298.0 L1508.8 306.4 L1509.0 316.4 L1509.2 322.2 L1509.3 324.0 L1509.4 323.2 L1509.5 327.9 L1509.6 327.8 L1509.7 336.5 L1509.8 342.6 L1509.9 356.1 L1510.0 362.5 L1510.1 376.9 L1510.3 384.8 L1510.4 402.0 L1510.6 411.1 L1510.7 420.9 L1510.8 424.5 L1510.9 430.5 L1511.0 441.7 L1511.1 433.1 L1511.2 421.7 L1511.3 405.5 L1511.4 397.2 L1511.5 394.9 L1511.5 390.8 L1511.6 385.7 L1511.7 380.6 L1511.8 376.6 L1511.9 371.4 L1512.0 360.6 L1512.1 355.6 L1512.2 355.0 L1512.3 352.8 L1512.4 346.0 L1512.5 344.4 L1512.6 354.1 L1512.8 362.4 L1512.9 371.9 L1513.1 377.8 L1513.2 369.2 L1513.3 358.2 L1513.5 349.0 L1513.6 341.7 L1513.7 340.5 L1513.8 337.1 L1513.9 339.2 L1514.0 336.1 L1514.1 340.9 L1514.2 339.4 L1514.3 344.6 L1514.4 345.8 L1514.6 352.3 L1514.8 353.6 L1515.0 363.4 L1515.1 366.7 L1515.3 368.0 L1515.5 366.7 L1515.7 366.3 L1515.8 368.1 L1516.0 358.9 L1516.2 354.7 L1516.4 344.9 L1516.5 337.5 L1516.7 346.7 L1516.9 349.0 L1517.0 355.6 L1517.2 365.3 L1517.4 359.7 L1517.6 358.9 L1517.7 349.4 L1517.9 347.2 L1518.1 348.1 L1518.3 356.6 L1518.4 355.8 L1518.6 362.5 L1518.8 359.9 L1519.0 351.9 L1519.1 349.3 L1519.3 347.2 L1519.5 347.2 L1519.7 347.3 L1519.8 344.8 L1520.0 344.4 L1520.1 337.1 L1520.2 327.3 L1520.3 322.5 L1520.4 316.7 L1520.6 314.9 L1520.7 316.4 L1520.8 315.4 L1521.0 313.9 L1521.1 316.2 L1521.3 316.1 L1521.5 317.9 L1521.7 318.1 L1521.8 317.1 L1522.0 318.3 L1522.2 318.3 L1522.4 319.4 L1522.5 316.6 L1522.7 317.2 L1522.9 312.7 L1523.1 312.5 L1523.3 311.5 L1523.5 311.0 L1523.7 312.8 L1523.9 311.1 L1524.1 310.4 L1524.2 308.2 L1524.4 306.4 L1524.6 305.6 L1524.7 307.3 L1524.8 307.7 L1524.9 306.2 L1525.0 306.7 L1525.2 303.0 L1525.4 300.9 L1525.6 292.5 L1525.8 290.0 L1526.0 288.2 L1526.2 286.7 L1526.5 287.5 L1526.7 286.7 L1526.9 290.8 L1527.1 289.5 L1527.3 293.7 L1527.5 296.7 L1527.7 295.9 L1527.9 288.2 L1528.1 283.3 L1528.3 280.0 L1528.5 280.6 L1528.8 280.0 L1529.0 277.0 L1529.2 276.7 L1529.4 278.2 L1529.6 286.0 L1529.8 290.8 L1530.0 293.3 L1530.2 295.9 L1530.4 295.7 L1530.6 295.0 L1530.8 296.7 L1531.0 293.4 L1531.2 288.5 L1531.5 286.3 L1531.7 283.3 L1531.9 281.5 L1532.1 282.1 L1532.3 280.4 L1532.5 276.7 L1532.7 279.3 L1532.9 278.2 L1533.1 281.1 L1533.3 280.0 L1533.5 279.8 L1533.8 285.5 L1534.0 285.7 L1534.2 286.7 L1534.4 287.4 L1534.6 284.6 L1534.8 286.2 L1535.0 283.3 L1535.2 282.9 L1535.4 290.5 L1535.6 292.8 L1535.8 293.3 L1536.0 293.6 L1536.2 296.4 L1536.5 294.6 L1536.7 296.7 L1536.9 300.7 L1537.1 301.5 L1537.3 303.6 L1537.5 306.7 L1537.7 306.2 L1537.9 309.6 L1538.1 310.1 L1538.3 310.0 L1538.5 308.7 L1538.8 311.5 L1539.0 309.1 L1539.2 310.0 L1539.4 311.4 L1539.6 313.7 L1539.8 316.7 L1540.0 318.3 L1540.2 318.9 L1540.4 317.9 L1540.6 315.2 L1540.8 313.3 L1541.0 306.6 L1541.2 298.9 L1541.5 292.8 L1541.7 290.0 L1541.9 286.8 L1542.1 283.9 L1542.3 279.6 L1542.5 276.7 L1542.7 280.8 L1542.9 279.6 L1543.1 280.9 L1543.3 283.3 L1543.5 282.6 L1543.8 281.3 L1544.0 283.7 L1544.2 281.7 L1544.4 285.2 L1544.6 287.8 L1544.8 289.9 L1545.0 293.3 L1545.2 294.3 L1545.4 297.2 L1545.6 300.8 L1545.8 303.3 L1546.0 295.5 L1546.2 291.7 L1546.5 281.3 L1546.7 273.3 L1546.9 265.9 L1547.1 259.4 L1547.3 254.7 L1547.5 251.7 L1547.7 245.6 L1547.9 243.6 L1548.1 239.4 L1548.3 231.7 L1548.5 230.3 L1548.8 231.9 L1549.0 230.2 L1549.2 230.0 L1549.4 233.6 L1549.6 236.9 L1549.8 236.8 L1550.0 243.3 L1550.2 236.1 L1550.4 236.2 L1550.6 232.2 L1550.8 226.7 L1551.0 225.8 L1551.2 227.4 L1551.5 226.6 L1551.7 225.0 L1551.9 226.6 L1552.1 227.9 L1552.3 234.1 L1552.5 236.7 L1552.7 234.4 L1552.9 228.1 L1553.1 223.5 L1553.3 223.3 L1553.5 227.0 L1553.8 227.6 L1554.0 236.2 L1554.2 238.3 L1554.4 237.3 L1554.6 233.9 L1554.8 233.1 L1555.0 231.7 L1555.2 228.1 L1555.4 225.7 L1555.6 223.6 L1555.8 223.3 L1556.0 223.6 L1556.2 220.6 L1556.5 220.6 L1556.7 218.3 L1556.9 217.4 L1557.1 218.6 L1557.3 217.4 L1557.5 216.7 L1557.7 222.3 L1557.9 225.1 L1558.1 230.8 L1558.3 235.0 L1558.5 227.8 L1558.8 228.3 L1559.0 221.2 L1559.2 215.0 L1559.4 215.5 L1559.6 216.3 L1559.8 214.8 L1560.0 216.7 L1560.2 214.6 L1560.4 212.9 L1560.6 214.5 L1560.8 211.7 L1561.0 209.4 L1561.2 210.6 L1561.5 211.8 L1561.7 210.0 L1561.9 214.3 L1562.1 216.4 L1562.3 216.3 L1562.5 220.0 L1562.7 218.0 L1562.9 219.2 L1563.1 216.7 L1563.3 216.7 L1563.5 220.5 L1563.8 220.7 L1564.0 225.8 L1564.2 226.7 L1564.4 223.8 L1564.6 222.2 L1564.8 220.1 L1565.0 213.3 L1565.2 216.7 L1565.4 225.1 L1565.6 222.4 L1565.8 230.0 L1566.0 229.8 L1566.2 222.1 L1566.5 222.8 L1566.7 220.0 L1566.9 221.1 L1567.1 224.7 L1567.3 224.0 L1567.5 226.7 L1567.7 222.4 L1567.9 223.4 L1568.1 219.5 L1568.3 216.7 L1568.5 215.8 L1568.8 211.6 L1569.0 206.3 L1569.2 206.7 L1569.4 207.0 L1569.6 203.8 L1569.8 204.0 L1570.0 203.3 L1570.2 200.4 L1570.4 200.7 L1570.6 201.5 L1570.8 200.0 L1571.0 200.3 L1571.2 198.9 L1571.5 197.3 L1571.7 196.7 L1571.9 197.9 L1572.1 198.1 L1572.3 196.8 L1572.5 198.3 L1572.7 197.2 L1572.9 196.3 L1573.1 195.7 L1573.3 193.3 L1573.5 190.1 L1573.8 189.0 L1574.0 187.5 L1574.2 186.7 L1574.2 186.8 L1574.3 191.2 L1574.4 196.5 L1574.4 197.8 L1574.6 196.3 L1574.7 192.1 L1574.9 193.2 L1575.0 190.0 L1575.1 186.7 L1575.3 188.4 L1575.4 184.1 L1575.6 184.4 L1575.7 184.3 L1575.8 187.4 L1576.0 191.2 L1576.1 193.3 L1576.2 194.6 L1576.4 201.4 L1576.5 204.5 L1576.7 204.4 L1576.8 201.7 L1576.9 202.4 L1577.1 200.5 L1577.2 197.8 L1577.4 194.9 L1577.5 189.4 L1577.6 190.9 L1577.8 184.4 L1577.9 184.9 L1578.1 177.1 L1578.2 176.8 L1578.3 175.6 L1578.5 174.3 L1578.6 173.3 L1578.8 173.6 L1578.9 173.3 L1579.0 176.2 L1579.2 173.4 L1579.3 178.2 L1579.4 177.8 L1579.6 174.4 L1579.7 170.5 L1579.9 173.5 L1580.0 168.9 L1580.1 168.6 L1580.3 168.9 L1580.4 169.1 L1580.6 171.1 L1580.7 169.4 L1580.8 167.2 L1581.0 166.3 L1581.1 166.7 L1581.2 166.6 L1581.4 169.2 L1581.5 169.8 L1581.7 171.1 L1581.8 172.2 L1581.9 175.7 L1582.1 179.4 L1582.2 180.0 L1582.4 179.9 L1582.5 177.1 L1582.6 178.6 L1582.8 175.6 L1582.9 177.6 L1583.1 177.5 L1583.2 178.0 L1583.3 178.9 L1583.5 177.7 L1583.6 176.4 L1583.8 178.7 L1583.9 176.7 L1584.0 178.6 L1584.2 177.5 L1584.3 182.9 L1584.4 182.2 L1584.6 182.3 L1584.7 175.0 L1584.9 176.7 L1585.0 173.3 L1585.1 173.8 L1585.3 177.4 L1585.4 181.0 L1585.6 181.1 L1585.7 178.0 L1585.8 176.7 L1586.0 175.4 L1586.1 172.2 L1586.2 170.1 L1586.4 171.1 L1586.5 169.4 L1586.7 168.9 L1586.8 170.0 L1586.9 165.3 L1587.1 166.5 L1587.2 164.4 L1587.4 162.5 L1587.5 163.1 L1587.6 162.3 L1587.8 163.3 L1587.9 159.8 L1588.1 160.1 L1588.2 156.6 L1588.3 156.7 L1588.5 159.5 L1588.6 157.5 L1588.8 161.4 L1588.9 162.2 L1589.0 162.6 L1589.2 157.6 L1589.3 156.7 L1589.4 156.7 L1589.6 157.3 L1589.7 156.0 L1589.9 157.4 L1590.0 155.6 L1590.1 154.7 L1590.3 154.6 L1590.4 156.3 L1590.6 154.4 L1590.7 156.7 L1590.8 164.4 L1591.0 167.2 L1591.1 167.8 L1591.2 165.3 L1591.4 165.8 L1591.5 166.4 L1591.7 163.3 L1591.8 162.3 L1591.9 165.1 L1592.1 165.1 L1592.2 164.4 L1592.4 166.0 L1592.5 165.9 L1592.6 164.6 L1592.8 166.7 L1592.9 172.0 L1593.1 169.2 L1593.2 175.9 L1593.3 176.7 L1593.5 175.8 L1593.6 171.2 L1593.8 171.1 L1593.9 167.8 L1594.0 168.7 L1594.2 171.8 L1594.3 169.7 L1594.4 173.3 L1594.6 177.3 L1594.7 176.1 L1594.9 179.9 L1595.0 180.0 L1595.1 179.3 L1595.3 180.1 L1595.4 177.6 L1595.6 177.8 L1595.7 180.9 L1595.8 180.2 L1596.0 186.0 L1596.1 188.9 L1596.2 188.2 L1596.4 193.4 L1596.5 193.9 L1596.7 194.4 L1596.8 190.9 L1596.9 191.6 L1597.1 188.3 L1597.2 182.2 L1597.4 186.3 L1597.5 183.4 L1597.6 188.3 L1597.8 188.9 L1597.9 188.0 L1598.1 185.1 L1598.2 179.4 L1598.3 180.0 L1598.5 183.0 L1598.6 181.9 L1598.8 183.8 L1598.9 184.4 L1599.0 184.6 L1599.2 180.6 L1599.3 178.0 L1599.4 178.9 L1599.6 179.8 L1599.7 176.3 L1599.9 174.5 L1600.0 175.6 L1600.1 173.2 L1600.3 176.0 L1600.4 174.1 L1600.6 172.2 L1600.7 172.7 L1600.8 174.6 L1601.0 181.2 L1601.1 181.1 L1601.2 179.9 L1601.4 177.2 L1601.5 172.3 L1601.7 172.2 L1601.8 171.6 L1601.9 173.2 L1602.1 169.6 L1602.2 171.1 L1602.4 172.4 L1602.5 172.1 L1602.6 178.7 L1602.8 177.8 L1602.9 174.9 L1603.1 177.6 L1603.2 176.0 L1603.3 173.3 L1603.5 175.8 L1603.6 173.9 L1603.8 178.5 L1603.9 178.9 L1604.0 178.0 L1604.2 177.2 L1604.3 174.9 L1604.4 175.6 L1604.6 177.3 L1604.7 180.5 L1604.9 178.6 L1605.0 182.2 L1605.1 182.8 L1605.3 179.6 L1605.4 177.8 L1605.6 177.8 L1605.7 177.9 L1605.8 180.4 L1606.0 182.7 L1606.1 183.3 L1606.2 185.7 L1606.4 189.4 L1606.5 189.2 L1606.7 191.1 L1606.8 188.1 L1606.9 188.4 L1607.1 180.0 L1607.2 178.9 L1607.4 176.5 L1607.5 177.1 L1607.6 176.5 L1607.8 176.7 L1607.9 176.1 L1608.1 178.5 L1608.2 177.9 L1608.3 181.1 L1608.5 181.9 L1608.6 178.8 L1608.8 179.5 L1608.9 176.7 L1609.0 180.4 L1609.2 183.1 L1609.3 185.8 L1609.4 186.7 L1609.6 185.0 L1609.7 186.0 L1609.9 182.9 L1610.0 183.3 L1610.1 179.6 L1610.3 175.7 L1610.4 172.8 L1610.6 166.7 L1610.7 165.2 L1610.8 165.6 L1611.0 167.0 L1611.1 165.6 L1611.2 166.5 L1611.4 167.1 L1611.5 164.3 L1611.7 165.6 L1611.8 165.2 L1611.9 165.6 L1612.1 169.0 L1612.2 168.9 L1612.4 171.1 L1612.5 171.8 L1612.6 173.5 L1612.8 173.3 L1612.9 173.4 L1613.1 173.5 L1613.2 174.7 L1613.3 173.3 L1613.5 176.4 L1613.6 178.7 L1613.8 180.5 L1613.9 182.2 L1614.0 186.1 L1614.2 191.8 L1614.3 194.4 L1614.4 197.8 L1614.6 195.0 L1614.7 195.2 L1614.9 194.1 L1615.0 193.3 L1615.1 196.2 L1615.3 200.4 L1615.4 202.4 L1615.6 206.7 L1615.6 209.5 L1615.7 213.4 L1615.8 216.6 L1615.9 221.1 L1616.0 220.8 L1616.1 211.0 L1616.1 206.9 L1616.2 206.7 L1616.3 204.9 L1616.4 199.3 L1616.6 196.3 L1616.7 193.3 L1616.8 192.6 L1616.9 190.5 L1617.1 188.8 L1617.2 188.9 L1617.4 184.7 L1617.5 187.5 L1617.6 186.2 L1617.8 182.2 L1617.9 181.9 L1618.1 183.2 L1618.2 183.2 L1618.3 184.4 L1618.5 183.6 L1618.6 188.4 L1618.8 189.3 L1618.9 188.9 L1619.0 185.9 L1619.2 184.3 L1619.3 184.9 L1619.4 182.2 L1619.6 187.6 L1619.7 188.7 L1619.9 191.4 L1620.0 195.6 L1620.1 196.6 L1620.3 203.1 L1620.4 206.3 L1620.6 206.7 L1620.7 207.5 L1620.8 204.1 L1621.0 205.4 L1621.1 204.4 L1621.2 204.2 L1621.4 198.7 L1621.5 193.3 L1621.7 190.0 L1621.8 190.6 L1621.9 193.1 L1622.1 200.8 L1622.2 202.2 L1622.4 198.3 L1622.5 200.5 L1622.6 198.1 L1622.8 195.6 L1622.9 196.3 L1623.1 198.9 L1623.2 199.9 L1623.3 198.9 L1623.5 198.1 L1623.6 194.2 L1623.8 195.2 L1623.9 193.3 L1624.0 190.0 L1624.2 186.1 L1624.3 187.8 L1624.4 182.2 L1624.5 179.7 L1624.6 171.2 L1624.7 167.8 L1624.8 165.6 L1624.9 164.4 L1625.0 164.7 L1625.1 163.2 L1625.2 163.3 L1625.4 163.4 L1625.5 165.0 L1625.6 163.0 L1625.8 164.4 L1625.9 165.9 L1626.1 164.9 L1626.2 167.8 L1626.3 166.7 L1626.5 167.6 L1626.6 163.7 L1626.8 163.8 L1626.9 162.2 L1627.0 159.3 L1627.2 159.6 L1627.3 159.4 L1627.4 157.8 L1627.6 159.5 L1627.7 159.3 L1627.9 159.0 L1628.0 162.2 L1628.1 158.6 L1628.3 159.2 L1628.4 155.5 L1628.6 155.6 L1628.7 154.6 L1628.8 155.4 L1629.0 156.1 L1629.1 154.4 L1629.2 155.6 L1629.4 155.6 L1629.5 158.2 L1629.7 158.9 L1629.8 160.4 L1629.8 166.9 L1629.9 165.7 L1630.0 171.1 L1630.1 171.1 L1630.3 173.1 L1630.4 176.3 L1630.6 175.6 L1630.7 177.1 L1630.8 181.2 L1631.0 184.6 L1631.1 191.1 L1631.2 189.8 L1631.4 190.0 L1631.5 189.9 L1631.7 190.0 L1631.8 194.8 L1631.9 195.5 L1632.1 199.0 L1632.2 202.2 L1632.4 199.4 L1632.5 199.4 L1632.6 197.9 L1632.8 193.3 L1632.9 192.8 L1633.1 194.3 L1633.2 191.6 L1633.3 192.2 L1633.5 192.9 L1633.6 188.5 L1633.8 187.4 L1633.9 184.4 L1634.0 185.5 L1634.2 186.6 L1634.3 187.5 L1634.4 191.1 L1634.6 191.1 L1634.7 185.8 L1634.9 185.6 L1635.0 182.2 L1635.1 180.4 L1635.3 179.0 L1635.4 175.7 L1635.6 175.6 L1635.7 175.9 L1635.8 179.0 L1636.0 183.3 L1636.1 184.4 L1636.2 195.9 L1636.4 203.2 L1636.5 219.3 L1636.7 228.9 L1636.8 225.7 L1636.9 220.5 L1637.1 219.0 L1637.2 217.8 L1637.4 218.3 L1637.5 224.1 L1637.6 224.7 L1637.8 226.7 L1637.9 229.9 L1638.1 233.8 L1638.2 238.5 L1638.3 244.4 L1638.5 240.2 L1638.6 237.9 L1638.8 238.0 L1638.9 233.3 L1639.0 233.9 L1639.2 233.0 L1639.3 233.2 L1639.4 231.1 L1639.6 228.6 L1639.7 221.2 L1639.9 217.1 L1640.0 216.7 L1640.1 217.4 L1640.3 221.1 L1640.4 226.0 L1640.6 228.9 L1640.7 229.2 L1640.8 227.1 L1641.0 225.2 L1641.1 224.4 L1641.2 224.8 L1641.4 230.3 L1641.5 230.8 L1641.7 231.1 L1641.8 230.6 L1641.9 229.7 L1642.1 232.7 L1642.2 231.1 L1642.4 226.1 L1642.5 226.9 L1642.6 218.4 L1642.8 217.8 L1642.9 218.0 L1643.1 216.7 L1643.2 218.3 L1643.3 216.7 L1643.5 211.4 L1643.6 206.1 L1643.8 202.9 L1643.9 201.1 L1644.0 201.9 L1644.2 202.2 L1644.3 200.8 L1644.4 200.0 L1644.6 201.9 L1644.7 201.2 L1644.9 202.3 L1645.0 204.4 L1645.1 200.6 L1645.3 203.6 L1645.4 197.1 L1645.6 197.8 L1645.7 197.4 L1645.8 195.5 L1646.0 194.0 L1646.1 194.4 L1646.2 195.0 L1646.4 197.9 L1646.5 195.9 L1646.7 197.8 L1646.8 194.4 L1646.9 195.1 L1647.1 193.6 L1647.2 191.1 L1647.4 191.4 L1647.5 190.5 L1647.6 193.3 L1647.8 192.2 L1647.9 191.1 L1648.1 191.6 L1648.2 192.1 L1648.3 193.3 L1648.5 195.1 L1648.6 196.5 L1648.8 198.6 L1648.9 200.0 L1649.0 200.3 L1649.2 200.4 L1649.3 198.2 L1649.4 197.8 L1649.6 201.8 L1649.7 214.5 L1649.9 216.1 L1650.0 226.7 L1650.1 224.1 L1650.3 221.5 L1650.4 222.2 L1650.6 220.0 L1650.7 218.6 L1650.8 210.7 L1651.0 208.6 L1651.1 206.7 L1651.2 207.5 L1651.4 206.3 L1651.5 203.5 L1651.7 204.4 L1651.8 205.7 L1651.9 206.7 L1652.1 205.8 L1652.2 206.7 L1652.4 209.3 L1652.5 217.8 L1652.6 220.4 L1652.8 226.7 L1652.9 229.1 L1653.1 234.3 L1653.2 241.0 L1653.3 246.7 L1653.5 242.3 L1653.6 241.5 L1653.8 240.3 L1653.9 237.8 L1654.0 237.9 L1654.2 237.5 L1654.3 238.7 L1654.4 237.8 L1654.6 237.6 L1654.7 241.2 L1654.9 247.0 L1655.0 246.7 L1655.1 245.3 L1655.3 241.8 L1655.4 236.9 L1655.6 231.1 L1655.7 228.6 L1655.8 227.4 L1656.0 223.3 L1656.1 220.0 L1656.2 218.0 L1656.4 217.9 L1656.5 216.8 L1656.7 217.8 L1656.8 223.7 L1656.9 223.2 L1657.1 227.1 L1657.2 231.1 L1657.4 229.6 L1657.5 225.7 L1657.6 227.2 L1657.8 224.4 L1657.9 226.1 L1658.1 226.7 L1658.2 227.6 L1658.3 226.7 L1658.5 223.4 L1658.6 220.1 L1658.8 221.5 L1658.9 217.8 L1659.0 217.8 L1659.2 215.6 L1659.3 214.6 L1659.4 214.4 L1659.6 209.0 L1659.7 210.6 L1659.9 205.0 L1660.0 202.2 L1660.1 201.1 L1660.3 194.4 L1660.4 191.0 L1660.6 188.9 L1660.7 188.4 L1660.8 188.7 L1661.0 188.7 L1661.1 186.7 L1661.2 183.9 L1661.4 183.8 L1661.5 180.3 L1661.7 178.9 L1661.8 182.0 L1661.9 182.9 L1662.1 183.3 L1662.2 184.4 L1662.4 182.1 L1662.5 179.9 L1662.6 181.4 L1662.8 177.8 L1662.9 177.7 L1663.1 173.4 L1663.2 170.6 L1663.3 171.1 L1663.5 169.8 L1663.6 172.2 L1663.8 168.6 L1663.9 170.0 L1664.0 173.3 L1664.2 173.5 L1664.3 175.3 L1664.4 176.7 L1664.6 177.7 L1664.7 178.0 L1664.9 179.4 L1665.0 180.0 L1665.1 179.3 L1665.3 184.1 L1665.4 181.5 L1665.6 184.4 L1665.7 183.9 L1665.8 187.4 L1666.0 188.4 L1666.1 188.9 L1666.2 190.6 L1666.4 190.7 L1666.5 192.2 L1666.7 191.1 L1666.8 190.4 L1666.9 191.9 L1667.1 194.7 L1667.2 197.8 L1667.4 198.3 L1667.5 195.3 L1667.6 196.2 L1667.8 195.6 L1667.9 198.6 L1668.1 197.1 L1668.2 200.7 L1668.3 202.2 L1668.5 202.1 L1668.6 198.3 L1668.8 193.2 L1668.9 191.1 L1669.0 191.6 L1669.2 191.4 L1669.3 194.6 L1669.4 193.3 L1669.6 192.4 L1669.7 189.0 L1669.9 183.7 L1670.0 182.2 L1670.1 181.8 L1670.3 178.8 L1670.4 178.8 L1670.6 175.6 L1670.7 173.8 L1670.8 175.1 L1671.0 173.1 L1671.1 171.1 L1671.2 168.6 L1671.4 167.0 L1671.5 166.2 L1671.7 162.2 L1671.8 161.8 L1671.9 162.9 L1672.1 158.7 L1672.2 160.0 L1672.4 161.3 L1672.5 160.7 L1672.6 160.0 L1672.8 160.0 L1672.9 160.8 L1673.1 157.5 L1673.2 157.7 L1673.3 157.8 L1673.5 158.0 L1673.6 157.9 L1673.8 155.6 L1673.9 155.6 L1674.0 156.9 L1674.2 155.0 L1674.3 152.1 L1674.4 153.3 L1674.6 152.9 L1674.7 154.0 L1674.9 157.8 L1675.0 158.9 L1675.1 158.5 L1675.3 158.6 L1675.4 159.5 L1675.6 160.0 L1675.7 158.9 L1675.8 162.7 L1676.0 163.0 L1676.1 162.2 L1676.2 163.9 L1676.4 164.7 L1676.5 165.5 L1676.7 167.8 L1676.8 169.4 L1676.9 169.3 L1677.1 173.3 L1677.2 172.2 L1677.4 175.8 L1677.5 176.1 L1677.6 178.0 L1677.8 177.8 L1677.9 175.6 L1678.1 175.2 L1678.2 175.5 L1678.3 175.6 L1678.5 171.1 L1678.6 170.7 L1678.8 171.7 L1678.9 166.7 L1679.0 168.5 L1679.2 169.6 L1679.3 167.3 L1679.4 168.9 L1679.6 170.8 L1679.7 173.3 L1679.9 179.0 L1680.0 184.4 L1680.1 186.1 L1680.3 194.1 L1680.4 197.2 L1680.6 203.3 L1680.7 202.4 L1680.8 199.8 L1681.0 198.0 L1681.1 195.6 L1681.2 190.8 L1681.4 190.5 L1681.5 186.9 L1681.7 182.2 L1681.8 182.5 L1681.9 181.0 L1682.1 180.4 L1682.2 180.0 L1682.4 177.9 L1682.5 175.7 L1682.6 176.5 L1682.8 175.6 L1682.9 176.6 L1683.1 175.5 L1683.2 178.6 L1683.3 177.8 L1683.5 178.4 L1683.6 177.2 L1683.8 175.9 L1683.9 173.3 L1684.0 171.9 L1684.2 169.0 L1684.3 168.1 L1684.4 167.8 L1684.6 168.1 L1684.7 168.5 L1684.9 164.6 L1685.0 165.6 L1685.1 164.2 L1685.3 166.1 L1685.4 166.6 L1685.6 167.8 L1685.7 169.3 L1685.8 168.2 L1686.0 172.7 L1686.1 172.2 L1686.2 170.4 L1686.4 171.9 L1686.5 168.1 L1686.7 167.8 L1686.8 168.2 L1686.9 169.0 L1687.1 174.2 L1687.2 173.3 L1687.4 173.1 L1687.5 173.5 L1687.6 170.0 L1687.8 171.1 L1687.9 174.2 L1688.1 178.2 L1688.2 182.6 L1688.3 182.2 L1688.5 182.8 L1688.6 176.8 L1688.8 176.6 L1688.9 175.6 L1689.0 180.7 L1689.2 180.2 L1689.3 184.9 L1689.4 184.4 L1689.6 182.2 L1689.7 180.1 L1689.9 183.1 L1690.0 180.0 L1690.1 179.6 L1690.3 181.3 L1690.4 181.1 L1690.6 182.2 L1690.7 181.5 L1690.8 182.0 L1691.0 180.9 L1691.1 177.8 L1691.2 182.2 L1691.4 180.8 L1691.5 186.3 L1691.7 186.7 L1691.8 185.6 L1691.9 188.5 L1692.1 192.0 L1692.2 191.1 L1692.4 188.2 L1692.5 187.1 L1692.6 186.5 L1692.8 184.4 L1692.9 184.0 L1693.1 186.4 L1693.2 186.7 L1693.3 186.7 L1693.5 183.7 L1693.6 186.3 L1693.8 181.4 L1693.9 182.2 L1694.0 182.4 L1694.2 180.5 L1694.3 179.2 L1694.4 180.0 L1694.6 176.1 L1694.7 179.3 L1694.9 176.6 L1695.0 173.3 L1695.1 172.0 L1695.3 172.4 L1695.4 172.1 L1695.6 168.9 L1695.7 175.8 L1695.8 176.9 L1696.0 179.0 L1696.1 184.4 L1696.2 184.0 L1696.4 185.2 L1696.5 183.7 L1696.7 182.2 L1696.8 181.4 L1696.9 180.7 L1697.1 176.7 L1697.2 175.6 L1697.4 178.7 L1697.5 183.4 L1697.6 181.9 L1697.8 186.7 L1697.9 191.8 L1698.1 189.1 L1698.2 195.2 L1698.3 197.8 L1698.5 196.5 L1698.6 192.6 L1698.8 195.0 L1698.9 191.1 L1699.0 187.1 L1699.2 181.7 L1699.3 179.7 L1699.4 176.7 L1699.6 176.2 L1699.7 174.7 L1699.9 172.1 L1700.0 173.3 L1700.1 171.2 L1700.3 173.0 L1700.4 170.2 L1700.6 171.1 L1700.7 167.5 L1700.8 168.5 L1701.0 166.6 L1701.1 162.2 L1701.2 163.3 L1701.4 160.5 L1701.5 159.6 L1701.7 161.1 L1701.8 164.5 L1701.9 165.5 L1702.1 166.2 L1702.2 168.9 L1702.4 167.6 L1702.5 169.7 L1702.6 169.5 L1702.8 171.1 L1702.9 172.9 L1703.1 176.2 L1703.2 173.9 L1703.3 176.7 L1703.5 175.6 L1703.6 178.5 L1703.8 176.8 L1703.9 178.9 L1704.0 179.5 L1704.2 183.0 L1704.3 188.4 L1704.4 187.8 L1704.6 183.5 L1704.7 180.4 L1704.9 178.4 L1705.0 175.6 L1705.1 173.7 L1705.3 174.1 L1705.4 174.7 L1705.6 173.3 L1705.7 172.1 L1705.8 173.4 L1706.0 170.4 L1706.1 171.1 L1706.2 170.7 L1706.4 175.1 L1706.5 175.9 L1706.7 177.8 L1706.8 178.6 L1706.9 173.8 L1707.1 175.6 L1707.2 173.3 L1707.4 173.2 L1707.5 171.1 L1707.6 169.3 L1707.8 170.0 L1707.9 171.0 L1708.1 172.1 L1708.2 171.6 L1708.3 172.2 L1708.5 172.4 L1708.6 173.4 L1708.8 173.4 L1708.9 173.3 L1709.0 174.1 L1709.2 174.1 L1709.3 176.5 L1709.4 177.8 L1709.6 180.3 L1709.7 184.5 L1709.9 187.3 L1710.0 186.7 L1710.1 188.0 L1710.3 188.1 L1710.4 188.7 L1710.6 191.1 L1710.7 192.8 L1710.8 194.4 L1711.0 193.3 L1711.1 195.6 L1711.2 198.2 L1711.4 201.5 L1711.5 200.0 L1711.7 202.2 L1711.8 203.2 L1711.9 200.3 L1712.1 200.4 L1712.2 198.9 L1712.4 198.8 L1712.5 192.7 L1712.6 191.3 L1712.8 190.0 L1712.9 191.2 L1713.1 186.5 L1713.2 186.7 L1713.3 186.7 L1713.5 186.9 L1713.6 188.1 L1713.8 188.0 L1713.9 187.8 L1714.0 191.3 L1714.2 191.4 L1714.3 189.5 L1714.4 193.3 L1714.6 193.0 L1714.7 195.1 L1714.9 199.6 L1715.0 202.2 L1715.1 201.2 L1715.3 204.6 L1715.4 206.2 L1715.6 206.7 L1715.7 206.1 L1715.8 209.2 L1716.0 208.0 L1716.1 208.9 L1716.2 210.8 L1716.4 208.9 L1716.5 210.1 L1716.7 210.0 L1716.8 207.2 L1716.9 202.3 L1717.1 202.8 L1717.2 197.8 L1717.4 195.3 L1717.5 195.7 L1717.6 195.4 L1717.8 195.6 L1717.9 196.0 L1718.1 192.8 L1718.2 189.1 L1718.3 190.0 L1718.5 188.3 L1718.6 188.8 L1718.8 188.8 L1718.9 186.7 L1719.0 184.6 L1719.2 186.6 L1719.3 184.6 L1719.4 184.4 L1719.6 186.0 L1719.7 186.8 L1719.9 188.3 L1720.0 190.0 L1720.1 192.5 L1720.3 192.7 L1720.4 193.3 L1720.6 192.2 L1720.7 191.6 L1720.8 189.4 L1721.0 184.4 L1721.1 184.4 L1721.2 177.3 L1721.4 179.0 L1721.5 174.0 L1721.7 168.9 L1721.8 167.9 L1721.9 164.6 L1722.1 162.7 L1722.2 162.2 L1722.4 163.3 L1722.5 161.2 L1722.6 158.7 L1722.8 160.0 L1722.9 156.8 L1723.1 154.7 L1723.2 150.8 L1723.3 151.1 L1723.5 152.4 L1723.6 151.6 L1723.8 150.7 L1723.9 148.9 L1724.0 146.4 L1724.2 147.5 L1724.3 145.7 L1724.4 146.7 L1724.6 146.6 L1724.7 145.8 L1724.9 144.6 L1725.0 142.2 L1725.1 143.0 L1725.3 140.3 L1725.4 139.6 L1725.5 141.1 L1725.7 140.8 L1725.9 146.9 L1726.1 148.8 L1726.3 148.9 L1726.5 149.8 L1726.7 149.4 L1726.9 152.8 L1727.1 152.1 L1727.3 149.7 L1727.5 149.8 L1727.7 147.7 L1727.9 148.9 L1728.0 155.5 L1728.1 154.6 L1728.2 160.3 L1728.3 161.5 L1728.5 160.5 L1728.7 155.8 L1728.8 155.5 L1729.0 148.9 L1729.1 148.2 L1729.2 146.8 L1729.3 144.6 L1729.4 139.5 L1729.6 136.4 L1729.8 138.3 L1730.0 134.7 L1730.2 134.8 L1730.4 134.5 L1730.6 135.0 L1730.8 137.7 L1731.0 136.3 L1731.2 135.7 L1731.4 139.2 L1731.6 139.2 L1731.8 142.6 L1732.0 143.3 L1732.2 137.9 L1732.4 136.8 L1732.6 133.2 L1732.8 134.9 L1733.0 137.7 L1733.2 137.1 L1733.4 139.5 L1733.6 137.9 L1733.8 138.3 L1734.0 136.9 L1734.2 134.8 L1734.4 135.4 L1734.6 131.5 L1734.8 132.8 L1735.0 130.0 L1735.2 129.7 L1735.4 127.3 L1735.6 124.8 L1735.7 123.7 L1735.9 126.5 L1736.1 125.9 L1736.3 128.4 L1736.5 133.2 L1736.7 133.2 L1736.9 133.2 L1737.1 133.7 L1737.3 136.3 L1737.5 135.3 L1737.7 133.0 L1737.9 130.0 L1738.1 126.9 L1738.3 123.8 L1738.5 124.9 L1738.7 123.8 L1738.9 120.6 L1739.1 121.0 L1739.3 119.7 L1739.5 120.8 L1739.7 120.6 L1739.9 120.9 L1740.1 121.2 L1740.3 121.5 L1740.5 123.7 L1740.7 128.3 L1740.9 129.3 L1741.1 133.4 L1741.3 133.2 L1741.5 133.1 L1741.7 135.1 L1741.9 138.0 L1742.0 139.5 L1742.2 138.6 L1742.4 140.9 L1742.6 143.2 L1742.8 144.2 L1743.0 144.5 L1743.2 146.5 L1743.4 145.7 L1743.6 145.8 L1743.8 146.7 L1744.0 146.9 L1744.2 148.0 L1744.4 147.4 L1744.6 142.9 L1744.8 136.8 L1745.0 140.1 L1745.2 133.2 L1745.4 133.1 L1745.6 128.1 L1745.8 126.5 L1746.0 126.9 L1746.2 125.0 L1746.4 126.0 L1746.6 123.0 L1746.8 123.7 L1747.0 123.2 L1747.2 128.4 L1747.4 127.8 L1747.6 133.2 L1747.8 130.4 L1748.0 129.4 L1748.1 127.0 L1748.3 126.9 L1748.5 127.3 L1748.7 133.1 L1748.9 136.9 L1749.1 142.6 L1749.3 139.2 L1749.5 137.4 L1749.7 134.7 L1749.9 133.2 L1750.1 130.2 L1750.3 126.6 L1750.5 129.2 L1750.7 125.3 L1750.9 127.1 L1751.1 126.9 L1751.3 125.6 L1751.5 128.5 L1751.7 128.4 L1751.9 132.7 L1752.1 131.8 L1752.3 133.2 L1752.5 129.0 L1752.7 130.4 L1752.9 128.5 L1753.1 123.7 L1753.3 123.0 L1753.5 125.3 L1753.7 126.4 L1753.9 126.9 L1754.1 126.1 L1754.3 127.7 L1754.4 129.7 L1754.6 130.0 L1754.8 127.7 L1755.0 123.9 L1755.2 120.3 L1755.4 115.9 L1755.6 114.1 L1755.8 111.5 L1756.0 110.1 L1756.2 111.1 L1756.4 111.8 L1756.6 111.1 L1756.8 110.5 L1757.0 108.0 L1757.2 105.4 L1757.4 107.5 L1757.6 104.3 L1757.8 104.8 L1758.0 105.0 L1758.2 105.2 L1758.4 108.7 L1758.6 108.0 L1758.8 112.3 L1759.0 114.7 L1759.2 114.4 L1759.4 117.4 L1759.6 124.4 L1759.8 123.6 L1760.0 129.8 L1760.2 133.2 L1760.3 135.6 L1760.4 135.0 L1760.5 137.3 L1760.6 139.5 L1760.8 132.8 L1760.9 133.7 L1761.1 125.5 L1761.3 123.7 L1761.4 121.4 L1761.6 121.2 L1761.7 122.0 L1761.9 120.6 L1762.0 118.4 L1762.2 114.5 L1762.4 113.6 L1762.5 108.0 L1762.7 109.8 L1762.9 108.4 L1763.1 110.5 L1763.3 111.1 L1763.5 110.6 L1763.7 111.6 L1763.9 112.0 L1764.1 114.3 L1764.3 109.4 L1764.5 108.7 L1764.7 109.5 L1764.9 104.8 L1765.1 106.3 L1765.3 104.7 L1765.5 106.0 L1765.7 108.0 L1765.9 106.5 L1766.1 104.2 L1766.3 99.5 L1766.5 100.1 L1766.7 98.2 L1766.9 99.6 L1767.0 99.3 L1767.2 98.5 L1767.4 96.0 L1767.6 98.1 L1767.8 95.1 L1768.0 95.4 L1768.2 97.4 L1768.4 98.7 L1768.6 99.3 L1768.8 101.7 L1769.0 102.4 L1769.2 98.0 L1769.4 96.6 L1769.6 95.4 L1769.8 94.4 L1770.0 94.6 L1770.2 94.1 L1770.4 90.7 L1770.6 92.1 L1770.8 91.6 L1771.0 92.6 L1771.2 92.2 L1771.4 95.0 L1771.6 98.7 L1771.8 100.8 L1772.0 100.1 L1772.2 102.0 L1772.4 100.5 L1772.6 102.8 L1772.8 103.3 L1773.0 103.8 L1773.1 103.7 L1773.3 106.8 L1773.5 106.4 L1773.7 101.8 L1773.9 102.3 L1774.1 98.1 L1774.3 95.4 L1774.5 94.3 L1774.7 94.7 L1774.9 94.0 L1775.1 92.2 L1775.3 93.2 L1775.5 91.6 L1775.7 89.0 L1775.9 85.9 L1776.1 84.7 L1776.3 85.8 L1776.5 84.7 L1776.7 84.4 L1776.9 85.2 L1777.1 81.8 L1777.3 80.2 L1777.5 79.6 L1777.7 78.3 L1777.9 80.3 L1778.1 80.9 L1778.3 81.2 L1778.5 81.5 L1778.7 81.8 L1778.9 84.7 L1779.1 85.9 L1779.3 85.9 L1779.4 89.3 L1779.6 93.8 L1779.8 97.0 L1780.0 99.1 L1780.2 103.3 L1780.4 106.6 L1780.6 109.6 L1780.8 107.0 L1781.0 103.6 L1781.2 101.0 L1781.4 101.7 L1781.6 101.2 L1781.8 102.1 L1782.0 98.4 L1782.2 98.5 L1782.4 95.3 L1782.6 92.7 L1782.8 92.9 L1783.0 89.1 L1783.2 89.5 L1783.4 91.0 L1783.6 88.5 L1783.8 90.7 L1784.0 89.7 L1784.2 90.4 L1784.4 91.4 L1784.6 92.2 L1784.8 93.3 L1785.0 94.8 L1785.2 99.3 L1785.4 98.5 L1785.6 95.0 L1785.7 92.8 L1785.9 92.3 L1786.1 85.9 L1786.3 86.1 L1786.5 85.5 L1786.7 86.0 L1786.9 84.4 L1787.1 82.4 L1787.3 79.9 L1787.5 82.9 L1787.7 79.6 L1787.9 80.6 L1788.1 81.6 L1788.3 80.2 L1788.5 82.8 L1788.7 82.5 L1788.9 79.0 L1789.1 78.8 L1789.3 76.5 L1789.5 75.6 L1789.7 77.5 L1789.9 75.5 L1790.1 75.7 L1790.3 78.3 L1790.5 86.7 L1790.7 86.2 L1790.9 92.2 L1791.1 92.9 L1791.3 96.1 L1791.5 100.8 L1791.7 100.1 L1791.9 99.5 L1792.0 101.1 L1792.2 105.0 L1792.4 104.8 L1792.6 106.6 L1792.7 113.7 L1792.8 121.0 L1792.9 123.7 L1793.1 126.4 L1793.2 128.4 L1793.4 126.5 L1793.5 130.0 L1793.7 133.6 L1793.8 132.5 L1793.9 136.4 L1794.0 136.3 L1794.2 133.0 L1794.4 132.8 L1794.6 126.7 L1794.8 123.7 L1795.0 120.9 L1795.2 118.8 L1795.4 119.0 L1795.6 117.4 L1795.8 116.4 L1796.0 117.6 L1796.2 121.4 L1796.4 120.6 L1796.5 125.8 L1796.6 132.6 L1796.7 132.3 L1796.9 139.5 L1797.0 145.6 L1797.1 151.9 L1797.2 155.6 L1797.3 164.7 L1797.5 162.9 L1797.6 164.9 L1797.8 163.2 L1798.0 161.5 L1798.1 154.5 L1798.3 148.1 L1798.5 142.8 L1798.7 133.2 L1798.9 133.9 L1799.1 130.5 L1799.3 126.2 L1799.5 126.9 L1799.7 127.2 L1799.9 122.0 L1800.1 120.8 L1800.3 120.6 L1800.5 114.9 L1800.7 114.4 L1800.9 111.7 L1801.1 108.0 L1801.3 105.8 L1801.5 103.9 L1801.7 100.1 L1801.9 100.1 L1802.1 100.2 L1802.3 98.7 L1802.5 97.0 L1802.7 97.0 L1802.9 98.0 L1803.1 98.4 L1803.3 98.3 L1803.5 97.0 L1803.7 98.2 L1803.9 93.6 L1804.1 94.1 L1804.3 93.8 L1804.4 92.8 L1804.6 91.2 L1804.8 92.5 L1805.0 90.7 L1805.2 91.4 L1805.4 86.6 L1805.6 87.2 L1805.8 85.9 L1806.0 86.7 L1806.2 84.8 L1806.4 81.0 L1806.6 79.6 L1806.8 77.8 L1807.0 78.7 L1807.2 78.5 L1807.4 78.1 L1807.6 80.6 L1807.8 79.0 L1808.0 80.6 L1808.2 82.8 L1808.4 84.0 L1808.6 79.2 L1808.8 80.9 L1809.0 79.6 L1809.2 78.6 L1809.4 81.4 L1809.6 80.5 L1809.8 81.2 L1810.0 82.2 L1810.2 78.5 L1810.4 80.4 L1810.6 78.1 L1810.7 77.2 L1810.9 76.6 L1811.1 76.7 L1811.3 78.1 L1811.5 76.1 L1811.7 76.9 L1811.9 78.6 L1812.1 76.5 L1812.3 75.6 L1812.5 76.5 L1812.7 73.6 L1812.9 74.9 L1813.1 73.4 L1813.3 72.0 L1813.5 68.2 L1813.7 68.6 L1813.9 69.3 L1814.1 69.2 L1814.3 69.2 L1814.5 70.2 L1814.7 72.9 L1814.9 73.4 L1815.1 72.0 L1815.3 74.9 L1815.5 70.8 L1815.7 68.5 L1815.9 67.7 L1816.1 67.0 L1816.3 66.8 L1816.5 67.4 L1816.7 66.6 L1816.9 63.9 L1817.0 64.6 L1817.2 60.8 L1817.4 62.7 L1817.6 60.7 L1817.8 61.3 L1818.0 59.9 L1818.2 61.4 L1818.4 59.2 L1818.6 58.8 L1818.8 56.0 L1819.0 55.6 L1819.2 56.0 L1819.4 54.3 L1819.6 55.6 L1819.8 55.3 L1820.0 54.4 L1820.2 57.8 L1820.4 55.1 L1820.6 56.7 L1820.8 60.7 L1821.0 65.3 L1821.2 63.4 L1821.4 65.3 L1821.6 68.6 L1821.8 72.6 L1822.0 70.4 L1822.2 76.2 L1822.4 76.5 L1822.6 78.3 L1822.8 77.5 L1823.0 78.1 L1823.1 78.1 L1823.3 76.6 L1823.5 79.2 L1823.7 79.7 L1823.9 79.6 L1824.1 79.2 L1824.3 75.8 L1824.5 71.6 L1824.7 71.8 L1824.9 69.3 L1825.1 70.1 L1825.3 66.3 L1825.5 67.0 L1825.7 64.6 L1825.9 64.4 L1826.1 65.9 L1826.3 63.9 L1826.5 64.5 L1826.7 64.2 L1826.9 66.8 L1827.1 65.5 L1827.3 64.3 L1827.5 61.0 L1827.7 61.1 L1827.9 59.2 L1828.1 60.1 L1828.3 57.9 L1828.5 57.8 L1828.7 57.6 L1828.9 58.7 L1829.1 61.2 L1829.3 60.5 L1829.4 60.7 L1829.6 60.2 L1829.8 62.7 L1830.0 62.4 L1830.2 63.9 L1830.4 66.1 L1830.6 69.9 L1830.8 68.1 L1831.0 73.3 L1831.2 77.3 L1831.4 79.9 L1831.6 85.9 L1831.8 89.1 L1831.9 95.3 L1832.0 96.7 L1832.2 101.8 L1832.3 104.8" stroke="#0000ff" stroke-width="2.4" fill="none" stroke-linejoin="round"/>
<path d="M88.4 895.9 L99.8 895.9 L101.6 894.1 L108.6 887.1 L112.1 881.8 L119.2 873.0 L122.7 867.8 L128.0 859.0 L133.3 853.7 L138.5 848.4 L143.8 843.1 L150.8 840.5 L156.1 839.6 L161.4 840.1 L166.7 837.9 L172.0 838.7 L177.2 838.2 L184.3 837.0 L189.5 834.3 L194.8 831.7 L200.1 827.3 L203.6 823.8 L208.9 816.7 L214.2 808.0 L219.4 795.6 L224.7 790.4 L228.2 785.1 L230.0 779.8 L235.3 778.9 L240.6 778.9 L245.8 772.8 L251.1 769.3 L256.4 765.7 L261.7 761.3 L266.9 758.7 L271.3 757.8 L274.0 756.1 L277.5 752.5 L281.0 748.1 L284.0 747.3 L285.6 745.6 L288.9 747.2 L291.1 746.7 L294.4 744.4 L297.8 742.8 L302.2 741.7 L305.6 740.0 L308.9 737.8 L310.6 734.4 L313.3 730.0 L316.7 726.7 L321.1 721.1 L323.3 717.8 L326.7 711.1 L330.0 702.2 L332.7 696.1 L336.2 689.9 L339.7 685.5 L344.1 684.7 L348.5 685.5 L352.0 683.8 L357.3 682.9 L365.2 682.9 L369.6 679.4 L373.1 677.6 L378.4 676.7 L383.7 675.0 L389.0 666.2 L394.2 655.6 L401.3 648.6 L408.3 642.4 L415.3 638.9 L420.6 632.8 L425.9 628.4 L431.2 626.6 L436.5 624.0 L441.7 620.5 L447.0 616.9 L450.0 615.2 L451.8 614.0 L453.5 615.7 L457.0 618.4 L462.3 620.1 L467.6 620.1 L472.9 617.5 L478.1 616.1 L483.4 617.1 L490.5 617.8 L496.6 617.8 L499.3 616.1 L502.8 615.7 L506.3 617.1 L509.8 620.1 L513.3 623.6 L516.8 628.9 L520.4 636.0 L523.9 642.1 L527.4 648.3 L530.9 653.6 L534.4 659.7 L538.0 667.6 L541.5 675.5 L544.1 680.8 L548.5 684.3 L552.0 686.4 L557.3 687.0 L562.6 684.7 L569.6 681.7 L574.9 678.2 L580.2 672.0 L583.7 667.6 L587.2 660.6 L592.5 655.3 L597.8 647.4 L603.0 636.8 L608.3 631.6 L613.6 624.5 L618.9 619.3 L624.1 613.1 L629.4 606.1 L634.7 598.1 L640.0 589.3 L643.5 580.6 L647.0 572.6 L647.8 567.0 L653.3 554.1 L658.9 543.0 L664.4 530.0 L670.0 517.0 L675.6 507.8 L681.1 494.8 L685.7 485.6 L692.2 478.1 L699.6 465.2 L705.2 448.5 L710.7 433.7 L716.3 418.9 L720.0 409.6 L723.7 402.2 L731.1 393.0 L740.8 384.5 L746.7 376.7 L752.5 368.9 L758.3 361.2 L762.2 356.3 L768.1 345.6 L772.0 333.9 L775.9 322.3 L779.7 310.6 L783.6 300.9 L788.5 289.2 L793.4 279.5 L799.2 269.7 L803.1 262.0 L807.9 254.2 L814.7 247.4 L820.0 254.2 L823.0 257.8 L825.7 263.3 L828.5 268.9 L831.3 274.4 L835.0 277.2 L837.8 279.1 L840.6 283.7 L843.3 293.0 L846.1 304.1 L849.8 317.0 L853.5 330.0 L856.3 341.1 L859.1 352.2 L861.9 363.3 L864.6 376.3 L867.4 389.3 L870.2 402.2 L873.0 415.2 L874.8 424.4 L877.5 445.0 L880.0 460.0 L882.5 475.0 L885.0 487.5 L888.8 502.5 L892.5 517.5 L896.2 530.0 L898.8 543.8 L900.8 545.5 L903.0 544.5 L906.2 540.5 L910.0 530.0 L913.8 515.0 L917.5 500.0 L921.2 485.0 L925.0 470.0 L928.8 455.0 L932.5 442.5 L936.2 432.5 L940.0 425.0 L942.9 415.1 L945.5 406.3 L948.2 405.4 L955.2 405.4 L960.5 410.7 L965.7 415.1 L971.0 416.9 L976.3 417.7 L981.6 418.6 L986.0 420.4 L988.6 423.0 L992.1 420.4 L995.7 417.7 L999.2 415.1 L1002.7 410.7 L1006.2 408.1 L1009.7 406.3 L1015.0 408.1 L1018.5 410.7 L1022.1 415.1 L1025.6 422.1 L1029.1 429.2 L1032.6 434.5 L1036.1 441.5 L1039.6 448.5 L1043.2 455.6 L1046.7 462.6 L1050.2 469.6 L1053.7 473.2 L1057.2 476.7 L1060.8 479.3 L1066.0 480.2 L1071.3 480.2 L1075.7 480.2 L1080.1 476.7 L1083.6 473.2 L1087.2 469.6 L1092.4 467.9 L1096.0 464.4 L1100.0 460.0 L1105.6 450.0 L1109.1 439.4 L1112.6 428.9 L1116.1 420.1 L1119.6 411.3 L1123.1 402.5 L1128.4 395.4 L1133.7 388.4 L1139.0 379.6 L1144.3 370.8 L1149.5 363.8 L1154.8 360.3 L1160.1 357.6 L1165.4 353.2 L1170.6 346.2 L1175.9 340.9 L1181.2 335.6 L1186.5 332.1 L1190.9 329.5 L1195.3 326.8 L1200.5 325.1 L1205.8 322.4 L1209.3 324.2 L1217.3 324.2 L1223.4 318.0 L1230.4 311.0 L1235.7 311.0 L1241.0 310.1 L1246.3 306.6 L1249.8 308.4 L1255.1 311.0 L1261.2 314.5 L1265.6 321.6 L1271.1 332.6 L1277.1 345.8 L1283.0 356.2 L1287.4 363.8 L1290.4 368.2 L1295.0 367.7 L1302.3 366.0 L1307.6 362.5 L1314.6 359.0 L1319.9 353.7 L1325.2 346.6 L1330.5 337.9 L1337.5 330.8 L1342.8 320.3 L1348.0 315.0 L1353.3 310.6 L1360.4 304.4 L1365.6 299.2 L1370.9 298.3 L1376.2 295.6 L1381.5 293.0 L1386.7 291.2 L1392.0 291.2 L1399.1 290.4 L1404.3 286.8 L1409.6 283.3 L1414.9 278.9 L1420.2 274.5 L1425.4 271.9 L1429.0 271.9 L1434.2 274.5 L1438.6 277.2 L1443.0 278.0 L1448.3 277.7 L1455.3 277.7 L1461.5 277.7 L1465.9 276.3 L1471.2 271.0 L1474.7 265.7 L1480.0 256.9 L1483.5 248.1 L1487.0 241.1 L1490.0 235.0 L1495.0 230.0 L1500.0 225.0 L1505.0 217.5 L1507.5 213.3 L1510.0 220.0 L1513.3 228.3 L1516.7 236.7 L1520.0 246.7 L1525.0 255.0 L1530.0 263.3 L1535.0 271.7 L1538.3 278.3 L1541.7 286.7 L1545.0 295.0 L1547.5 301.7 L1550.0 305.0 L1551.7 303.3 L1555.0 290.0 L1558.3 280.0 L1561.7 271.7 L1565.0 265.0 L1570.0 256.7 L1575.0 246.7 L1576.7 240.0 L1578.9 235.6 L1581.1 230.0 L1583.3 224.4 L1585.6 217.8 L1587.8 211.1 L1590.0 205.6 L1592.2 201.1 L1595.6 196.7 L1598.9 193.3 L1603.3 188.9 L1607.8 184.4 L1611.1 181.1 L1614.4 178.9 L1618.9 178.9 L1622.2 180.0 L1625.6 180.0 L1628.9 178.9 L1632.2 179.4 L1635.6 181.1 L1638.9 184.4 L1642.2 187.8 L1645.6 190.0 L1648.9 191.7 L1652.2 194.4 L1655.6 197.8 L1658.9 201.1 L1662.2 201.1 L1665.6 200.0 L1668.9 200.6 L1673.3 201.1 L1676.7 199.4 L1681.1 197.8 L1684.4 194.4 L1687.8 191.1 L1691.1 189.4 L1694.4 188.3 L1697.8 184.4 L1701.1 181.1 L1704.4 177.8 L1708.9 177.8 L1714.4 177.8 L1717.8 181.1 L1721.1 183.3 L1724.4 180.0 L1726.7 178.9 L1730.0 177.8 L1732.6 175.7 L1737.3 169.4 L1742.0 164.7 L1746.8 160.0 L1751.5 155.2 L1755.4 152.1 L1759.4 142.6 L1764.1 134.8 L1768.8 128.5 L1773.5 123.7 L1778.3 117.4 L1783.0 114.3 L1787.7 109.6 L1790.9 105.6 L1794.0 104.1 L1798.0 104.1 L1801.1 104.8 L1803.5 103.3 L1808.2 100.1 L1814.5 97.0 L1819.2 93.8 L1823.9 91.5 L1828.7 89.1 L1831.0 87.2 L1832.3 87.2" stroke="#ff0000" stroke-width="1.1" fill="none" stroke-linejoin="round"/>
<rect x="86" y="47" width="1749" height="948" fill="none" stroke="#000" stroke-width="4" stroke-linejoin="round"/>
<path d="M81 977.9H84 M1837 977.9H1840 M76 917.0H84 M1837 917.0H1845 M81 861.9H84 M1837 861.9H1840 M81 811.5H84 M1837 811.5H1840 M81 765.2H84 M1837 765.2H1840 M81 722.4H84 M1837 722.4H1840 M76 682.5H84 M1837 682.5H1845 M81 645.1H84 M1837 645.1H1840 M81 610.1H84 M1837 610.1H1840 M81 577.0H84 M1837 577.0H1840 M81 545.7H84 M1837 545.7H1840 M76 516.1H84 M1837 516.1H1845 M81 487.8H84 M1837 487.8H1840 M81 460.9H84 M1837 460.9H1840 M81 435.2H84 M1837 435.2H1840 M81 410.6H84 M1837 410.6H1840 M76 387.0H84 M1837 387.0H1845 M81 364.3H84 M1837 364.3H1840 M81 342.5H84 M1837 342.5H1840 M81 321.4H84 M1837 321.4H1840 M81 301.1H84 M1837 301.1H1840 M76 281.5H84 M1837 281.5H1845 M81 262.6H84 M1837 262.6H1840 M81 244.2H84 M1837 244.2H1840 M81 226.4H84 M1837 226.4H1840 M81 209.1H84 M1837 209.1H1840 M76 192.4H84 M1837 192.4H1845 M81 176.1H84 M1837 176.1H1840 M81 160.2H84 M1837 160.2H1840 M81 144.8H84 M1837 144.8H1840 M81 129.8H84 M1837 129.8H1840 M76 115.1H84 M1837 115.1H1845 M81 100.8H84 M1837 100.8H1840 M81 86.9H84 M1837 86.9H1840 M81 73.3H84 M1837 73.3H1840 M81 60.0H84 M1837 60.0H1840 M76 47.0H84 M1837 47.0H1845" stroke="#000" stroke-width="1.8" fill="none"/>
<path d="M129.5 997V1000 M186.5 997V1000 M243.5 997V1000 M300.5 997V1000 M357.5 997V1005 M414.5 997V1000 M471.5 997V1000 M528.5 997V1000 M585.5 997V1000 M642.5 997V1005 M699.5 997V1000 M756.5 997V1000 M813.5 997V1000 M870.5 997V1000 M927.5 997V1005 M984.5 997V1000 M1041.5 997V1000 M1098.5 997V1000 M1155.5 997V1000 M1212.5 997V1005 M1269.5 997V1000 M1326.5 997V1000 M1383.5 997V1000 M1440.5 997V1000 M1497.5 997V1005 M1554.5 997V1000 M1611.5 997V1000 M1668.5 997V1000 M1725.5 997V1000 M1782.5 997V1005" stroke="#000" stroke-width="1.3" fill="none"/>
<text x="68.8" y="52.8" font-family="Liberation Sans, Arial, sans-serif" font-weight="bold" font-size="24" text-anchor="end">1800</text>
<text x="1852" y="52.8" font-family="Liberation Sans, Arial, sans-serif" font-weight="bold" font-size="24">1800</text>
<text x="68.8" y="120.9" font-family="Liberation Sans, Arial, sans-serif" font-weight="bold" font-size="24" text-anchor="end">1600</text>
<text x="1852" y="120.9" font-family="Liberation Sans, Arial, sans-serif" font-weight="bold" font-size="24">1600</text>
<text x="68.8" y="198.2" font-family="Liberation Sans, Arial, sans-serif" font-weight="bold" font-size="24" text-anchor="end">1400</text>
<text x="1852" y="198.2" font-family="Liberation Sans, Arial, sans-serif" font-weight="bold" font-size="24">1400</text>
<text x="68.8" y="287.3" font-family="Liberation Sans, Arial, sans-serif" font-weight="bold" font-size="24" text-anchor="end">1200</text>
<text x="1852" y="287.3" font-family="Liberation Sans, Arial, sans-serif" font-weight="bold" font-size="24">1200</text>
<text x="68.8" y="392.8" font-family="Liberation Sans, Arial, sans-serif" font-weight="bold" font-size="24" text-anchor="end">1000</text>
<text x="1852" y="392.8" font-family="Liberation Sans, Arial, sans-serif" font-weight="bold" font-size="24">1000</text>
<text x="68.8" y="521.9" font-family="Liberation Sans, Arial, sans-serif" font-weight="bold" font-size="24" text-anchor="end">800</text>
<text x="1852" y="521.9" font-family="Liberation Sans, Arial, sans-serif" font-weight="bold" font-size="24">800</text>
<text x="68.8" y="688.3" font-family="Liberation Sans, Arial, sans-serif" font-weight="bold" font-size="24" text-anchor="end">600</text>
<text x="1852" y="688.3" font-family="Liberation Sans, Arial, sans-serif" font-weight="bold" font-size="24">600</text>
<text x="68.8" y="922.8" font-family="Liberation Sans, Arial, sans-serif" font-weight="bold" font-size="24" text-anchor="end">400</text>
<text x="1852" y="922.8" font-family="Liberation Sans, Arial, sans-serif" font-weight="bold" font-size="24">400</text>
<text x="357.5" y="1029.4" font-family="Liberation Sans, Arial, sans-serif" font-weight="bold" font-size="24" text-anchor="middle">2000</text>
<text x="642.5" y="1029.4" font-family="Liberation Sans, Arial, sans-serif" font-weight="bold" font-size="24" text-anchor="middle">2005</text>
<text x="927.5" y="1029.4" font-family="Liberation Sans, Arial, sans-serif" font-weight="bold" font-size="24" text-anchor="middle">2010</text>
<text x="1212.5" y="1029.4" font-family="Liberation Sans, Arial, sans-serif" font-weight="bold" font-size="24" text-anchor="middle">2015</text>
<text x="1497.5" y="1029.4" font-family="Liberation Sans, Arial, sans-serif" font-weight="bold" font-size="24" text-anchor="middle">2020</text>
<text x="1782.5" y="1029.4" font-family="Liberation Sans, Arial, sans-serif" font-weight="bold" font-size="24" text-anchor="middle">2025</text>
<rect x="90" y="51" width="638" height="90" fill="#2e7d72"/>
<text x="409.8" y="85.6" font-family="Liberation Sans, Arial, sans-serif" font-weight="bold" font-size="30.7" fill="#fff" text-anchor="middle">AUSTRALIA MSCI STOCK PRICE INDEX</text>
<text x="409.2" y="127.2" font-family="Liberation Sans, Arial, sans-serif" font-weight="bold" font-size="30.7" fill="#fff" text-anchor="middle">(local currency, ratio scale, daily)</text>
<rect x="92.5" y="145.7" width="615.9" height="117" fill="#fff" stroke="#000" stroke-width="3" stroke-linejoin="round"/>
<path d="M99.5 162.5H153.7" stroke="#0000ff" stroke-width="2.5"/>
<path d="M99.5 189.4H153.7" stroke="#ff0000" stroke-width="1.3"/>
<rect x="99.5" y="207.5" width="54.2" height="17.8" fill="#d9d9d9"/>
<rect x="99.5" y="234.6" width="54.2" height="17.6" fill="#bebebe"/>
<text x="162.5" y="170.0" font-family="Liberation Sans, Arial, sans-serif" font-weight="bold" font-size="24">Australia (Dec 01 = 1,648.20)</text>
<text x="162.5" y="196.9" font-family="Liberation Sans, Arial, sans-serif" font-weight="bold" font-size="24">200-Day Moving Average (Dec 01 = 1,676.47)</text>
<text x="162.5" y="223.8" font-family="Liberation Sans, Arial, sans-serif" font-weight="bold" font-size="24">Recession</text>
<text x="162.5" y="250.7" font-family="Liberation Sans, Arial, sans-serif" font-weight="bold" font-size="24">Australia Recession</text>
<text x="89" y="1068" font-family="Liberation Sans, Arial, sans-serif" font-weight="bold" font-size="24">Source: LSEG Datastream and © Yardeni Research, and MSCI.</text>
</svg>
</body></html>
